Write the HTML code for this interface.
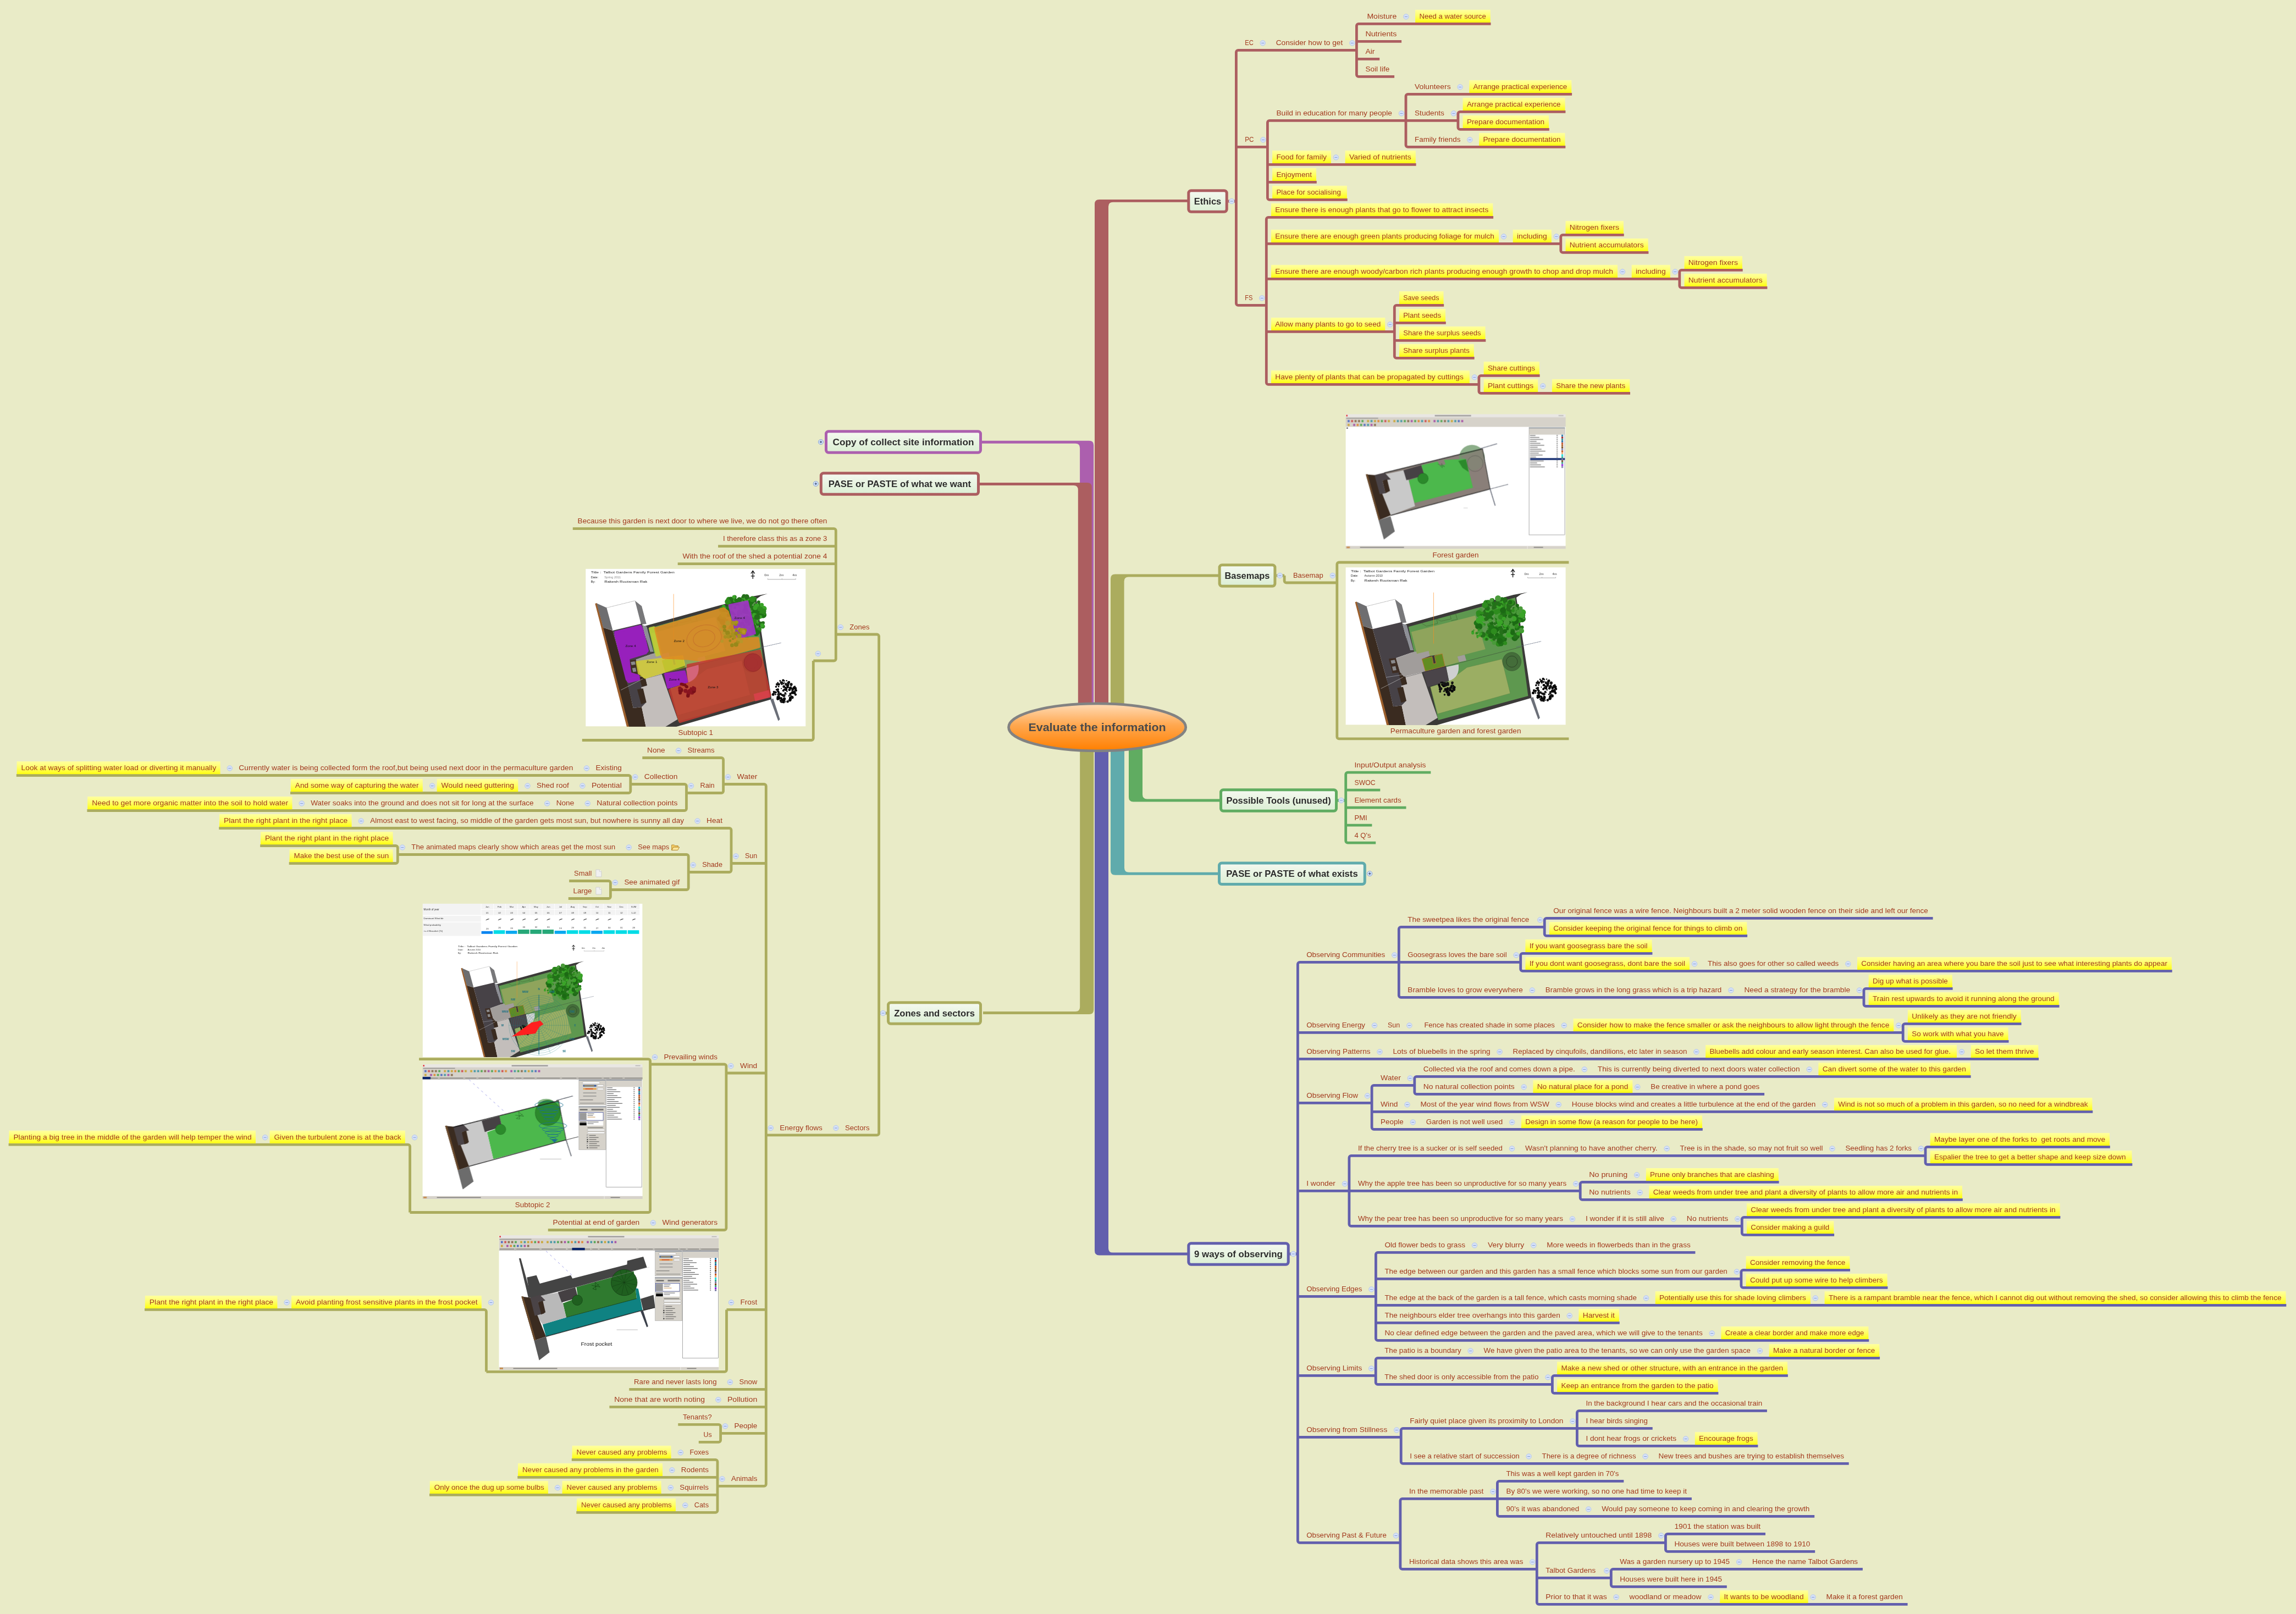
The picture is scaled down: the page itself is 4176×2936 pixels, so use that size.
<!DOCTYPE html>
<html><head><meta charset="utf-8"><title>Evaluate the information</title>
<style>html,body{margin:0;padding:0;background:#e9ebc7}svg{display:block;will-change:transform}text{white-space:pre}</style></head>
<body>
<svg width="4176" height="2936" viewBox="0 0 4176 2936" font-family="'Liberation Sans', sans-serif">
<defs>
<linearGradient id="yg" x1="0" y1="0" x2="0" y2="1"><stop offset="0" stop-color="#ffffa0"/><stop offset="0.5" stop-color="#ffff66"/><stop offset="1" stop-color="#ffff10"/></linearGradient>
<linearGradient id="mg" x1="0" y1="0" x2="0" y2="1"><stop offset="0" stop-color="#f5f9f0"/><stop offset="1" stop-color="#dbeed3"/></linearGradient>
<linearGradient id="og" x1="0" y1="0" x2="0" y2="1"><stop offset="0" stop-color="#ffdcb8"/><stop offset="0.45" stop-color="#ffa850"/><stop offset="1" stop-color="#ff7f00"/></linearGradient>
</defs>
<rect width="4176" height="2936" fill="#e9ebc7"/>
<path d="M1989.2 1323.0V810.0Q1989.2 801.8 1981.0 801.8H1784.0V806.7H1955.9Q1964.1 806.7 1964.1 814.9V1323.0Z" fill="#ac5fae"/>
<path d="M1985.7 1323.0V886.2Q1985.7 878.0 1977.5 878.0H1780.0V883.0H1952.6Q1960.8 883.0 1960.8 891.2V1323.0Z" fill="#ac5e60"/>
<path d="M1991.0 1323.0V371.1Q1991.0 362.9 1999.2 362.9H2161.0V367.8H2024.2Q2016.0 367.8 2016.0 376.0V1323.0Z" fill="#ac5e60"/>
<path d="M2020.0 1323.0V1052.8Q2020.0 1044.5 2028.2 1044.5H2217.0V1049.5H2052.8Q2044.6 1049.5 2044.6 1057.7V1323.0Z" fill="#abac5e"/>
<path d="M1989.3 1323.0V1836.8Q1989.3 1845.0 1981.1 1845.0H1788.0V1840.0H1956.0Q1964.2 1840.0 1964.2 1831.8V1323.0Z" fill="#abac5e"/>
<path d="M1991.0 1323.0V2275.2Q1991.0 2283.4 1999.2 2283.4H2161.0V2278.6H2024.2Q2016.0 2278.6 2016.0 2270.4V1323.0Z" fill="#625fad"/>
<path d="M2020.0 1323.0V1583.5Q2020.0 1591.7 2028.2 1591.7H2217.0V1586.8H2053.2Q2045.0 1586.8 2045.0 1578.5V1323.0Z" fill="#60abac"/>
<path d="M2053.0 1323.0V1450.2Q2053.0 1458.5 2061.2 1458.5H2220.0V1453.5H2086.2Q2078.0 1453.5 2078.0 1445.3V1323.0Z" fill="#60ac61"/>
<path d="M2252.0 91.3H2304.7M2304.7 91.3H2467.4M2471.0 43.3H2565.4M2565.4 43.3H2711.5M2467.4 75.3H2549.1M2467.4 107.3H2509.2M2471.0 139.3H2536.1M2467.4 91.3V46.9C2467.4 44.9 2469.0 43.3 2471.0 43.3M2467.4 91.3V135.7C2467.4 137.7 2469.0 139.3 2471.0 139.3M2248.4 267.3H2305.4M2309.0 219.3H2557.0M2560.6 171.3H2663.6M2663.6 171.3H2859.1M2557.0 219.3H2651.9M2655.5 203.3H2847.4M2655.5 235.3H2817.8M2651.9 219.3V206.9C2651.9 204.9 2653.5 203.3 2655.5 203.3M2651.9 219.3V231.7C2651.9 233.7 2653.5 235.3 2655.5 235.3M2560.6 267.3H2681.4M2681.4 267.3H2847.3M2557.0 219.3V174.9C2557.0 172.9 2558.6 171.3 2560.6 171.3M2557.0 219.3V263.7C2557.0 265.7 2558.6 267.3 2560.6 267.3M2305.4 299.3H2437.9M2437.9 299.3H2575.6M2305.4 331.3H2394.8M2309.0 363.3H2450.7M2305.4 267.3V222.9C2305.4 220.9 2307.0 219.3 2309.0 219.3M2305.4 267.3V359.7C2305.4 361.7 2307.0 363.3 2309.0 363.3M2252.0 555.3H2303.3M2306.9 395.3H2716.1M2303.3 443.3H2743.0M2743.0 443.3H2838.8M2842.4 427.3H2953.7M2842.4 459.3H2998.4M2838.8 443.3V430.9C2838.8 428.9 2840.4 427.3 2842.4 427.3M2838.8 443.3V455.7C2838.8 457.7 2840.4 459.3 2842.4 459.3M2303.3 507.3H2959.0M2959.0 507.3H3054.8M3058.4 491.3H3169.7M3058.4 523.3H3214.4M3054.8 507.3V494.9C3054.8 492.9 3056.4 491.3 3058.4 491.3M3054.8 507.3V519.7C3054.8 521.7 3056.4 523.3 3058.4 523.3M2303.3 603.3H2536.3M2539.9 555.3H2626.2M2536.3 587.3H2629.8M2536.3 619.3H2702.3M2539.9 651.3H2681.6M2536.3 603.3V558.9C2536.3 556.9 2537.9 555.3 2539.9 555.3M2536.3 603.3V647.7C2536.3 649.7 2537.9 651.3 2539.9 651.3M2306.9 699.3H2689.9M2693.5 683.3H2800.6M2693.5 715.3H2814.2M2814.2 715.3H2965.0M2689.9 699.3V686.9C2689.9 684.9 2691.5 683.3 2693.5 683.3M2689.9 699.3V711.7C2689.9 713.7 2691.5 715.3 2693.5 715.3M2303.3 555.3V398.9C2303.3 396.9 2304.9 395.3 2306.9 395.3M2303.3 555.3V695.7C2303.3 697.7 2304.9 699.3 2306.9 699.3M2248.4 366.0V94.9C2248.4 92.9 2250.0 91.3 2252.0 91.3M2248.4 366.0V551.7C2248.4 553.7 2250.0 555.3 2252.0 555.3M2233.7 366.0H2248.4" fill="none" stroke="#ac5e60" stroke-width="4.8" stroke-linejoin="round"/>
<path d="M2339.7 1060.0H2431.8M2435.4 1023.0H2853.4M2435.4 1343.8H2853.4M2431.8 1060.0V1026.5C2431.8 1024.6 2433.4 1023.0 2435.4 1023.0M2431.8 1060.0V1340.2C2431.8 1342.1 2433.4 1343.8 2435.4 1343.8M2336.1 1047.0V1056.4C2336.1 1058.4 2337.7 1060.0 2339.7 1060.0M2321.4 1047.0H2336.1M1595.0 1154.0H1520.3M1516.7 961.6H1041.8M1520.3 993.6H1306.1M1520.3 1025.6H1232.7M1516.7 1202.0H1479.3M1475.7 1346.5H1058.8M1479.3 1202.0V1342.9C1479.3 1344.9 1477.7 1346.5 1475.7 1346.5M1520.3 1154.0V965.2C1520.3 963.2 1518.7 961.6 1516.7 961.6M1520.3 1154.0V1198.5C1520.3 1200.4 1518.7 1202.0 1516.7 1202.0M1595.0 2064.9H1511.9M1511.9 2064.9H1393.3M1389.7 1426.5H1315.6M1312.0 1378.5H1225.6M1225.6 1378.5H1168.3M1312.0 1442.5H1248.5M1244.9 1426.5H1146.8M1143.2 1410.5H1058.4M1058.4 1410.5H409.3M409.3 1410.5H29.8M1143.2 1442.5H1050.9M1050.9 1442.5H951.0M951.0 1442.5H777.6M777.6 1442.5H528.0M1146.8 1426.5V1414.1C1146.8 1412.1 1145.2 1410.5 1143.2 1410.5M1146.8 1426.5V1438.9C1146.8 1440.9 1145.2 1442.5 1143.2 1442.5M1244.9 1474.5H1060.2M1060.2 1474.5H986.7M986.7 1474.5H540.2M540.2 1474.5H158.4M1248.5 1442.5V1430.1C1248.5 1428.1 1246.9 1426.5 1244.9 1426.5M1248.5 1442.5V1470.9C1248.5 1472.9 1246.9 1474.5 1244.9 1474.5M1315.6 1426.5V1382.1C1315.6 1380.1 1314.0 1378.5 1312.0 1378.5M1315.6 1426.5V1438.9C1315.6 1440.9 1314.0 1442.5 1312.0 1442.5M1393.3 1570.5H1330.0M1326.4 1506.5H1260.1M1260.1 1506.5H648.3M648.3 1506.5H398.2M1326.4 1586.5H1252.2M1248.6 1554.5H1135.2M1135.2 1554.5H723.3M719.7 1538.5H473.2M719.7 1570.5H525.7M723.3 1554.5V1542.1C723.3 1540.1 721.7 1538.5 719.7 1538.5M723.3 1554.5V1566.9C723.3 1568.9 721.7 1570.5 719.7 1570.5M1248.6 1618.5H1110.4M1106.8 1602.5H1035.2M1106.8 1634.5H1033.8M1110.4 1618.5V1606.1C1110.4 1604.1 1108.8 1602.5 1106.8 1602.5M1110.4 1618.5V1630.9C1110.4 1632.9 1108.8 1634.5 1106.8 1634.5M1252.2 1586.5V1558.1C1252.2 1556.1 1250.6 1554.5 1248.6 1554.5M1252.2 1586.5V1614.9C1252.2 1616.9 1250.6 1618.5 1248.6 1618.5M1330.0 1570.5V1510.1C1330.0 1508.1 1328.4 1506.5 1326.4 1506.5M1330.0 1570.5V1582.9C1330.0 1584.9 1328.4 1586.5 1326.4 1586.5M1393.3 1952.0H1320.9M1317.3 1936.0H1182.6M1179.0 1926.7H762.1M1179.0 2205.5H745.6M742.0 2082.1H473.6M473.6 2082.1H15.6M745.6 2205.5V2085.7C745.6 2083.7 744.0 2082.1 742.0 2082.1M1182.6 1936.0V1930.3C1182.6 1928.3 1181.0 1926.7 1179.0 1926.7M1182.6 1936.0V2201.9C1182.6 2203.9 1181.0 2205.5 1179.0 2205.5M1317.3 2237.5H1179.4M1179.4 2237.5H996.8M1320.9 1952.0V1939.6C1320.9 1937.6 1319.3 1936.0 1317.3 1936.0M1320.9 1952.0V2233.9C1320.9 2235.9 1319.3 2237.5 1317.3 2237.5M1393.3 2382.4H1321.5M1317.9 2495.3H884.5M880.9 2382.4H513.1M513.1 2382.4H263.0M884.5 2495.3V2386.0C884.5 2384.0 882.9 2382.4 880.9 2382.4M1321.5 2382.4V2491.7C1321.5 2493.7 1319.9 2495.3 1317.9 2495.3M1393.3 2527.3H1319.4M1319.4 2527.3H1144.3M1393.3 2559.3H1297.9M1297.9 2559.3H1108.4M1393.3 2607.3H1310.6M1307.0 2591.3H1233.3M1307.0 2623.3H1270.8M1310.6 2607.3V2594.9C1310.6 2592.9 1309.0 2591.3 1307.0 2591.3M1310.6 2607.3V2619.7C1310.6 2621.7 1309.0 2623.3 1307.0 2623.3M1389.7 2703.3H1305.0M1301.4 2655.3H1229.4M1229.4 2655.3H1039.8M1305.0 2687.3H1213.8M1213.8 2687.3H941.3M1305.0 2719.3H1211.3M1211.3 2719.3H1005.6M1005.6 2719.3H781.0M1301.4 2751.3H1237.8M1237.8 2751.3H1048.2M1305.0 2703.3V2658.9C1305.0 2656.9 1303.3 2655.3 1301.4 2655.3M1305.0 2703.3V2747.7C1305.0 2749.7 1303.3 2751.3 1301.4 2751.3M1393.3 2064.9V1430.1C1393.3 1428.1 1391.7 1426.5 1389.7 1426.5M1393.3 2064.9V2699.7C1393.3 2701.7 1391.7 2703.3 1389.7 2703.3M1598.6 1843.0V1157.6C1598.6 1155.7 1597.0 1154.0 1595.0 1154.0M1598.6 1843.0V2061.3C1598.6 2063.3 1597.0 2064.9 1595.0 2064.9M1613.0 1843.0H1598.6" fill="none" stroke="#abac5e" stroke-width="4.8" stroke-linejoin="round"/>
<path d="M2451.3 1405.2H2602.3M2447.7 1437.2H2510.3M2447.7 1469.2H2557.5M2447.7 1501.2H2495.4M2451.3 1533.2H2502.2M2447.7 1456.0V1408.8C2447.7 1406.8 2449.3 1405.2 2451.3 1405.2M2447.7 1456.0V1529.6C2447.7 1531.6 2449.3 1533.2 2451.3 1533.2M2433.0 1456.0H2447.7" fill="none" stroke="#60ac61" stroke-width="4.8" stroke-linejoin="round"/>
<path d="M2364.0 1750.4H2544.3M2547.9 1686.4H2809.2M2812.8 1670.4H3515.6M2812.8 1702.4H3178.1M2809.2 1686.4V1674.0C2809.2 1672.0 2810.8 1670.4 2812.8 1670.4M2809.2 1686.4V1698.8C2809.2 1700.8 2810.8 1702.4 2812.8 1702.4M2544.3 1750.4H2765.7M2769.3 1734.4H3005.4M2769.3 1766.4H3090.0M3090.0 1766.4H3369.3M3369.3 1766.4H3950.7M2765.7 1750.4V1738.0C2765.7 1736.0 2767.3 1734.4 2769.3 1734.4M2765.7 1750.4V1762.8C2765.7 1764.8 2767.3 1766.4 2769.3 1766.4M2547.9 1814.4H2794.8M2794.8 1814.4H3156.4M3156.4 1814.4H3390.0M3393.6 1798.4H3551.6M3393.6 1830.4H3745.5M3390.0 1814.4V1802.0C3390.0 1800.0 3391.6 1798.4 3393.6 1798.4M3390.0 1814.4V1826.8C3390.0 1828.8 3391.6 1830.4 3393.6 1830.4M2544.3 1750.4V1690.0C2544.3 1688.0 2546.0 1686.4 2547.9 1686.4M2544.3 1750.4V1810.8C2544.3 1812.8 2546.0 1814.4 2547.9 1814.4M2360.4 1878.4H2508.0M2508.0 1878.4H2571.4M2571.4 1878.4H2852.8M2852.8 1878.4H3461.2M3464.8 1862.4H3676.5M3464.8 1894.4H3653.5M3461.2 1878.4V1866.0C3461.2 1864.0 3462.9 1862.4 3464.8 1862.4M3461.2 1878.4V1890.8C3461.2 1892.8 3462.9 1894.4 3464.8 1894.4M2360.4 1926.4H2517.5M2517.5 1926.4H2735.6M2735.6 1926.4H3093.4M3093.4 1926.4H3576.0M3576.0 1926.4H3708.1M2360.4 2006.4H2495.1M2498.7 1974.4H2572.8M2576.4 1958.4H2889.8M2889.8 1958.4H3298.7M3298.7 1958.4H3584.6M2576.4 1990.4H2779.7M2779.7 1990.4H2986.3M2986.3 1990.4H3209.1M2572.8 1974.4V1962.0C2572.8 1960.0 2574.4 1958.4 2576.4 1958.4M2572.8 1974.4V1986.8C2572.8 1988.8 2574.4 1990.4 2576.4 1990.4M2495.1 2022.4H2567.5M2567.5 2022.4H2842.8M2842.8 2022.4H3327.2M3327.2 2022.4H3806.3M2498.7 2054.4H2577.8M2577.8 2054.4H2758.2M2758.2 2054.4H3096.8M2495.1 2006.4V1978.0C2495.1 1976.0 2496.7 1974.4 2498.7 1974.4M2495.1 2006.4V2050.8C2495.1 2052.8 2496.7 2054.4 2498.7 2054.4M2360.4 2166.4H2453.9M2457.5 2102.4H2758.0M2758.0 2102.4H3039.6M3039.6 2102.4H3340.5M3340.5 2102.4H3502.0M3505.6 2086.4H3837.8M3505.6 2118.4H3878.3M3502.0 2102.4V2090.0C3502.0 2088.0 3503.6 2086.4 3505.6 2086.4M3502.0 2102.4V2114.8C3502.0 2116.8 3503.6 2118.4 3505.6 2118.4M2453.9 2166.4H2874.2M2877.8 2150.4H2985.1M2985.1 2150.4H3235.6M2877.8 2182.4H2990.7M2990.7 2182.4H3569.8M2874.2 2166.4V2154.0C2874.2 2152.0 2875.8 2150.4 2877.8 2150.4M2874.2 2166.4V2178.8C2874.2 2180.8 2875.8 2182.4 2877.8 2182.4M2457.5 2230.4H2867.9M2867.9 2230.4H3051.8M3051.8 2230.4H3168.3M3171.9 2214.4H3747.4M3171.9 2246.4H3336.1M3168.3 2230.4V2218.0C3168.3 2216.0 3169.9 2214.4 3171.9 2214.4M3168.3 2230.4V2242.8C3168.3 2244.8 3169.9 2246.4 3171.9 2246.4M2453.9 2166.4V2106.0C2453.9 2104.0 2455.5 2102.4 2457.5 2102.4M2453.9 2166.4V2226.8C2453.9 2228.8 2455.5 2230.4 2457.5 2230.4M2360.4 2358.4H2502.4M2506.0 2278.4H2690.0M2690.0 2278.4H2797.3M2797.3 2278.4H3083.4M2502.4 2326.4H3166.9M3170.5 2310.4H3365.0M3170.5 2342.4H3433.4M3166.9 2326.4V2314.0C3166.9 2312.0 3168.5 2310.4 3170.5 2310.4M3166.9 2326.4V2338.8C3166.9 2340.8 3168.5 2342.4 3170.5 2342.4M2502.4 2374.4H3002.0M3002.0 2374.4H3309.9M3309.9 2374.4H4158.3M2502.4 2406.4H2862.7M2862.7 2406.4H2945.7M2506.0 2438.4H3121.7M3121.7 2438.4H3399.3M2502.4 2358.4V2282.0C2502.4 2280.0 2504.0 2278.4 2506.0 2278.4M2502.4 2358.4V2434.8C2502.4 2436.8 2504.0 2438.4 2506.0 2438.4M2360.4 2502.4H2502.2M2505.8 2470.4H2682.6M2682.6 2470.4H3209.0M3209.0 2470.4H3419.1M2505.8 2518.4H2823.4M2827.0 2502.4H3251.9M2827.0 2534.4H3125.4M2823.4 2518.4V2506.0C2823.4 2504.0 2825.0 2502.4 2827.0 2502.4M2823.4 2518.4V2530.8C2823.4 2532.8 2825.0 2534.4 2827.0 2534.4M2502.2 2502.4V2474.0C2502.2 2472.0 2503.9 2470.4 2505.8 2470.4M2502.2 2502.4V2514.8C2502.2 2516.8 2503.9 2518.4 2505.8 2518.4M2360.4 2614.4H2548.2M2551.8 2598.4H2868.4M2872.0 2566.4H3213.9M2868.4 2598.4H3005.7M2872.0 2630.4H3074.1M3074.1 2630.4H3197.4M2868.4 2598.4V2570.0C2868.4 2568.0 2870.0 2566.4 2872.0 2566.4M2868.4 2598.4V2626.8C2868.4 2628.8 2870.0 2630.4 2872.0 2630.4M2551.8 2662.4H2788.6M2788.6 2662.4H3000.6M3000.6 2662.4H3362.7M2548.2 2614.4V2602.0C2548.2 2600.0 2549.8 2598.4 2551.8 2598.4M2548.2 2614.4V2658.8C2548.2 2660.8 2549.8 2662.4 2551.8 2662.4M2364.0 2806.4H2546.9M2550.5 2726.4H2723.4M2727.0 2694.4H2953.3M2723.4 2726.4H3076.9M2727.0 2758.4H2897.2M2897.2 2758.4H3300.2M2723.4 2726.4V2698.0C2723.4 2696.0 2725.0 2694.4 2727.0 2694.4M2723.4 2726.4V2754.8C2723.4 2756.8 2725.0 2758.4 2727.0 2758.4M2550.5 2854.4H2795.3M2798.9 2806.4H3029.4M3033.0 2790.4H3211.0M3033.0 2822.4H3301.2M3029.4 2806.4V2794.0C3029.4 2792.0 3031.0 2790.4 3033.0 2790.4M3029.4 2806.4V2818.8C3029.4 2820.8 3031.0 2822.4 3033.0 2822.4M2795.3 2870.4H2930.3M2933.9 2854.4H3171.1M3171.1 2854.4H3387.9M2933.9 2886.4H3140.8M2930.3 2870.4V2858.0C2930.3 2856.0 2931.9 2854.4 2933.9 2854.4M2930.3 2870.4V2882.8C2930.3 2884.8 2931.9 2886.4 2933.9 2886.4M2798.9 2918.4H2947.6M2947.6 2918.4H3119.5M3119.5 2918.4H3305.6M3305.6 2918.4H3469.6M2795.3 2854.4V2810.0C2795.3 2808.0 2796.9 2806.4 2798.9 2806.4M2795.3 2854.4V2914.8C2795.3 2916.8 2796.9 2918.4 2798.9 2918.4M2546.9 2806.4V2730.0C2546.9 2728.0 2548.5 2726.4 2550.5 2726.4M2546.9 2806.4V2850.8C2546.9 2852.8 2548.5 2854.4 2550.5 2854.4M2360.4 2281.0V1754.0C2360.4 1752.0 2362.0 1750.4 2364.0 1750.4M2360.4 2281.0V2802.8C2360.4 2804.8 2362.0 2806.4 2364.0 2806.4M2345.7 2281.0H2360.4" fill="none" stroke="#625fad" stroke-width="4.8" stroke-linejoin="round"/>
<rect x="2161.8" y="346.7" width="69.4" height="38.6" rx="4.5" fill="url(#mg)" stroke="#ac5e60" stroke-width="5"/>
<rect x="2574.1" y="17.8" width="136.6" height="23.2" fill="url(#yg)"/>
<rect x="2672.3" y="145.8" width="186.0" height="23.2" fill="url(#yg)"/>
<rect x="2660.6" y="177.8" width="186.0" height="23.2" fill="url(#yg)"/>
<rect x="2660.6" y="209.8" width="156.4" height="23.2" fill="url(#yg)"/>
<rect x="2690.1" y="241.8" width="156.4" height="23.2" fill="url(#yg)"/>
<rect x="2314.1" y="273.8" width="106.8" height="23.2" fill="url(#yg)"/>
<rect x="2446.6" y="273.8" width="128.2" height="23.2" fill="url(#yg)"/>
<rect x="2314.1" y="305.8" width="79.9" height="23.2" fill="url(#yg)"/>
<rect x="2314.1" y="337.8" width="135.8" height="23.2" fill="url(#yg)"/>
<rect x="2312.0" y="369.8" width="403.3" height="23.2" fill="url(#yg)"/>
<rect x="2312.0" y="417.8" width="414.0" height="23.2" fill="url(#yg)"/>
<rect x="2751.7" y="417.8" width="70.1" height="23.2" fill="url(#yg)"/>
<rect x="2847.5" y="401.8" width="105.4" height="23.2" fill="url(#yg)"/>
<rect x="2847.5" y="433.8" width="150.1" height="23.2" fill="url(#yg)"/>
<rect x="2312.0" y="481.8" width="630.0" height="23.2" fill="url(#yg)"/>
<rect x="2967.7" y="481.8" width="70.1" height="23.2" fill="url(#yg)"/>
<rect x="3063.5" y="465.8" width="105.4" height="23.2" fill="url(#yg)"/>
<rect x="3063.5" y="497.8" width="150.1" height="23.2" fill="url(#yg)"/>
<rect x="2312.0" y="577.8" width="207.3" height="23.2" fill="url(#yg)"/>
<rect x="2545.0" y="529.8" width="80.5" height="23.2" fill="url(#yg)"/>
<rect x="2545.0" y="561.8" width="84.0" height="23.2" fill="url(#yg)"/>
<rect x="2545.0" y="593.8" width="156.5" height="23.2" fill="url(#yg)"/>
<rect x="2545.0" y="625.8" width="135.8" height="23.2" fill="url(#yg)"/>
<rect x="2312.0" y="673.8" width="360.9" height="23.2" fill="url(#yg)"/>
<rect x="2698.6" y="657.8" width="101.3" height="23.2" fill="url(#yg)"/>
<rect x="2698.6" y="689.8" width="98.6" height="23.2" fill="url(#yg)"/>
<rect x="2822.9" y="689.8" width="141.3" height="23.2" fill="url(#yg)"/>
<rect x="2218.1" y="1027.7" width="100.8" height="38.6" rx="4.5" fill="url(#mg)" stroke="#abac5e" stroke-width="5"/>
<rect x="2220.5" y="1436.7" width="210.0" height="38.6" rx="4.5" fill="url(#mg)" stroke="#60ac61" stroke-width="5"/>
<rect x="2217.5" y="1569.9" width="264.8" height="38.6" rx="4.5" fill="url(#mg)" stroke="#60abac" stroke-width="5"/>
<rect x="2161.8" y="2261.7" width="181.4" height="38.6" rx="4.5" fill="url(#mg)" stroke="#625fad" stroke-width="5"/>
<rect x="2817.9" y="1676.9" width="359.4" height="23.2" fill="url(#yg)"/>
<rect x="2774.4" y="1708.9" width="230.2" height="23.2" fill="url(#yg)"/>
<rect x="2774.4" y="1740.9" width="298.6" height="23.2" fill="url(#yg)"/>
<rect x="3378.0" y="1740.9" width="571.9" height="23.2" fill="url(#yg)"/>
<rect x="3398.7" y="1772.9" width="152.1" height="23.2" fill="url(#yg)"/>
<rect x="3398.7" y="1804.9" width="346.0" height="23.2" fill="url(#yg)"/>
<rect x="2861.5" y="1852.9" width="582.8" height="23.2" fill="url(#yg)"/>
<rect x="3469.9" y="1836.9" width="205.8" height="23.2" fill="url(#yg)"/>
<rect x="3469.9" y="1868.9" width="182.7" height="23.2" fill="url(#yg)"/>
<rect x="3102.1" y="1900.9" width="456.9" height="23.2" fill="url(#yg)"/>
<rect x="3584.7" y="1900.9" width="122.6" height="23.2" fill="url(#yg)"/>
<rect x="3307.4" y="1932.9" width="276.4" height="23.2" fill="url(#yg)"/>
<rect x="2788.4" y="1964.9" width="180.9" height="23.2" fill="url(#yg)"/>
<rect x="3335.9" y="1996.9" width="469.5" height="23.2" fill="url(#yg)"/>
<rect x="2766.9" y="2028.9" width="329.1" height="23.2" fill="url(#yg)"/>
<rect x="3510.7" y="2060.9" width="326.3" height="23.2" fill="url(#yg)"/>
<rect x="3510.7" y="2092.9" width="366.8" height="23.2" fill="url(#yg)"/>
<rect x="2993.8" y="2124.9" width="241.0" height="23.2" fill="url(#yg)"/>
<rect x="2999.4" y="2156.9" width="569.6" height="23.2" fill="url(#yg)"/>
<rect x="3177.0" y="2188.9" width="569.6" height="23.2" fill="url(#yg)"/>
<rect x="3177.0" y="2220.9" width="158.3" height="23.2" fill="url(#yg)"/>
<rect x="3175.6" y="2284.9" width="188.7" height="23.2" fill="url(#yg)"/>
<rect x="3175.6" y="2316.9" width="257.0" height="23.2" fill="url(#yg)"/>
<rect x="3010.7" y="2348.9" width="282.2" height="23.2" fill="url(#yg)"/>
<rect x="3318.6" y="2348.9" width="838.9" height="23.2" fill="url(#yg)"/>
<rect x="2871.4" y="2380.9" width="73.5" height="23.2" fill="url(#yg)"/>
<rect x="3130.4" y="2412.9" width="268.0" height="23.2" fill="url(#yg)"/>
<rect x="3217.7" y="2444.9" width="200.6" height="23.2" fill="url(#yg)"/>
<rect x="2832.1" y="2476.9" width="419.0" height="23.2" fill="url(#yg)"/>
<rect x="2832.1" y="2508.9" width="292.5" height="23.2" fill="url(#yg)"/>
<rect x="3082.8" y="2604.9" width="113.8" height="23.2" fill="url(#yg)"/>
<rect x="3128.2" y="2892.9" width="160.4" height="23.2" fill="url(#yg)"/>
<rect x="1502.5" y="784.7" width="281.0" height="38.6" rx="4.5" fill="url(#mg)" stroke="#ac5fae" stroke-width="5"/>
<rect x="1493.3" y="860.7" width="286.2" height="38.6" rx="4.5" fill="url(#mg)" stroke="#ac5e60" stroke-width="5"/>
<rect x="1615.5" y="1823.7" width="168.0" height="38.6" rx="4.5" fill="url(#mg)" stroke="#abac5e" stroke-width="5"/>
<rect x="30.6" y="1385.0" width="370.0" height="23.2" fill="url(#yg)"/>
<rect x="794.6" y="1417.0" width="147.7" height="23.2" fill="url(#yg)"/>
<rect x="528.8" y="1417.0" width="240.0" height="23.2" fill="url(#yg)"/>
<rect x="159.2" y="1449.0" width="372.3" height="23.2" fill="url(#yg)"/>
<rect x="399.0" y="1481.0" width="240.6" height="23.2" fill="url(#yg)"/>
<rect x="474.0" y="1513.0" width="240.6" height="23.2" fill="url(#yg)"/>
<rect x="526.5" y="1545.0" width="188.1" height="23.2" fill="url(#yg)"/>
<rect x="490.6" y="2056.6" width="246.3" height="23.2" fill="url(#yg)"/>
<rect x="16.4" y="2056.6" width="448.6" height="23.2" fill="url(#yg)"/>
<rect x="530.1" y="2356.9" width="345.7" height="23.2" fill="url(#yg)"/>
<rect x="263.8" y="2356.9" width="240.6" height="23.2" fill="url(#yg)"/>
<rect x="1040.6" y="2629.8" width="180.0" height="23.2" fill="url(#yg)"/>
<rect x="942.1" y="2661.8" width="263.0" height="23.2" fill="url(#yg)"/>
<rect x="1022.6" y="2693.8" width="180.0" height="23.2" fill="url(#yg)"/>
<rect x="781.8" y="2693.8" width="215.1" height="23.2" fill="url(#yg)"/>
<rect x="1049.0" y="2725.8" width="180.0" height="23.2" fill="url(#yg)"/>
<g transform="translate(2447.6,753.5)"><svg x="0" y="0" width="400.0" height="244.9" viewBox="0 0 400.0 244.9" overflow="hidden"><rect x="0.0" y="0.0" width="400.0" height="244.9" fill="#fff"/><rect x="0.0" y="0.0" width="400.0" height="5.3" fill="#e9e7e3"/><rect x="1.0" y="1.2" width="2.2" height="2.8" fill="#e02020"/><rect x="162.0" y="1.6" width="66.0" height="2.2" fill="#555" opacity="0.55"/><rect x="387.0" y="1.8" width="9.0" height="1.6" fill="#888" opacity="0.5"/><rect x="0.0" y="5.3" width="400.0" height="17.7" fill="#d6d2ca"/><rect x="1.0" y="6.6" width="58.0" height="1.5" fill="#555" opacity="0.5"/><rect x="3.5" y="10.6" width="3.6" height="3.8" fill="#4060c0" opacity="0.85"/><rect x="9.8" y="10.6" width="3.6" height="3.8" fill="#d04040" opacity="0.85"/><rect x="16.1" y="10.6" width="3.6" height="3.8" fill="#806040" opacity="0.85"/><rect x="22.4" y="10.6" width="3.6" height="3.8" fill="#806040" opacity="0.85"/><rect x="28.7" y="10.6" width="3.6" height="3.8" fill="#40a040" opacity="0.85"/><rect x="38.8" y="10.6" width="3.6" height="3.8" fill="#c8a020" opacity="0.85"/><rect x="45.1" y="10.6" width="3.6" height="3.8" fill="#3090a0" opacity="0.85"/><rect x="51.4" y="10.6" width="3.6" height="3.8" fill="#c8a020" opacity="0.85"/><rect x="57.7" y="10.6" width="3.6" height="3.8" fill="#e08020" opacity="0.85"/><rect x="64.0" y="10.6" width="3.6" height="3.8" fill="#40a040" opacity="0.85"/><rect x="70.3" y="10.6" width="3.6" height="3.8" fill="#d04040" opacity="0.85"/><rect x="76.6" y="10.6" width="3.6" height="3.8" fill="#c8a020" opacity="0.85"/><rect x="86.7" y="10.6" width="3.6" height="3.8" fill="#c8a020" opacity="0.85"/><rect x="93.0" y="10.6" width="3.6" height="3.8" fill="#3090a0" opacity="0.85"/><rect x="99.3" y="10.6" width="3.6" height="3.8" fill="#3090a0" opacity="0.85"/><rect x="105.6" y="10.6" width="3.6" height="3.8" fill="#40a040" opacity="0.85"/><rect x="111.9" y="10.6" width="3.6" height="3.8" fill="#806040" opacity="0.85"/><rect x="118.2" y="10.6" width="3.6" height="3.8" fill="#a040a0" opacity="0.85"/><rect x="124.5" y="10.6" width="3.6" height="3.8" fill="#40a040" opacity="0.85"/><rect x="130.8" y="10.6" width="3.6" height="3.8" fill="#e08020" opacity="0.85"/><rect x="137.1" y="10.6" width="3.6" height="3.8" fill="#3090a0" opacity="0.85"/><rect x="143.4" y="10.6" width="3.6" height="3.8" fill="#d04040" opacity="0.85"/><rect x="149.7" y="10.6" width="3.6" height="3.8" fill="#e08020" opacity="0.85"/><rect x="159.7" y="10.6" width="3.6" height="3.8" fill="#a040a0" opacity="0.85"/><rect x="166.0" y="10.6" width="3.6" height="3.8" fill="#3090a0" opacity="0.85"/><rect x="172.3" y="10.6" width="3.6" height="3.8" fill="#40a040" opacity="0.85"/><rect x="178.6" y="10.6" width="3.6" height="3.8" fill="#806040" opacity="0.85"/><rect x="184.9" y="10.6" width="3.6" height="3.8" fill="#3090a0" opacity="0.85"/><rect x="191.2" y="10.6" width="3.6" height="3.8" fill="#c8a020" opacity="0.85"/><rect x="197.5" y="10.6" width="3.6" height="3.8" fill="#3090a0" opacity="0.85"/><rect x="203.8" y="10.6" width="3.6" height="3.8" fill="#4060c0" opacity="0.85"/><rect x="210.1" y="10.6" width="3.6" height="3.8" fill="#a040a0" opacity="0.85"/><rect x="3.5" y="17.6" width="3.6" height="3.8" fill="#c8a020" opacity="0.85"/><rect x="13.6" y="17.6" width="3.6" height="3.8" fill="#a040a0" opacity="0.85"/><rect x="19.9" y="17.6" width="3.6" height="3.8" fill="#e08020" opacity="0.85"/><rect x="26.2" y="17.6" width="3.6" height="3.8" fill="#40a040" opacity="0.85"/><rect x="32.5" y="17.6" width="3.6" height="3.8" fill="#4060c0" opacity="0.85"/><rect x="38.8" y="17.6" width="3.6" height="3.8" fill="#3090a0" opacity="0.85"/><rect x="45.1" y="17.6" width="3.6" height="3.8" fill="#a040a0" opacity="0.85"/><rect x="51.4" y="17.6" width="3.6" height="3.8" fill="#806040" opacity="0.85"/><rect x="0.0" y="239.7" width="400.0" height="5.2" fill="#d6d2ca"/><rect x="1.5" y="240.7" width="6.0" height="3.0" fill="#c07020" opacity="0.7"/><rect x="26.0" y="241.5" width="80.0" height="1.5" fill="#444" opacity="0.6"/><rect x="330.0" y="239.7" width="0.8" height="5.2" fill="#f4f2ee"/><rect x="342.0" y="241.5" width="17.0" height="1.5" fill="#444" opacity="0.6"/><rect x="1.5" y="24.5" width="2.5" height="1.6" fill="#111"/><rect x="333.6" y="24.1" width="65.0" height="195.5" fill="#fff" stroke="#555" stroke-width="0.5"/><rect x="333.6" y="24.1" width="65.0" height="13.1" fill="#d6d2ca"/><rect x="333.6" y="24.1" width="65.0" height="1.8" fill="#9aa0a8"/><rect x="335.1" y="38.1" width="10.0" height="1.3" fill="#444" opacity="0.75"/><rect x="383.6" y="37.8" width="1.8" height="1.8" fill="#333" opacity="0.7"/><rect x="392.4" y="37.4" width="3.0" height="3.2" fill="#0a6aa0"/><rect x="335.1" y="41.7" width="17.0" height="1.3" fill="#444" opacity="0.75"/><rect x="383.6" y="41.4" width="1.8" height="1.8" fill="#333" opacity="0.7"/><rect x="392.4" y="41.0" width="3.0" height="3.2" fill="#a01010"/><rect x="335.1" y="45.2" width="24.0" height="1.3" fill="#444" opacity="0.75"/><rect x="383.6" y="44.9" width="1.8" height="1.8" fill="#333" opacity="0.7"/><rect x="392.4" y="44.5" width="3.0" height="3.2" fill="#108080"/><rect x="335.1" y="48.8" width="12.0" height="1.3" fill="#444" opacity="0.75"/><rect x="383.6" y="48.5" width="1.8" height="1.8" fill="#333" opacity="0.7"/><rect x="392.4" y="48.1" width="3.0" height="3.2" fill="#1060a0"/><rect x="335.1" y="52.3" width="19.0" height="1.3" fill="#444" opacity="0.75"/><rect x="383.6" y="52.0" width="1.8" height="1.8" fill="#333" opacity="0.7"/><rect x="392.4" y="51.6" width="3.0" height="3.2" fill="#c04010"/><rect x="335.1" y="55.9" width="26.0" height="1.3" fill="#444" opacity="0.75"/><rect x="383.6" y="55.6" width="1.8" height="1.8" fill="#333" opacity="0.7"/><rect x="392.4" y="55.2" width="3.0" height="3.2" fill="#a05010"/><rect x="335.1" y="59.5" width="14.0" height="1.3" fill="#444" opacity="0.75"/><rect x="383.6" y="59.2" width="1.8" height="1.8" fill="#333" opacity="0.7"/><rect x="392.4" y="58.8" width="3.0" height="3.2" fill="#704010"/><rect x="335.1" y="63.0" width="21.0" height="1.3" fill="#444" opacity="0.75"/><rect x="383.6" y="62.7" width="1.8" height="1.8" fill="#333" opacity="0.7"/><rect x="392.4" y="62.3" width="3.0" height="3.2" fill="#7070a0"/><rect x="335.1" y="66.6" width="28.0" height="1.3" fill="#444" opacity="0.75"/><rect x="383.6" y="66.3" width="1.8" height="1.8" fill="#333" opacity="0.7"/><rect x="392.4" y="65.9" width="3.0" height="3.2" fill="#c05010"/><rect x="335.1" y="70.1" width="16.0" height="1.3" fill="#444" opacity="0.75"/><rect x="383.6" y="69.8" width="1.8" height="1.8" fill="#333" opacity="0.7"/><rect x="392.4" y="69.4" width="3.0" height="3.2" fill="#f0a060"/><rect x="335.1" y="73.7" width="23.0" height="1.3" fill="#444" opacity="0.75"/><rect x="383.6" y="73.4" width="1.8" height="1.8" fill="#333" opacity="0.7"/><rect x="392.4" y="73.0" width="3.0" height="3.2" fill="#00e0e0"/><rect x="335.1" y="77.3" width="11.0" height="1.3" fill="#444" opacity="0.75"/><rect x="383.6" y="77.0" width="1.8" height="1.8" fill="#333" opacity="0.7"/><rect x="392.4" y="76.6" width="3.0" height="3.2" fill="#20a080"/><rect x="335.1" y="80.8" width="18.0" height="1.3" fill="#444" opacity="0.75"/><rect x="383.6" y="80.5" width="1.8" height="1.8" fill="#333" opacity="0.7"/><rect x="335.6" y="79.9" width="63.0" height="3.3" fill="#0a246a"/><rect x="392.4" y="80.1" width="3.0" height="3.2" fill="#7070a0"/><rect x="335.1" y="84.4" width="25.0" height="1.3" fill="#444" opacity="0.75"/><rect x="383.6" y="84.1" width="1.8" height="1.8" fill="#333" opacity="0.7"/><rect x="392.4" y="83.7" width="3.0" height="3.2" fill="#704010"/><rect x="335.1" y="87.9" width="13.0" height="1.3" fill="#444" opacity="0.75"/><rect x="383.6" y="87.6" width="1.8" height="1.8" fill="#333" opacity="0.7"/><rect x="392.4" y="87.2" width="3.0" height="3.2" fill="#20a080"/><rect x="335.1" y="91.5" width="20.0" height="1.3" fill="#444" opacity="0.75"/><rect x="383.6" y="91.2" width="1.8" height="1.8" fill="#333" opacity="0.7"/><rect x="392.4" y="90.8" width="3.0" height="3.2" fill="#9010e0"/><rect x="335.1" y="95.1" width="27.0" height="1.3" fill="#444" opacity="0.75"/><rect x="383.6" y="94.8" width="1.8" height="1.8" fill="#333" opacity="0.7"/><rect x="392.4" y="94.4" width="3.0" height="3.2" fill="#7070a0"/><polygon points="70.5,106.6 248.8,62.9 262.6,136.1 82.0,184.0" fill="#8a7f79"/><circle cx="229.6" cy="79.1" r="23.4" fill="#6f9a6c" opacity="0.8"/><polygon points="208.5,76.3 248.8,63.2 262.6,136.1 231.5,133.8 218.5,81.4" fill="#8a7f79" opacity="0.75"/><polygon points="137.6,92.8 167.3,85.9 171.1,93.5 181.7,91.2 178.8,83.0 218.5,81.4 231.5,133.8 125.1,161.6 114.6,120.4 142.4,110.8" fill="#4cb84c"/><polygon points="72.4,108.9 105.0,102.1 114.6,120.4 126.1,167.3 82.0,184.0 65.2,145.3" fill="#c9c9c9"/><polygon points="105.0,102.1 137.2,92.8 143.0,111.2 110.4,120.0" fill="#464144"/><polygon points="36.6,109.4 52.9,110.8 82.0,184.0 60.0,192.8" fill="#3a2b20"/><polygon points="36.6,109.4 39.9,108.9 62.9,192.2 60.0,192.8" fill="#6a4a2c"/><polygon points="52.3,110.8 70.5,106.2 82.0,118.4 66.7,120.7 72.4,143.7 61.9,145.6" fill="#4a4346"/><polygon points="66.7,120.7 75.3,118.4 80.5,139.5 72.4,143.7" fill="#3a2b20"/><polygon points="60.0,192.8 81.4,185.5 89.3,213.3 69.6,227.7" fill="#6c6c6c"/><polyline points="60.0,192.8 69.6,227.7" fill="none" stroke="#222" stroke-width="0.5" stroke-dasharray="1,0.8"/><circle cx="140.5" cy="116.9" r="9.6" fill="#2b8a2b" stroke="#1a5a1a" stroke-width="0.5"/><polygon points="204.7,84.9 218.5,82.0 223.5,105.0 212.3,97.4" fill="#2b8a2b"/><circle cx="235.3" cy="89.7" r="14.4" fill="none" opacity="0.7" stroke="#333" stroke-width="0.5"/><polyline points="167.3,90.6 179.8,95.4 174.0,89.7 175.9,97.4 171.1,93.5" fill="none" stroke="#2a5a2a" stroke-width="0.5"/><polyline points="70.5,106.6 248.8,62.9" fill="none" stroke="#1c1c1c" stroke-width="2.0" stroke-dasharray="1.4,0.5"/><polyline points="244.9,62.5 275.2,53.7" fill="none" stroke="#4a5060" stroke-width="1.6" stroke-dasharray="1.2,0.6"/><polyline points="248.8,62.9 262.6,136.1" fill="none" stroke="#333" stroke-width="1.6" stroke-dasharray="1.4,0.5"/><polyline points="82.0,184.0 262.6,136.1" fill="none" stroke="#1c1c1c" stroke-width="1.8" stroke-dasharray="1.4,0.5"/><polyline points="262.6,136.1 295.1,127.6" fill="none" stroke="#3a4050" stroke-width="1.2" stroke-dasharray="1.2,0.6"/><polyline points="262.6,136.1 271.8,166.3" fill="none" stroke="#4a5060" stroke-width="1.8" stroke-dasharray="1.2,0.5"/><polyline points="214.3,170.6 221.9,170.6" fill="none" stroke="#888" stroke-width="0.4"/></svg></g>
<g transform="translate(2447.6,1032.2)"><rect x="0.0" y="0.0" width="400.0" height="286.2" fill="#fff"/><svg x="0" y="0" width="400.0" height="286.2" viewBox="0 0 400.0 286.2" overflow="hidden"><text x="9.5" y="8.5" font-size="5.6" fill="#222" textLength="152" lengthAdjust="spacingAndGlyphs">Title :  Talbot Gardens Family Forest Garden</text><text x="9.5" y="17.0" font-size="5.6" fill="#222">Date:</text><text x="34.0" y="17.0" font-size="5.6" fill="#333">Autumn 2010</text><text x="9.5" y="25.5" font-size="5.6" fill="#222">By:</text><text x="34.0" y="25.5" font-size="5.6" fill="#222" textLength="78" lengthAdjust="spacingAndGlyphs">Rakesh Rootsman Rak</text><path d="M304 4v14M300.5 8.5l3.5-5 3.5 5M300.5 13h7" stroke="#111" stroke-width="1.3" fill="none"/><text x="325.0" y="13.5" font-size="5.8" fill="#333">0m</text><text x="352.0" y="13.5" font-size="5.8" fill="#333">2m</text><text x="376.0" y="13.5" font-size="5.8" fill="#333">4m</text><path d="M331 19h51M331 17.5v1.5M357 17.5v1.5M382 17.5v1.5" stroke="#555" stroke-width="0.5" fill="none"/><polygon points="17.0,63.0 20.4,62.2 81.0,290.9 75.6,290.9" fill="#9c5f2c"/><polygon points="20.0,62.6 38.0,70.7 49.1,111.6 31.9,106.9" fill="#6e6e70"/><polygon points="89.6,57.9 101.8,67.5 110.4,100.2 100.8,101.0" fill="#78787a"/><polyline points="38.0,70.7 89.6,57.9" fill="none" stroke="#333" stroke-width="0.5" stroke-dasharray="1.5,1"/><polygon points="31.9,106.9 49.1,112.0 74.2,202.0 77.3,212.2 86.5,253.1 101.8,251.1 110.2,290.9 79.7,290.9" fill="#3a2b20"/><polygon points="97.7,201.0 144.8,189.7 148.8,216.3 154.0,217.3 168.3,273.6 138.8,290.9 110.2,290.9 101.8,251.1 110.0,242.9 100.8,215.3" fill="#c3bebb"/><polygon points="105.9,104.3 238.8,67.5 305.3,49.7 330.8,45.0 318.5,49.1 310.4,54.8 338.0,237.2 151.9,290.9 138.8,290.9 167.2,273.6 126.4,157.0 114.1,150.9" fill="#3b3a38"/><polygon points="114.1,108.0 236.8,74.2 308.3,54.8 331.8,233.7 168.3,277.7 154.0,217.3 185.6,207.1 182.6,183.6 179.5,157.0 152.9,161.1 129.4,157.0 124.3,153.3" fill="#5e984f"/><polygon points="49.1,112.0 102.4,99.4 116.1,150.9 124.3,153.3 91.6,164.8 98.8,190.8 105.9,188.7 111.6,212.2 100.8,215.3 110.0,242.9 101.8,251.1 86.5,253.1 74.2,202.0" fill="#474247"/><polygon points="102.8,101.8 111.0,104.9 123.3,150.9 117.2,150.9" fill="#8d8f96"/><polygon points="78.3,166.0 91.6,164.8 98.8,190.8 85.1,192.6" fill="#3f2e24"/><polygon points="81.8,169.3 89.1,168.1 90.6,173.8 83.4,175.0" fill="#8a8a8c"/><polygon points="84.4,180.5 90.6,179.5 92.2,186.7 86.1,187.7" fill="#8a8a8c"/><polygon points="96.1,191.8 105.9,188.7 111.6,211.8 102.2,214.3" fill="#3a2b20"/><polygon points="93.6,219.4 104.3,217.3 110.4,242.9 100.8,246.0" fill="#3a2b20"/><polyline points="73.2,200.0 105.9,194.8" fill="none" stroke="#cfd4e0" stroke-width="0.5"/><polyline points="64.0,220.4 103.9,200.0" fill="none" stroke="#e8e8e8" stroke-width="0.5"/><polygon points="91.2,165.2 124.3,153.3 151.3,151.9 153.3,161.1 139.0,166.4 145.2,189.3 105.9,198.9 98.8,190.8" fill="#a19d9b"/><polygon points="119.2,117.2 235.7,87.5 254.1,148.8 203.0,162.1 206.1,172.4 180.5,179.5 175.4,157.0 152.9,161.1 150.9,151.9 129.4,157.0" fill="#8fa45c"/><polyline points="138.6,101.8 146.8,106.9 167.2,101.8 165.2,93.6 173.4,97.7 191.8,93.6 189.7,86.5 200.0,84.4 203.0,94.7 191.8,96.7" fill="none" stroke="#3f5f2f" stroke-width="0.6"/><polygon points="154.0,217.3 186.1,207.7 220.4,182.0 283.8,166.8 299.1,229.0 167.2,266.4" fill="#9bae63" stroke="#4e6a34" stroke-width="0.4" stroke-dasharray="1.5,1"/><path d="M182.6 181.1L205.1 176.4Q208.1 200.0 187.7 206.5Z" fill="#cfd0d0"/><polygon points="203.0,162.1 216.3,158.7 219.4,169.3 206.1,172.4" fill="#a19d9b"/><polygon points="138.6,166.8 157.0,162.1 159.5,175.4 164.2,174.4 161.5,160.7 175.4,157.0 180.5,179.5 144.8,188.7" fill="#628c22" stroke="#c5772f" stroke-width="0.8"/><polygon points="140.7,189.7 182.6,180.5 187.7,206.1 148.8,217.3" fill="#4a4449"/><polyline points="105.9,200.0 318.5,144.8" fill="none" stroke="#2f2f2f" stroke-width="0.7" stroke-dasharray="1.5,0.8"/><polyline points="159.9,45.6 159.9,138.6" fill="none" stroke="#ff8c1a" stroke-width="0.6"/><polyline points="310.4,144.8 355.3,134.5" fill="none" stroke="#5a6478" stroke-width="1.0" stroke-dasharray="1,0.5"/><polygon points="335.9,237.8 341.0,235.7 353.3,273.6 350.2,276.6" fill="#6b6f78"/><circle cx="302.2" cy="171.3" r="16.8" fill="#2f4a2a" opacity="0.55" stroke="#1d2b1a" stroke-width="0.8"/><circle cx="302.2" cy="171.3" r="10.2" fill="none" stroke="#1d2b1a" stroke-width="0.6"/><circle cx="274.1" cy="112.2" r="4.5" fill="#2e8c1e"/><circle cx="310.6" cy="111.2" r="3.5" fill="#1f7416"/><circle cx="311.0" cy="108.3" r="2.3" fill="#3aa428"/><circle cx="271.1" cy="102.2" r="2.5" fill="#256f1a"/><circle cx="246.2" cy="115.1" r="2.6" fill="#4a9a3a"/><circle cx="287.6" cy="130.3" r="5.5" fill="#1c6a14"/><circle cx="257.2" cy="85.5" r="5.6" fill="#2e8c1e"/><circle cx="320.7" cy="108.9" r="3.2" fill="#1f7416"/><circle cx="291.0" cy="109.0" r="3.3" fill="#3aa428"/><circle cx="289.3" cy="81.5" r="4.2" fill="#256f1a"/><circle cx="264.5" cy="78.2" r="4.1" fill="#4a9a3a"/><circle cx="291.6" cy="101.6" r="2.9" fill="#1c6a14"/><circle cx="269.6" cy="73.0" r="3.3" fill="#2e8c1e"/><circle cx="256.3" cy="83.3" r="3.3" fill="#1f7416"/><circle cx="291.9" cy="64.2" r="3.1" fill="#3aa428"/><circle cx="253.3" cy="84.1" r="5.3" fill="#256f1a"/><circle cx="278.7" cy="75.5" r="5.6" fill="#4a9a3a"/><circle cx="302.7" cy="116.0" r="4.9" fill="#1c6a14"/><circle cx="299.5" cy="121.6" r="2.3" fill="#2e8c1e"/><circle cx="262.8" cy="65.9" r="4.2" fill="#1f7416"/><circle cx="299.2" cy="81.2" r="4.6" fill="#3aa428"/><circle cx="254.0" cy="80.0" r="3.8" fill="#256f1a"/><circle cx="304.6" cy="63.5" r="3.9" fill="#4a9a3a"/><circle cx="276.2" cy="88.9" r="4.7" fill="#1c6a14"/><circle cx="255.4" cy="64.5" r="5.1" fill="#2e8c1e"/><circle cx="275.9" cy="123.1" r="4.5" fill="#1f7416"/><circle cx="311.3" cy="101.7" r="2.8" fill="#3aa428"/><circle cx="289.7" cy="104.5" r="4.9" fill="#256f1a"/><circle cx="296.8" cy="112.8" r="3.6" fill="#4a9a3a"/><circle cx="290.4" cy="89.2" r="3.8" fill="#1c6a14"/><circle cx="242.4" cy="85.7" r="5.1" fill="#2e8c1e"/><circle cx="297.0" cy="81.1" r="3.7" fill="#1f7416"/><circle cx="255.6" cy="128.2" r="5.6" fill="#3aa428"/><circle cx="292.5" cy="112.0" r="3.0" fill="#256f1a"/><circle cx="284.9" cy="126.7" r="4.3" fill="#4a9a3a"/><circle cx="281.5" cy="100.4" r="3.7" fill="#1c6a14"/><circle cx="259.2" cy="120.7" r="5.5" fill="#2e8c1e"/><circle cx="270.2" cy="69.8" r="4.4" fill="#1f7416"/><circle cx="277.2" cy="89.1" r="5.4" fill="#3aa428"/><circle cx="289.4" cy="59.4" r="5.0" fill="#256f1a"/><circle cx="260.1" cy="114.2" r="2.6" fill="#4a9a3a"/><circle cx="274.5" cy="89.9" r="2.4" fill="#1c6a14"/><circle cx="286.3" cy="114.0" r="3.4" fill="#2e8c1e"/><circle cx="282.4" cy="97.9" r="2.7" fill="#1f7416"/><circle cx="303.0" cy="112.7" r="2.3" fill="#3aa428"/><circle cx="306.0" cy="74.5" r="2.7" fill="#256f1a"/><circle cx="281.4" cy="122.3" r="3.5" fill="#4a9a3a"/><circle cx="310.8" cy="124.6" r="5.7" fill="#1c6a14"/><circle cx="251.9" cy="103.9" r="2.5" fill="#2e8c1e"/><circle cx="302.3" cy="112.4" r="3.1" fill="#1f7416"/><circle cx="290.1" cy="83.0" r="2.3" fill="#3aa428"/><circle cx="312.2" cy="88.5" r="2.7" fill="#256f1a"/><circle cx="274.8" cy="95.9" r="4.1" fill="#4a9a3a"/><circle cx="322.2" cy="92.5" r="4.6" fill="#1c6a14"/><circle cx="279.9" cy="123.0" r="2.8" fill="#2e8c1e"/><circle cx="286.1" cy="67.5" r="4.9" fill="#1f7416"/><circle cx="271.8" cy="115.0" r="5.1" fill="#3aa428"/><circle cx="322.2" cy="94.1" r="5.0" fill="#256f1a"/><circle cx="297.5" cy="65.1" r="3.0" fill="#4a9a3a"/><circle cx="255.7" cy="95.0" r="2.3" fill="#1c6a14"/><circle cx="304.6" cy="101.6" r="3.1" fill="#2e8c1e"/><circle cx="266.6" cy="59.5" r="3.8" fill="#1f7416"/><circle cx="322.1" cy="81.7" r="5.6" fill="#3aa428"/><circle cx="268.1" cy="112.5" r="3.0" fill="#256f1a"/><circle cx="288.3" cy="115.6" r="4.4" fill="#4a9a3a"/><circle cx="314.4" cy="75.3" r="3.9" fill="#1c6a14"/><circle cx="259.2" cy="67.1" r="2.5" fill="#2e8c1e"/><circle cx="259.4" cy="64.0" r="4.9" fill="#1f7416"/><circle cx="281.8" cy="68.9" r="2.8" fill="#3aa428"/><circle cx="287.9" cy="74.4" r="5.0" fill="#256f1a"/><circle cx="309.0" cy="93.1" r="3.6" fill="#4a9a3a"/><circle cx="317.1" cy="86.1" r="2.8" fill="#1c6a14"/><circle cx="293.7" cy="109.4" r="5.4" fill="#2e8c1e"/><circle cx="287.6" cy="82.8" r="5.1" fill="#1f7416"/><circle cx="317.1" cy="93.6" r="3.4" fill="#3aa428"/><circle cx="266.6" cy="93.2" r="2.2" fill="#256f1a"/><circle cx="316.6" cy="91.6" r="4.0" fill="#4a9a3a"/><circle cx="308.2" cy="86.6" r="5.3" fill="#1c6a14"/><circle cx="291.0" cy="80.7" r="3.1" fill="#2e8c1e"/><circle cx="276.0" cy="117.5" r="4.3" fill="#1f7416"/><circle cx="280.1" cy="124.7" r="2.7" fill="#3aa428"/><circle cx="303.8" cy="84.4" r="3.8" fill="#256f1a"/><circle cx="245.5" cy="77.9" r="3.7" fill="#4a9a3a"/><circle cx="308.8" cy="83.1" r="4.1" fill="#1c6a14"/><circle cx="275.8" cy="96.9" r="3.7" fill="#2e8c1e"/><circle cx="282.9" cy="100.1" r="5.0" fill="#1f7416"/><circle cx="295.9" cy="123.1" r="4.7" fill="#3aa428"/><circle cx="258.2" cy="89.4" r="4.0" fill="#256f1a"/><circle cx="245.2" cy="85.1" r="2.6" fill="#4a9a3a"/><circle cx="261.4" cy="90.0" r="3.2" fill="#1c6a14"/><circle cx="286.1" cy="68.3" r="4.2" fill="#2e8c1e"/><circle cx="284.4" cy="57.9" r="3.8" fill="#1f7416"/><circle cx="258.0" cy="78.4" r="4.0" fill="#3aa428"/><circle cx="271.3" cy="71.4" r="4.1" fill="#256f1a"/><circle cx="239.5" cy="103.3" r="4.7" fill="#4a9a3a"/><circle cx="312.2" cy="69.3" r="3.1" fill="#1c6a14"/><circle cx="242.0" cy="82.9" r="5.2" fill="#2e8c1e"/><circle cx="291.7" cy="108.8" r="3.8" fill="#1f7416"/><circle cx="301.1" cy="106.7" r="2.5" fill="#3aa428"/><circle cx="262.9" cy="65.4" r="5.4" fill="#256f1a"/><circle cx="302.8" cy="126.9" r="4.5" fill="#4a9a3a"/><circle cx="307.5" cy="128.4" r="5.6" fill="#1c6a14"/><circle cx="289.9" cy="137.7" r="3.6" fill="#2e8c1e"/><circle cx="238.1" cy="101.1" r="5.1" fill="#1f7416"/><circle cx="297.0" cy="121.0" r="4.0" fill="#3aa428"/><circle cx="271.4" cy="113.4" r="3.3" fill="#256f1a"/><circle cx="280.7" cy="92.0" r="4.1" fill="#4a9a3a"/><circle cx="276.2" cy="99.8" r="3.4" fill="#1c6a14"/><circle cx="259.3" cy="76.7" r="2.4" fill="#2e8c1e"/><circle cx="320.6" cy="94.3" r="5.6" fill="#1f7416"/><circle cx="299.7" cy="110.9" r="2.3" fill="#3aa428"/><circle cx="285.9" cy="76.4" r="2.7" fill="#256f1a"/><circle cx="244.7" cy="116.4" r="5.1" fill="#4a9a3a"/><circle cx="280.8" cy="113.8" r="5.4" fill="#1c6a14"/><circle cx="248.5" cy="82.7" r="2.5" fill="#2e8c1e"/><circle cx="315.9" cy="110.0" r="3.7" fill="#1f7416"/><circle cx="320.0" cy="115.5" r="4.4" fill="#3aa428"/><circle cx="285.8" cy="86.3" r="5.2" fill="#256f1a"/><circle cx="319.0" cy="113.5" r="3.8" fill="#4a9a3a"/><circle cx="264.4" cy="124.0" r="5.5" fill="#1c6a14"/><circle cx="280.0" cy="112.6" r="4.1" fill="#2e8c1e"/><circle cx="282.8" cy="111.5" r="2.8" fill="#1f7416"/><circle cx="300.5" cy="103.6" r="3.3" fill="#3aa428"/><circle cx="268.8" cy="132.0" r="3.2" fill="#256f1a"/><circle cx="263.2" cy="97.7" r="3.4" fill="#4a9a3a"/><circle cx="303.6" cy="100.1" r="2.3" fill="#1c6a14"/><circle cx="278.3" cy="66.9" r="2.9" fill="#2e8c1e"/><circle cx="239.8" cy="104.1" r="2.6" fill="#1f7416"/><circle cx="293.9" cy="72.8" r="3.9" fill="#3aa428"/><circle cx="295.7" cy="75.2" r="4.0" fill="#256f1a"/><circle cx="265.1" cy="59.5" r="3.4" fill="#4a9a3a"/><circle cx="300.0" cy="67.2" r="4.4" fill="#1c6a14"/><circle cx="260.3" cy="111.6" r="2.4" fill="#2e8c1e"/><circle cx="289.8" cy="105.8" r="4.8" fill="#1f7416"/><circle cx="281.1" cy="114.6" r="2.5" fill="#3aa428"/><circle cx="304.0" cy="65.0" r="4.6" fill="#256f1a"/><circle cx="277.4" cy="117.9" r="3.2" fill="#4a9a3a"/><circle cx="264.9" cy="101.9" r="3.8" fill="#1c6a14"/><circle cx="278.2" cy="138.5" r="5.6" fill="#2e8c1e"/><circle cx="261.0" cy="91.7" r="5.6" fill="#1f7416"/><circle cx="272.1" cy="120.9" r="2.2" fill="#3aa428"/><circle cx="259.5" cy="117.2" r="4.0" fill="#256f1a"/><circle cx="291.2" cy="126.0" r="2.2" fill="#4a9a3a"/><circle cx="280.6" cy="110.2" r="3.6" fill="#1c6a14"/><circle cx="288.1" cy="99.4" r="3.3" fill="#2e8c1e"/><circle cx="285.4" cy="129.5" r="4.1" fill="#1f7416"/><circle cx="281.9" cy="63.9" r="4.7" fill="#3aa428"/><circle cx="301.6" cy="79.8" r="3.3" fill="#256f1a"/><circle cx="298.7" cy="96.2" r="4.7" fill="#4a9a3a"/><circle cx="276.0" cy="90.9" r="5.1" fill="#1c6a14"/><circle cx="308.8" cy="77.0" r="4.8" fill="#2e8c1e"/><circle cx="288.0" cy="83.3" r="4.0" fill="#1f7416"/><circle cx="241.6" cy="96.7" r="5.0" fill="#3aa428"/><circle cx="297.3" cy="69.4" r="5.3" fill="#256f1a"/><circle cx="266.8" cy="66.0" r="3.0" fill="#4a9a3a"/><circle cx="297.5" cy="100.7" r="3.5" fill="#1c6a14"/><circle cx="313.5" cy="121.1" r="4.2" fill="#2e8c1e"/><circle cx="257.6" cy="74.0" r="4.6" fill="#1f7416"/><circle cx="279.2" cy="97.9" r="5.0" fill="#3aa428"/><circle cx="281.4" cy="68.1" r="4.1" fill="#256f1a"/><circle cx="275.6" cy="88.7" r="4.8" fill="#4a9a3a"/><circle cx="281.6" cy="109.1" r="3.1" fill="#1c6a14"/><circle cx="279.2" cy="79.0" r="4.8" fill="#2e8c1e"/><circle cx="312.3" cy="93.3" r="3.5" fill="#1f7416"/><circle cx="245.7" cy="102.3" r="4.9" fill="#3aa428"/><circle cx="255.6" cy="75.3" r="2.5" fill="#256f1a"/><circle cx="295.1" cy="114.6" r="4.8" fill="#4a9a3a"/><circle cx="270.6" cy="127.4" r="2.2" fill="#1c6a14"/><circle cx="302.9" cy="105.8" r="4.6" fill="#2e8c1e"/><circle cx="268.9" cy="65.6" r="3.2" fill="#1f7416"/><circle cx="251.9" cy="94.8" r="3.8" fill="#3aa428"/><circle cx="312.3" cy="124.5" r="2.9" fill="#256f1a"/><circle cx="323.9" cy="92.2" r="2.3" fill="#4a9a3a"/><circle cx="243.3" cy="107.4" r="5.6" fill="#1c6a14"/><circle cx="260.1" cy="104.5" r="2.9" fill="#2e8c1e"/><circle cx="300.8" cy="91.3" r="4.2" fill="#1f7416"/><circle cx="301.8" cy="121.2" r="5.5" fill="#3aa428"/><circle cx="308.5" cy="125.7" r="4.0" fill="#256f1a"/><circle cx="309.7" cy="74.9" r="3.0" fill="#4a9a3a"/><circle cx="306.3" cy="80.3" r="2.3" fill="#1c6a14"/><circle cx="312.6" cy="98.4" r="3.8" fill="#2e8c1e"/><circle cx="276.5" cy="112.6" r="3.4" fill="#1f7416"/><circle cx="265.5" cy="132.8" r="2.2" fill="#3aa428"/><circle cx="281.9" cy="59.5" r="2.6" fill="#256f1a"/><circle cx="315.0" cy="82.0" r="5.4" fill="#4a9a3a"/><circle cx="275.1" cy="122.4" r="3.6" fill="#1c6a14"/><circle cx="315.5" cy="97.5" r="3.5" fill="#2e8c1e"/><circle cx="261.0" cy="107.3" r="2.4" fill="#1f7416"/><circle cx="314.0" cy="120.5" r="3.2" fill="#3aa428"/><circle cx="301.9" cy="89.5" r="3.1" fill="#256f1a"/><circle cx="262.6" cy="96.5" r="3.5" fill="#4a9a3a"/><circle cx="321.5" cy="87.1" r="5.1" fill="#1c6a14"/><circle cx="253.2" cy="68.5" r="5.5" fill="#2e8c1e"/><circle cx="246.2" cy="86.9" r="2.4" fill="#1f7416"/><circle cx="278.5" cy="69.9" r="4.8" fill="#3aa428"/><circle cx="267.3" cy="80.1" r="2.4" fill="#256f1a"/><circle cx="295.8" cy="91.1" r="3.9" fill="#4a9a3a"/><circle cx="268.4" cy="116.7" r="4.8" fill="#1c6a14"/><circle cx="303.9" cy="94.6" r="4.5" fill="#2e8c1e"/><circle cx="271.4" cy="127.3" r="3.6" fill="#1f7416"/><circle cx="290.5" cy="112.3" r="2.9" fill="#3aa428"/><circle cx="307.5" cy="81.3" r="3.0" fill="#256f1a"/><circle cx="318.2" cy="74.6" r="3.8" fill="#4a9a3a"/><circle cx="294.1" cy="111.8" r="2.5" fill="#1c6a14"/><circle cx="274.5" cy="108.3" r="3.0" fill="#2e8c1e"/><circle cx="280.0" cy="129.2" r="5.3" fill="#1f7416"/><circle cx="281.7" cy="70.9" r="3.7" fill="#3aa428"/><circle cx="255.1" cy="93.9" r="3.4" fill="#256f1a"/><circle cx="303.2" cy="106.1" r="5.6" fill="#4a9a3a"/><circle cx="303.7" cy="118.8" r="4.4" fill="#1c6a14"/><circle cx="295.0" cy="83.0" r="3.2" fill="#2e8c1e"/><circle cx="282.0" cy="124.1" r="3.8" fill="#1f7416"/><circle cx="320.6" cy="86.8" r="5.3" fill="#3aa428"/><circle cx="289.6" cy="98.8" r="4.7" fill="#256f1a"/><circle cx="305.7" cy="80.2" r="4.3" fill="#4a9a3a"/><circle cx="309.2" cy="97.8" r="5.5" fill="#1c6a14"/><circle cx="300.3" cy="63.4" r="5.6" fill="#2e8c1e"/><circle cx="281.9" cy="111.5" r="2.7" fill="#1f7416"/><circle cx="245.8" cy="92.9" r="5.5" fill="#3aa428"/><circle cx="275.5" cy="64.7" r="4.9" fill="#256f1a"/><circle cx="250.3" cy="105.9" r="2.3" fill="#4a9a3a"/><circle cx="286.0" cy="78.0" r="5.4" fill="#1c6a14"/><circle cx="267.0" cy="79.5" r="2.6" fill="#2e8c1e"/><circle cx="281.3" cy="131.0" r="4.7" fill="#1f7416"/><circle cx="290.6" cy="104.9" r="4.0" fill="#3aa428"/><circle cx="258.0" cy="84.8" r="3.0" fill="#256f1a"/><circle cx="278.1" cy="95.2" r="3.3" fill="#4a9a3a"/><circle cx="240.0" cy="107.7" r="4.5" fill="#1c6a14"/><circle cx="304.3" cy="78.5" r="3.0" fill="#2e8c1e"/><circle cx="282.5" cy="138.7" r="4.7" fill="#1f7416"/><circle cx="279.5" cy="103.5" r="4.0" fill="#3aa428"/><circle cx="268.7" cy="73.7" r="3.1" fill="#256f1a"/><circle cx="260.8" cy="62.9" r="3.0" fill="#4a9a3a"/><circle cx="306.7" cy="102.9" r="3.7" fill="#1c6a14"/><circle cx="273.7" cy="80.8" r="5.0" fill="#2e8c1e"/><circle cx="279.6" cy="68.1" r="2.9" fill="#1f7416"/><circle cx="305.8" cy="93.3" r="5.1" fill="#3aa428"/><circle cx="284.2" cy="117.2" r="4.9" fill="#256f1a"/><circle cx="269.8" cy="136.9" r="3.9" fill="#4a9a3a"/><circle cx="289.7" cy="116.0" r="3.7" fill="#1c6a14"/><circle cx="260.0" cy="62.7" r="2.7" fill="#2e8c1e"/><circle cx="265.8" cy="109.7" r="5.6" fill="#1f7416"/><circle cx="288.0" cy="105.1" r="2.4" fill="#3aa428"/><circle cx="249.1" cy="122.3" r="5.3" fill="#256f1a"/><circle cx="277.0" cy="56.3" r="5.5" fill="#4a9a3a"/><circle cx="272.7" cy="113.5" r="5.5" fill="#1c6a14"/><circle cx="281.6" cy="90.3" r="4.5" fill="#2e8c1e"/><circle cx="262.3" cy="115.4" r="3.4" fill="#1f7416"/><circle cx="282.9" cy="99.7" r="3.2" fill="#3aa428"/><circle cx="256.2" cy="130.5" r="2.6" fill="#256f1a"/><circle cx="301.3" cy="93.5" r="3.5" fill="#4a9a3a"/><circle cx="299.1" cy="63.6" r="3.7" fill="#1c6a14"/><circle cx="310.6" cy="106.5" r="3.5" fill="#2e8c1e"/><circle cx="298.6" cy="88.8" r="3.5" fill="#1f7416"/><circle cx="287.8" cy="93.3" r="3.6" fill="#3aa428"/><circle cx="296.3" cy="63.9" r="2.3" fill="#256f1a"/><circle cx="292.5" cy="100.0" r="5.4" fill="#4a9a3a"/><circle cx="280.1" cy="133.8" r="5.4" fill="#1c6a14"/><circle cx="269.6" cy="116.2" r="5.6" fill="#2e8c1e"/><circle cx="265.0" cy="83.4" r="4.7" fill="#1f7416"/><circle cx="239.3" cy="124.6" r="1.7" fill="#2e8c1e"/><circle cx="233.0" cy="114.0" r="1.2" fill="#3aa428"/><circle cx="247.2" cy="118.8" r="1.5" fill="#2e8c1e"/><circle cx="239.7" cy="126.9" r="1.9" fill="#3aa428"/><circle cx="242.1" cy="113.0" r="2.2" fill="#2e8c1e"/><circle cx="243.1" cy="123.8" r="2.5" fill="#3aa428"/><circle cx="231.0" cy="117.1" r="2.2" fill="#2e8c1e"/><circle cx="246.2" cy="121.2" r="2.1" fill="#3aa428"/><circle cx="238.3" cy="119.6" r="2.5" fill="#2e8c1e"/><circle cx="231.1" cy="119.4" r="2.6" fill="#3aa428"/><circle cx="172.1" cy="221.4" r="2.8" fill="#0a0a0a"/><circle cx="172.3" cy="220.5" r="2.3" fill="#151515"/><circle cx="186.8" cy="227.5" r="2.4" fill="#0a0a0a"/><circle cx="183.8" cy="214.2" r="1.9" fill="#151515"/><circle cx="193.7" cy="225.1" r="2.5" fill="#0a0a0a"/><circle cx="196.7" cy="222.0" r="2.9" fill="#151515"/><circle cx="176.0" cy="209.3" r="1.7" fill="#0a0a0a"/><circle cx="193.2" cy="219.3" r="1.6" fill="#151515"/><circle cx="185.2" cy="224.8" r="1.5" fill="#0a0a0a"/><circle cx="173.1" cy="220.4" r="2.7" fill="#151515"/><circle cx="170.9" cy="217.0" r="2.2" fill="#0a0a0a"/><circle cx="177.4" cy="210.3" r="1.9" fill="#151515"/><circle cx="197.3" cy="218.2" r="2.7" fill="#0a0a0a"/><circle cx="180.4" cy="210.8" r="1.8" fill="#151515"/><circle cx="181.6" cy="222.0" r="2.6" fill="#0a0a0a"/><circle cx="171.6" cy="225.9" r="2.0" fill="#151515"/><circle cx="195.7" cy="215.0" r="1.5" fill="#0a0a0a"/><circle cx="186.1" cy="231.3" r="2.2" fill="#151515"/><circle cx="191.8" cy="217.3" r="1.6" fill="#0a0a0a"/><circle cx="173.7" cy="209.4" r="1.9" fill="#151515"/><circle cx="189.8" cy="222.6" r="2.9" fill="#0a0a0a"/><circle cx="182.8" cy="213.6" r="1.8" fill="#151515"/><circle cx="185.5" cy="220.4" r="2.6" fill="#0a0a0a"/><circle cx="187.4" cy="227.8" r="2.1" fill="#151515"/><circle cx="187.2" cy="229.5" r="1.7" fill="#0a0a0a"/><circle cx="179.5" cy="214.6" r="2.1" fill="#151515"/><circle cx="184.3" cy="225.4" r="2.9" fill="#0a0a0a"/><circle cx="185.3" cy="211.1" r="2.8" fill="#151515"/><circle cx="184.8" cy="226.9" r="2.7" fill="#0a0a0a"/><circle cx="179.6" cy="214.9" r="2.9" fill="#151515"/><circle cx="184.3" cy="225.3" r="2.6" fill="#0a0a0a"/><circle cx="178.8" cy="225.1" r="1.6" fill="#151515"/><circle cx="192.1" cy="224.1" r="1.8" fill="#0a0a0a"/><circle cx="175.4" cy="213.3" r="2.1" fill="#151515"/><circle cx="192.5" cy="215.9" r="2.3" fill="#0a0a0a"/><circle cx="186.8" cy="213.9" r="1.7" fill="#151515"/><circle cx="193.7" cy="211.5" r="1.8" fill="#0a0a0a"/><circle cx="187.3" cy="229.5" r="2.9" fill="#151515"/><circle cx="187.3" cy="231.2" r="2.8" fill="#0a0a0a"/><circle cx="175.0" cy="212.9" r="1.6" fill="#151515"/><circle cx="196.6" cy="221.7" r="1.8" fill="#0a0a0a"/><circle cx="180.5" cy="211.6" r="2.7" fill="#151515"/><circle cx="176.0" cy="214.0" r="1.7" fill="#0a0a0a"/><circle cx="181.9" cy="214.8" r="1.8" fill="#151515"/><circle cx="169.9" cy="213.7" r="2.4" fill="#0a0a0a"/><circle cx="179.9" cy="231.5" r="1.8" fill="#151515"/><circle cx="190.2" cy="219.1" r="2.1" fill="#0a0a0a"/><circle cx="188.3" cy="220.5" r="2.0" fill="#151515"/><circle cx="177.8" cy="216.1" r="2.0" fill="#0a0a0a"/><circle cx="193.9" cy="209.6" r="2.4" fill="#151515"/><circle cx="348.2" cy="210.2" r="2.4" fill="#0a0a0a"/><circle cx="378.8" cy="216.2" r="2.7" fill="#1a1a1a"/><circle cx="375.9" cy="225.0" r="2.7" fill="#000"/><circle cx="349.4" cy="206.9" r="1.3" fill="#0a0a0a"/><circle cx="351.0" cy="224.4" r="2.0" fill="#1a1a1a"/><circle cx="359.3" cy="221.4" r="1.4" fill="#000"/><circle cx="357.7" cy="241.6" r="2.4" fill="#0a0a0a"/><circle cx="371.8" cy="237.8" r="1.3" fill="#1a1a1a"/><circle cx="355.8" cy="217.6" r="1.1" fill="#000"/><circle cx="368.3" cy="215.7" r="1.4" fill="#0a0a0a"/><circle cx="381.4" cy="220.3" r="1.6" fill="#1a1a1a"/><circle cx="376.8" cy="218.9" r="2.2" fill="#000"/><circle cx="367.3" cy="241.4" r="2.3" fill="#0a0a0a"/><circle cx="381.3" cy="218.4" r="1.6" fill="#1a1a1a"/><circle cx="355.9" cy="228.8" r="1.3" fill="#000"/><circle cx="372.3" cy="226.9" r="2.1" fill="#0a0a0a"/><circle cx="379.2" cy="222.8" r="1.7" fill="#1a1a1a"/><circle cx="354.3" cy="239.6" r="1.9" fill="#000"/><circle cx="355.5" cy="235.4" r="2.3" fill="#0a0a0a"/><circle cx="381.3" cy="229.5" r="1.1" fill="#1a1a1a"/><circle cx="361.5" cy="203.7" r="1.1" fill="#000"/><circle cx="364.5" cy="210.5" r="2.1" fill="#0a0a0a"/><circle cx="366.1" cy="222.7" r="1.4" fill="#1a1a1a"/><circle cx="370.6" cy="219.9" r="2.4" fill="#000"/><circle cx="380.3" cy="214.0" r="1.7" fill="#0a0a0a"/><circle cx="352.0" cy="234.1" r="2.4" fill="#1a1a1a"/><circle cx="375.9" cy="233.5" r="2.4" fill="#000"/><circle cx="364.1" cy="219.4" r="2.7" fill="#0a0a0a"/><circle cx="372.0" cy="228.9" r="2.1" fill="#1a1a1a"/><circle cx="372.4" cy="216.6" r="2.7" fill="#000"/><circle cx="350.0" cy="219.3" r="1.6" fill="#0a0a0a"/><circle cx="364.1" cy="227.6" r="1.3" fill="#1a1a1a"/><circle cx="353.5" cy="203.6" r="1.4" fill="#000"/><circle cx="381.8" cy="228.5" r="2.0" fill="#0a0a0a"/><circle cx="352.8" cy="228.0" r="2.1" fill="#1a1a1a"/><circle cx="368.2" cy="210.2" r="1.8" fill="#000"/><circle cx="380.8" cy="229.1" r="1.1" fill="#0a0a0a"/><circle cx="341.8" cy="223.2" r="1.3" fill="#1a1a1a"/><circle cx="359.1" cy="202.7" r="2.2" fill="#000"/><circle cx="363.1" cy="216.0" r="1.8" fill="#0a0a0a"/><circle cx="373.2" cy="237.6" r="1.6" fill="#1a1a1a"/><circle cx="340.9" cy="228.4" r="2.5" fill="#000"/><circle cx="375.8" cy="220.4" r="1.9" fill="#0a0a0a"/><circle cx="359.6" cy="208.5" r="1.6" fill="#1a1a1a"/><circle cx="354.7" cy="226.9" r="1.7" fill="#000"/><circle cx="382.5" cy="221.0" r="2.2" fill="#0a0a0a"/><circle cx="349.0" cy="222.5" r="1.2" fill="#1a1a1a"/><circle cx="358.8" cy="240.3" r="2.6" fill="#000"/><circle cx="349.2" cy="236.3" r="2.4" fill="#0a0a0a"/><circle cx="355.5" cy="206.8" r="2.4" fill="#1a1a1a"/><circle cx="349.7" cy="235.4" r="1.6" fill="#000"/><circle cx="342.7" cy="224.1" r="2.3" fill="#0a0a0a"/><circle cx="355.8" cy="241.5" r="2.2" fill="#1a1a1a"/><circle cx="359.5" cy="221.4" r="2.0" fill="#000"/><circle cx="361.4" cy="239.2" r="1.9" fill="#0a0a0a"/><circle cx="368.5" cy="207.5" r="2.4" fill="#1a1a1a"/><circle cx="351.5" cy="235.8" r="2.3" fill="#000"/><circle cx="367.5" cy="211.8" r="2.5" fill="#0a0a0a"/><circle cx="373.7" cy="210.1" r="2.7" fill="#1a1a1a"/><circle cx="376.4" cy="218.5" r="2.0" fill="#000"/><circle cx="371.4" cy="238.6" r="2.7" fill="#0a0a0a"/><circle cx="343.8" cy="224.9" r="2.3" fill="#1a1a1a"/><circle cx="360.4" cy="214.1" r="2.4" fill="#000"/><circle cx="346.2" cy="214.4" r="1.8" fill="#0a0a0a"/><circle cx="348.0" cy="209.9" r="2.2" fill="#1a1a1a"/><circle cx="360.8" cy="219.1" r="1.3" fill="#000"/><circle cx="345.3" cy="228.4" r="1.4" fill="#0a0a0a"/><circle cx="354.8" cy="207.5" r="1.1" fill="#1a1a1a"/><circle cx="351.4" cy="224.2" r="1.2" fill="#000"/><circle cx="369.6" cy="231.0" r="1.4" fill="#0a0a0a"/><circle cx="362.9" cy="226.1" r="1.9" fill="#1a1a1a"/><circle cx="349.2" cy="233.3" r="2.1" fill="#000"/><circle cx="363.0" cy="241.8" r="1.1" fill="#0a0a0a"/><circle cx="352.1" cy="228.5" r="1.8" fill="#1a1a1a"/><circle cx="376.2" cy="234.8" r="1.7" fill="#000"/><circle cx="377.9" cy="226.0" r="1.2" fill="#0a0a0a"/><circle cx="349.5" cy="219.1" r="2.1" fill="#1a1a1a"/><circle cx="380.2" cy="217.7" r="1.8" fill="#000"/><circle cx="368.1" cy="207.4" r="1.7" fill="#0a0a0a"/><circle cx="371.9" cy="234.7" r="2.0" fill="#1a1a1a"/><circle cx="381.8" cy="217.1" r="2.1" fill="#000"/><circle cx="349.4" cy="238.0" r="1.1" fill="#0a0a0a"/><circle cx="374.1" cy="232.1" r="2.1" fill="#1a1a1a"/><circle cx="372.3" cy="235.0" r="2.6" fill="#000"/><circle cx="351.5" cy="231.9" r="1.5" fill="#0a0a0a"/><circle cx="356.0" cy="241.9" r="1.7" fill="#1a1a1a"/><circle cx="381.4" cy="217.7" r="2.1" fill="#000"/><circle cx="360.2" cy="242.6" r="1.9" fill="#0a0a0a"/><circle cx="351.0" cy="228.3" r="2.8" fill="#1a1a1a"/><circle cx="350.0" cy="223.0" r="1.9" fill="#000"/><circle cx="373.7" cy="233.6" r="1.8" fill="#0a0a0a"/><circle cx="356.4" cy="239.8" r="2.5" fill="#1a1a1a"/><circle cx="377.1" cy="223.7" r="1.5" fill="#000"/><circle cx="378.9" cy="215.3" r="1.5" fill="#0a0a0a"/><circle cx="360.5" cy="230.4" r="2.8" fill="#1a1a1a"/><circle cx="357.0" cy="237.8" r="1.9" fill="#000"/><circle cx="351.2" cy="209.9" r="2.4" fill="#0a0a0a"/><circle cx="375.3" cy="234.5" r="1.6" fill="#1a1a1a"/><circle cx="349.3" cy="220.0" r="1.6" fill="#000"/><circle cx="347.1" cy="219.9" r="1.7" fill="#0a0a0a"/><circle cx="361.0" cy="206.8" r="1.1" fill="#1a1a1a"/><circle cx="361.3" cy="236.2" r="2.6" fill="#000"/><circle cx="373.6" cy="212.7" r="1.1" fill="#0a0a0a"/><circle cx="364.0" cy="209.3" r="2.1" fill="#1a1a1a"/><circle cx="357.0" cy="206.8" r="1.9" fill="#000"/><circle cx="372.8" cy="215.8" r="1.7" fill="#0a0a0a"/><circle cx="367.2" cy="215.2" r="1.6" fill="#1a1a1a"/><circle cx="364.1" cy="217.9" r="2.5" fill="#000"/><circle cx="356.7" cy="209.8" r="1.6" fill="#0a0a0a"/><circle cx="365.4" cy="203.3" r="1.3" fill="#1a1a1a"/><circle cx="345.7" cy="224.5" r="1.9" fill="#000"/><circle cx="357.4" cy="229.4" r="2.1" fill="#0a0a0a"/><circle cx="363.6" cy="217.5" r="1.5" fill="#1a1a1a"/><circle cx="369.6" cy="206.0" r="2.2" fill="#000"/><circle cx="379.5" cy="225.2" r="2.8" fill="#0a0a0a"/><circle cx="379.5" cy="222.3" r="1.2" fill="#1a1a1a"/><circle cx="367.0" cy="214.5" r="2.2" fill="#000"/><circle cx="378.8" cy="217.4" r="1.3" fill="#0a0a0a"/><circle cx="356.1" cy="241.3" r="1.3" fill="#1a1a1a"/><circle cx="350.9" cy="214.0" r="1.4" fill="#000"/></svg></g>
<g transform="translate(1065.3,1034.9)"><rect x="0.0" y="0.0" width="400.0" height="286.3" fill="#fff"/><svg x="0" y="0" width="400.0" height="286.3" viewBox="0 0 400.0 286.3" overflow="hidden"><text x="9.5" y="8.5" font-size="5.6" fill="#222" textLength="152" lengthAdjust="spacingAndGlyphs">Title :  Talbot Gardens Family Forest Garden</text><text x="9.5" y="17.0" font-size="5.6" fill="#222">Date:</text><text x="34.0" y="17.0" font-size="5.6" fill="#888">Spring 2011</text><text x="9.5" y="25.5" font-size="5.6" fill="#222">By:</text><text x="34.0" y="25.5" font-size="5.6" fill="#222" textLength="78" lengthAdjust="spacingAndGlyphs">Rakesh Rootsman Rak</text><path d="M304 4v14M300.5 8.5l3.5-5 3.5 5M300.5 13h7" stroke="#111" stroke-width="1.3" fill="none"/><text x="325.0" y="13.5" font-size="5.8" fill="#333">0m</text><text x="352.0" y="13.5" font-size="5.8" fill="#333">2m</text><text x="376.0" y="13.5" font-size="5.8" fill="#333">4m</text><path d="M331 19h51M331 17.5v1.5M357 17.5v1.5M382 17.5v1.5" stroke="#555" stroke-width="0.5" fill="none"/><polygon points="17.0,63.0 20.4,62.2 81.0,290.9 75.6,290.9" fill="#9c5f2c"/><polygon points="20.0,62.6 38.0,70.7 49.1,111.6 31.9,106.9" fill="#6e6e70"/><polygon points="89.6,57.9 101.8,67.5 110.4,100.2 100.8,101.0" fill="#78787a"/><polyline points="38.0,70.7 89.6,57.9" fill="none" stroke="#333" stroke-width="0.5" stroke-dasharray="1.5,1"/><polygon points="31.9,106.9 49.1,112.0 74.2,202.0 77.3,212.2 86.5,253.1 101.8,251.1 110.2,290.9 79.7,290.9" fill="#3a2b20"/><polygon points="97.7,201.0 144.8,189.7 148.8,216.3 154.0,217.3 168.3,273.6 138.8,290.9 110.2,290.9 101.8,251.1 110.0,242.9 100.8,215.3" fill="#c3bebb"/><polygon points="105.9,104.3 238.8,67.5 305.3,49.7 330.8,45.0 318.5,49.1 310.4,54.8 338.0,237.2 151.9,290.9 138.8,290.9 167.2,273.6 126.4,157.0 114.1,150.9" fill="#3b3a38"/><polygon points="114.1,108.0 236.8,74.2 308.3,54.8 331.8,233.7 168.3,277.7 154.0,217.3 185.6,207.1 182.6,183.6 179.5,157.0 152.9,161.1 129.4,157.0 124.3,153.3" fill="#5e984f"/><polygon points="49.1,112.0 102.4,99.4 116.1,150.9 124.3,153.3 91.6,164.8 98.8,190.8 105.9,188.7 111.6,212.2 100.8,215.3 110.0,242.9 101.8,251.1 86.5,253.1 74.2,202.0" fill="#474247"/><polygon points="102.8,101.8 111.0,104.9 123.3,150.9 117.2,150.9" fill="#8d8f96"/><polygon points="78.3,166.0 91.6,164.8 98.8,190.8 85.1,192.6" fill="#3f2e24"/><polygon points="81.8,169.3 89.1,168.1 90.6,173.8 83.4,175.0" fill="#8a8a8c"/><polygon points="84.4,180.5 90.6,179.5 92.2,186.7 86.1,187.7" fill="#8a8a8c"/><polygon points="96.1,191.8 105.9,188.7 111.6,211.8 102.2,214.3" fill="#3a2b20"/><polygon points="93.6,219.4 104.3,217.3 110.4,242.9 100.8,246.0" fill="#3a2b20"/><polyline points="73.2,200.0 105.9,194.8" fill="none" stroke="#cfd4e0" stroke-width="0.5"/><polyline points="64.0,220.4 103.9,200.0" fill="none" stroke="#e8e8e8" stroke-width="0.5"/><polygon points="91.2,165.2 124.3,153.3 151.3,151.9 153.3,161.1 139.0,166.4 145.2,189.3 105.9,198.9 98.8,190.8" fill="#a19d9b"/><polygon points="119.2,117.2 235.7,87.5 254.1,148.8 203.0,162.1 206.1,172.4 180.5,179.5 175.4,157.0 152.9,161.1 150.9,151.9 129.4,157.0" fill="#8fa45c"/><polyline points="138.6,101.8 146.8,106.9 167.2,101.8 165.2,93.6 173.4,97.7 191.8,93.6 189.7,86.5 200.0,84.4 203.0,94.7 191.8,96.7" fill="none" stroke="#3f5f2f" stroke-width="0.6"/><polygon points="154.0,217.3 186.1,207.7 220.4,182.0 283.8,166.8 299.1,229.0 167.2,266.4" fill="#9bae63" stroke="#4e6a34" stroke-width="0.4" stroke-dasharray="1.5,1"/><path d="M182.6 181.1L205.1 176.4Q208.1 200.0 187.7 206.5Z" fill="#cfd0d0"/><polygon points="203.0,162.1 216.3,158.7 219.4,169.3 206.1,172.4" fill="#a19d9b"/><polygon points="138.6,166.8 157.0,162.1 159.5,175.4 164.2,174.4 161.5,160.7 175.4,157.0 180.5,179.5 144.8,188.7" fill="#628c22" stroke="#c5772f" stroke-width="0.8"/><polygon points="140.7,189.7 182.6,180.5 187.7,206.1 148.8,217.3" fill="#4a4449"/><polyline points="105.9,200.0 318.5,144.8" fill="none" stroke="#2f2f2f" stroke-width="0.7" stroke-dasharray="1.5,0.8"/><polyline points="159.9,45.6 159.9,138.6" fill="none" stroke="#ff8c1a" stroke-width="0.6"/><polyline points="310.4,144.8 355.3,134.5" fill="none" stroke="#5a6478" stroke-width="1.0" stroke-dasharray="1,0.5"/><polygon points="335.9,237.8 341.0,235.7 353.3,273.6 350.2,276.6" fill="#6b6f78"/><circle cx="302.2" cy="171.3" r="16.8" fill="#2f4a2a" opacity="0.55" stroke="#1d2b1a" stroke-width="0.8"/><circle cx="302.2" cy="171.3" r="10.2" fill="none" stroke="#1d2b1a" stroke-width="0.6"/><circle cx="278.1" cy="101.3" r="4.3" fill="#2e8c1e"/><circle cx="313.0" cy="100.3" r="3.3" fill="#1f7416"/><circle cx="313.3" cy="97.6" r="2.2" fill="#3aa428"/><circle cx="275.3" cy="91.8" r="2.4" fill="#256f1a"/><circle cx="251.5" cy="104.0" r="2.5" fill="#2e8c1e"/><circle cx="291.0" cy="118.6" r="5.3" fill="#1f7416"/><circle cx="262.1" cy="75.8" r="5.4" fill="#3aa428"/><circle cx="322.6" cy="98.2" r="3.1" fill="#256f1a"/><circle cx="294.3" cy="98.3" r="3.1" fill="#2e8c1e"/><circle cx="292.6" cy="72.0" r="4.0" fill="#1f7416"/><circle cx="269.0" cy="68.9" r="3.9" fill="#3aa428"/><circle cx="294.9" cy="91.2" r="2.8" fill="#256f1a"/><circle cx="273.8" cy="63.9" r="3.1" fill="#2e8c1e"/><circle cx="261.2" cy="73.8" r="3.1" fill="#1f7416"/><circle cx="295.1" cy="55.5" r="2.9" fill="#3aa428"/><circle cx="258.3" cy="74.5" r="5.0" fill="#256f1a"/><circle cx="282.5" cy="66.3" r="5.4" fill="#2e8c1e"/><circle cx="305.4" cy="104.9" r="4.6" fill="#1f7416"/><circle cx="302.4" cy="110.2" r="2.2" fill="#3aa428"/><circle cx="267.4" cy="57.2" r="4.0" fill="#256f1a"/><circle cx="302.1" cy="71.8" r="4.4" fill="#2e8c1e"/><circle cx="259.0" cy="70.6" r="3.6" fill="#1f7416"/><circle cx="307.2" cy="54.8" r="3.7" fill="#3aa428"/><circle cx="280.1" cy="79.1" r="4.4" fill="#256f1a"/><circle cx="260.3" cy="55.8" r="4.9" fill="#2e8c1e"/><circle cx="279.8" cy="111.7" r="4.3" fill="#1f7416"/><circle cx="313.6" cy="91.3" r="2.7" fill="#3aa428"/><circle cx="293.0" cy="94.0" r="4.7" fill="#256f1a"/><circle cx="299.8" cy="101.9" r="3.4" fill="#2e8c1e"/><circle cx="293.6" cy="79.3" r="3.6" fill="#1f7416"/><circle cx="247.9" cy="76.1" r="4.8" fill="#3aa428"/><circle cx="299.9" cy="71.7" r="3.5" fill="#256f1a"/><circle cx="260.5" cy="116.5" r="5.3" fill="#2e8c1e"/><circle cx="295.7" cy="101.1" r="2.9" fill="#1f7416"/><circle cx="288.5" cy="115.1" r="4.1" fill="#3aa428"/><circle cx="285.2" cy="90.0" r="3.5" fill="#256f1a"/><circle cx="263.9" cy="109.4" r="5.3" fill="#2e8c1e"/><circle cx="274.4" cy="60.9" r="4.2" fill="#1f7416"/><circle cx="281.1" cy="79.2" r="5.1" fill="#3aa428"/><circle cx="292.8" cy="50.9" r="4.8" fill="#256f1a"/><circle cx="264.8" cy="103.2" r="2.4" fill="#2e8c1e"/><circle cx="278.5" cy="80.1" r="2.3" fill="#1f7416"/><circle cx="289.7" cy="103.0" r="3.2" fill="#3aa428"/><circle cx="286.0" cy="87.7" r="2.6" fill="#256f1a"/><circle cx="305.7" cy="101.8" r="2.2" fill="#2e8c1e"/><circle cx="308.5" cy="65.4" r="2.6" fill="#1f7416"/><circle cx="285.1" cy="111.0" r="3.3" fill="#3aa428"/><circle cx="313.1" cy="113.1" r="5.4" fill="#256f1a"/><circle cx="256.9" cy="93.4" r="2.4" fill="#2e8c1e"/><circle cx="305.1" cy="101.5" r="3.0" fill="#1f7416"/><circle cx="293.4" cy="73.4" r="2.2" fill="#3aa428"/><circle cx="314.5" cy="78.7" r="2.6" fill="#256f1a"/><circle cx="278.8" cy="85.8" r="3.9" fill="#2e8c1e"/><circle cx="324.0" cy="82.5" r="4.4" fill="#1f7416"/><circle cx="283.7" cy="111.6" r="2.7" fill="#3aa428"/><circle cx="289.6" cy="58.7" r="4.7" fill="#256f1a"/><circle cx="275.9" cy="104.0" r="4.8" fill="#2e8c1e"/><circle cx="324.0" cy="84.0" r="4.8" fill="#1f7416"/><circle cx="300.4" cy="56.4" r="2.9" fill="#3aa428"/><circle cx="260.6" cy="84.9" r="2.2" fill="#256f1a"/><circle cx="307.2" cy="91.2" r="3.0" fill="#2e8c1e"/><circle cx="270.9" cy="51.1" r="3.6" fill="#1f7416"/><circle cx="323.9" cy="72.3" r="5.3" fill="#3aa428"/><circle cx="272.4" cy="101.6" r="2.9" fill="#256f1a"/><circle cx="291.6" cy="104.5" r="4.2" fill="#2e8c1e"/><circle cx="316.6" cy="66.1" r="3.7" fill="#1f7416"/><circle cx="264.0" cy="58.3" r="2.4" fill="#3aa428"/><circle cx="264.1" cy="55.4" r="4.7" fill="#256f1a"/><circle cx="285.4" cy="60.0" r="2.7" fill="#2e8c1e"/><circle cx="291.3" cy="65.2" r="4.8" fill="#1f7416"/><circle cx="311.4" cy="83.1" r="3.4" fill="#3aa428"/><circle cx="319.1" cy="76.4" r="2.7" fill="#256f1a"/><circle cx="296.8" cy="98.6" r="5.1" fill="#2e8c1e"/><circle cx="291.0" cy="73.2" r="4.9" fill="#1f7416"/><circle cx="319.1" cy="83.5" r="3.3" fill="#3aa428"/><circle cx="271.0" cy="83.2" r="2.1" fill="#256f1a"/><circle cx="318.6" cy="81.7" r="3.9" fill="#2e8c1e"/><circle cx="310.7" cy="76.9" r="5.0" fill="#1f7416"/><circle cx="294.3" cy="71.3" r="2.9" fill="#3aa428"/><circle cx="279.9" cy="106.3" r="4.1" fill="#256f1a"/><circle cx="283.8" cy="113.2" r="2.5" fill="#2e8c1e"/><circle cx="306.5" cy="74.8" r="3.6" fill="#1f7416"/><circle cx="250.9" cy="68.6" r="3.5" fill="#3aa428"/><circle cx="311.2" cy="73.6" r="3.9" fill="#256f1a"/><circle cx="279.8" cy="86.7" r="3.6" fill="#2e8c1e"/><circle cx="286.5" cy="89.8" r="4.8" fill="#1f7416"/><circle cx="298.9" cy="111.7" r="4.5" fill="#3aa428"/><circle cx="263.0" cy="79.6" r="3.8" fill="#256f1a"/><circle cx="250.5" cy="75.5" r="2.5" fill="#2e8c1e"/><circle cx="266.0" cy="80.2" r="3.0" fill="#1f7416"/><circle cx="289.6" cy="59.4" r="4.0" fill="#3aa428"/><circle cx="287.9" cy="49.5" r="3.6" fill="#256f1a"/><circle cx="262.8" cy="69.1" r="3.8" fill="#2e8c1e"/><circle cx="275.5" cy="62.4" r="3.9" fill="#1f7416"/><circle cx="245.1" cy="92.8" r="4.4" fill="#3aa428"/><circle cx="314.5" cy="60.4" r="3.0" fill="#256f1a"/><circle cx="247.5" cy="73.4" r="4.9" fill="#2e8c1e"/><circle cx="294.9" cy="98.0" r="3.6" fill="#1f7416"/><circle cx="303.9" cy="96.1" r="2.3" fill="#3aa428"/><circle cx="267.4" cy="56.7" r="5.1" fill="#256f1a"/><circle cx="305.5" cy="115.3" r="4.3" fill="#2e8c1e"/><circle cx="310.0" cy="116.8" r="5.3" fill="#1f7416"/><circle cx="293.2" cy="125.7" r="3.4" fill="#3aa428"/><circle cx="243.9" cy="90.7" r="4.9" fill="#256f1a"/><circle cx="300.0" cy="109.7" r="3.8" fill="#2e8c1e"/><circle cx="275.6" cy="102.4" r="3.2" fill="#1f7416"/><circle cx="284.4" cy="82.0" r="4.0" fill="#3aa428"/><circle cx="280.2" cy="89.5" r="3.2" fill="#256f1a"/><circle cx="264.1" cy="67.5" r="2.3" fill="#2e8c1e"/><circle cx="322.5" cy="84.2" r="5.4" fill="#1f7416"/><circle cx="302.5" cy="100.1" r="2.2" fill="#3aa428"/><circle cx="289.4" cy="67.1" r="2.5" fill="#256f1a"/><circle cx="250.1" cy="105.3" r="4.8" fill="#2e8c1e"/><circle cx="284.5" cy="102.9" r="5.2" fill="#1f7416"/><circle cx="253.7" cy="73.2" r="2.4" fill="#3aa428"/><circle cx="317.9" cy="99.2" r="3.5" fill="#256f1a"/><circle cx="321.9" cy="104.5" r="4.2" fill="#2e8c1e"/><circle cx="289.3" cy="76.6" r="5.0" fill="#1f7416"/><circle cx="321.0" cy="102.5" r="3.6" fill="#3aa428"/><circle cx="268.9" cy="112.6" r="5.2" fill="#256f1a"/><circle cx="283.7" cy="101.7" r="3.9" fill="#2e8c1e"/><circle cx="286.4" cy="100.6" r="2.6" fill="#1f7416"/><circle cx="303.3" cy="93.1" r="3.1" fill="#3aa428"/><circle cx="273.0" cy="120.2" r="3.1" fill="#256f1a"/><circle cx="267.7" cy="87.5" r="3.3" fill="#2e8c1e"/><circle cx="306.3" cy="89.8" r="2.1" fill="#1f7416"/><circle cx="282.1" cy="58.1" r="2.7" fill="#3aa428"/><circle cx="245.4" cy="93.6" r="2.5" fill="#256f1a"/><circle cx="297.0" cy="63.7" r="3.8" fill="#2e8c1e"/><circle cx="298.7" cy="66.0" r="3.8" fill="#1f7416"/><circle cx="269.6" cy="51.0" r="3.2" fill="#3aa428"/><circle cx="302.8" cy="58.4" r="4.2" fill="#256f1a"/><circle cx="265.0" cy="100.7" r="2.3" fill="#2e8c1e"/><circle cx="293.1" cy="95.2" r="4.6" fill="#1f7416"/><circle cx="284.8" cy="103.6" r="2.4" fill="#3aa428"/><circle cx="306.6" cy="56.3" r="4.3" fill="#256f1a"/><circle cx="281.3" cy="106.7" r="3.1" fill="#2e8c1e"/><circle cx="269.3" cy="91.5" r="3.6" fill="#1f7416"/><circle cx="282.0" cy="126.4" r="5.4" fill="#3aa428"/><circle cx="265.6" cy="81.8" r="5.3" fill="#256f1a"/><circle cx="276.3" cy="109.6" r="2.1" fill="#2e8c1e"/><circle cx="264.2" cy="106.1" r="3.8" fill="#1f7416"/><circle cx="294.4" cy="114.5" r="2.1" fill="#3aa428"/><circle cx="284.3" cy="99.4" r="3.4" fill="#256f1a"/><circle cx="291.5" cy="89.1" r="3.1" fill="#2e8c1e"/><circle cx="288.9" cy="117.8" r="3.9" fill="#1f7416"/><circle cx="285.5" cy="55.2" r="4.5" fill="#3aa428"/><circle cx="304.4" cy="70.4" r="3.2" fill="#256f1a"/><circle cx="301.6" cy="86.0" r="4.5" fill="#2e8c1e"/><circle cx="280.0" cy="81.0" r="4.9" fill="#1f7416"/><circle cx="311.3" cy="67.7" r="4.6" fill="#3aa428"/><circle cx="291.4" cy="73.8" r="3.9" fill="#256f1a"/><circle cx="247.1" cy="86.5" r="4.8" fill="#2e8c1e"/><circle cx="300.2" cy="60.5" r="5.1" fill="#1f7416"/><circle cx="271.1" cy="57.3" r="2.9" fill="#3aa428"/><circle cx="300.4" cy="90.3" r="3.3" fill="#256f1a"/><circle cx="315.7" cy="109.8" r="4.0" fill="#2e8c1e"/><circle cx="262.4" cy="64.8" r="4.4" fill="#1f7416"/><circle cx="283.0" cy="87.7" r="4.8" fill="#3aa428"/><circle cx="285.1" cy="59.3" r="3.9" fill="#256f1a"/><circle cx="279.6" cy="78.9" r="4.6" fill="#2e8c1e"/><circle cx="285.3" cy="98.4" r="3.0" fill="#1f7416"/><circle cx="283.0" cy="69.6" r="4.6" fill="#3aa428"/><circle cx="314.5" cy="83.3" r="3.4" fill="#256f1a"/><circle cx="251.1" cy="91.8" r="4.7" fill="#2e8c1e"/><circle cx="260.5" cy="66.1" r="2.4" fill="#1f7416"/><circle cx="298.1" cy="103.5" r="4.6" fill="#3aa428"/><circle cx="274.8" cy="115.8" r="2.1" fill="#256f1a"/><circle cx="305.6" cy="95.2" r="4.3" fill="#2e8c1e"/><circle cx="273.2" cy="56.9" r="3.1" fill="#1f7416"/><circle cx="257.0" cy="84.7" r="3.7" fill="#3aa428"/><circle cx="314.6" cy="113.0" r="2.8" fill="#256f1a"/><circle cx="325.6" cy="82.2" r="2.2" fill="#2e8c1e"/><circle cx="248.7" cy="96.7" r="5.3" fill="#1f7416"/><circle cx="264.8" cy="94.0" r="2.8" fill="#3aa428"/><circle cx="303.5" cy="81.4" r="4.0" fill="#256f1a"/><circle cx="304.5" cy="109.9" r="5.3" fill="#2e8c1e"/><circle cx="311.0" cy="114.2" r="3.8" fill="#1f7416"/><circle cx="312.1" cy="65.7" r="2.9" fill="#3aa428"/><circle cx="308.8" cy="70.9" r="2.2" fill="#256f1a"/><circle cx="314.8" cy="88.1" r="3.6" fill="#2e8c1e"/><circle cx="280.4" cy="101.7" r="3.2" fill="#1f7416"/><circle cx="269.9" cy="120.9" r="2.1" fill="#3aa428"/><circle cx="285.6" cy="51.0" r="2.5" fill="#256f1a"/><circle cx="317.1" cy="72.5" r="5.1" fill="#2e8c1e"/><circle cx="279.1" cy="111.0" r="3.4" fill="#1f7416"/><circle cx="317.6" cy="87.3" r="3.3" fill="#3aa428"/><circle cx="265.6" cy="96.6" r="2.3" fill="#256f1a"/><circle cx="316.2" cy="109.2" r="3.1" fill="#2e8c1e"/><circle cx="304.7" cy="79.7" r="3.0" fill="#1f7416"/><circle cx="267.2" cy="86.3" r="3.3" fill="#3aa428"/><circle cx="323.4" cy="77.3" r="4.8" fill="#256f1a"/><circle cx="258.2" cy="59.6" r="5.2" fill="#2e8c1e"/><circle cx="251.6" cy="77.2" r="2.3" fill="#1f7416"/><circle cx="282.3" cy="60.9" r="4.6" fill="#3aa428"/><circle cx="271.6" cy="70.7" r="2.3" fill="#256f1a"/><circle cx="298.8" cy="81.2" r="3.7" fill="#2e8c1e"/><circle cx="272.7" cy="105.6" r="4.6" fill="#1f7416"/><circle cx="306.6" cy="84.5" r="4.3" fill="#3aa428"/><circle cx="275.6" cy="115.7" r="3.4" fill="#256f1a"/><circle cx="293.8" cy="101.4" r="2.8" fill="#2e8c1e"/><circle cx="310.0" cy="71.9" r="2.8" fill="#1f7416"/><circle cx="320.2" cy="65.4" r="3.6" fill="#3aa428"/><circle cx="297.2" cy="100.9" r="2.4" fill="#256f1a"/><circle cx="278.5" cy="97.6" r="2.9" fill="#2e8c1e"/><circle cx="283.8" cy="117.5" r="5.1" fill="#1f7416"/><circle cx="285.4" cy="61.9" r="3.5" fill="#3aa428"/><circle cx="260.0" cy="83.8" r="3.2" fill="#256f1a"/><circle cx="305.8" cy="95.5" r="5.3" fill="#2e8c1e"/><circle cx="306.3" cy="107.6" r="4.2" fill="#1f7416"/><circle cx="298.1" cy="73.5" r="3.0" fill="#3aa428"/><circle cx="285.7" cy="112.7" r="3.6" fill="#256f1a"/><circle cx="322.4" cy="77.0" r="5.0" fill="#2e8c1e"/><circle cx="292.9" cy="88.5" r="4.5" fill="#1f7416"/><circle cx="308.3" cy="70.8" r="4.1" fill="#3aa428"/><circle cx="311.6" cy="87.5" r="5.2" fill="#256f1a"/><circle cx="303.1" cy="54.8" r="5.4" fill="#2e8c1e"/><circle cx="285.6" cy="100.7" r="2.6" fill="#1f7416"/><circle cx="251.1" cy="82.9" r="5.3" fill="#3aa428"/><circle cx="279.5" cy="56.0" r="4.7" fill="#256f1a"/><circle cx="348.2" cy="210.2" r="2.4" fill="#0a0a0a"/><circle cx="378.8" cy="216.2" r="2.7" fill="#1a1a1a"/><circle cx="375.9" cy="225.0" r="2.7" fill="#000"/><circle cx="349.4" cy="206.9" r="1.3" fill="#0a0a0a"/><circle cx="351.0" cy="224.4" r="2.0" fill="#1a1a1a"/><circle cx="359.3" cy="221.4" r="1.4" fill="#000"/><circle cx="357.7" cy="241.6" r="2.4" fill="#0a0a0a"/><circle cx="371.8" cy="237.8" r="1.3" fill="#1a1a1a"/><circle cx="355.8" cy="217.6" r="1.1" fill="#000"/><circle cx="368.3" cy="215.7" r="1.4" fill="#0a0a0a"/><circle cx="381.4" cy="220.3" r="1.6" fill="#1a1a1a"/><circle cx="376.8" cy="218.9" r="2.2" fill="#000"/><circle cx="367.3" cy="241.4" r="2.3" fill="#0a0a0a"/><circle cx="381.3" cy="218.4" r="1.6" fill="#1a1a1a"/><circle cx="355.9" cy="228.8" r="1.3" fill="#000"/><circle cx="372.3" cy="226.9" r="2.1" fill="#0a0a0a"/><circle cx="379.2" cy="222.8" r="1.7" fill="#1a1a1a"/><circle cx="354.3" cy="239.6" r="1.9" fill="#000"/><circle cx="355.5" cy="235.4" r="2.3" fill="#0a0a0a"/><circle cx="381.3" cy="229.5" r="1.1" fill="#1a1a1a"/><circle cx="361.5" cy="203.7" r="1.1" fill="#000"/><circle cx="364.5" cy="210.5" r="2.1" fill="#0a0a0a"/><circle cx="366.1" cy="222.7" r="1.4" fill="#1a1a1a"/><circle cx="370.6" cy="219.9" r="2.4" fill="#000"/><circle cx="380.3" cy="214.0" r="1.7" fill="#0a0a0a"/><circle cx="352.0" cy="234.1" r="2.4" fill="#1a1a1a"/><circle cx="375.9" cy="233.5" r="2.4" fill="#000"/><circle cx="364.1" cy="219.4" r="2.7" fill="#0a0a0a"/><circle cx="372.0" cy="228.9" r="2.1" fill="#1a1a1a"/><circle cx="372.4" cy="216.6" r="2.7" fill="#000"/><circle cx="350.0" cy="219.3" r="1.6" fill="#0a0a0a"/><circle cx="364.1" cy="227.6" r="1.3" fill="#1a1a1a"/><circle cx="353.5" cy="203.6" r="1.4" fill="#000"/><circle cx="381.8" cy="228.5" r="2.0" fill="#0a0a0a"/><circle cx="352.8" cy="228.0" r="2.1" fill="#1a1a1a"/><circle cx="368.2" cy="210.2" r="1.8" fill="#000"/><circle cx="380.8" cy="229.1" r="1.1" fill="#0a0a0a"/><circle cx="341.8" cy="223.2" r="1.3" fill="#1a1a1a"/><circle cx="359.1" cy="202.7" r="2.2" fill="#000"/><circle cx="363.1" cy="216.0" r="1.8" fill="#0a0a0a"/><circle cx="373.2" cy="237.6" r="1.6" fill="#1a1a1a"/><circle cx="340.9" cy="228.4" r="2.5" fill="#000"/><circle cx="375.8" cy="220.4" r="1.9" fill="#0a0a0a"/><circle cx="359.6" cy="208.5" r="1.6" fill="#1a1a1a"/><circle cx="354.7" cy="226.9" r="1.7" fill="#000"/><circle cx="382.5" cy="221.0" r="2.2" fill="#0a0a0a"/><circle cx="349.0" cy="222.5" r="1.2" fill="#1a1a1a"/><circle cx="358.8" cy="240.3" r="2.6" fill="#000"/><circle cx="349.2" cy="236.3" r="2.4" fill="#0a0a0a"/><circle cx="355.5" cy="206.8" r="2.4" fill="#1a1a1a"/><circle cx="349.7" cy="235.4" r="1.6" fill="#000"/><circle cx="342.7" cy="224.1" r="2.3" fill="#0a0a0a"/><circle cx="355.8" cy="241.5" r="2.2" fill="#1a1a1a"/><circle cx="359.5" cy="221.4" r="2.0" fill="#000"/><circle cx="361.4" cy="239.2" r="1.9" fill="#0a0a0a"/><circle cx="368.5" cy="207.5" r="2.4" fill="#1a1a1a"/><circle cx="351.5" cy="235.8" r="2.3" fill="#000"/><circle cx="367.5" cy="211.8" r="2.5" fill="#0a0a0a"/><circle cx="373.7" cy="210.1" r="2.7" fill="#1a1a1a"/><circle cx="376.4" cy="218.5" r="2.0" fill="#000"/><circle cx="371.4" cy="238.6" r="2.7" fill="#0a0a0a"/><circle cx="343.8" cy="224.9" r="2.3" fill="#1a1a1a"/><circle cx="360.4" cy="214.1" r="2.4" fill="#000"/><circle cx="346.2" cy="214.4" r="1.8" fill="#0a0a0a"/><circle cx="348.0" cy="209.9" r="2.2" fill="#1a1a1a"/><circle cx="360.8" cy="219.1" r="1.3" fill="#000"/><circle cx="345.3" cy="228.4" r="1.4" fill="#0a0a0a"/><circle cx="354.8" cy="207.5" r="1.1" fill="#1a1a1a"/><circle cx="351.4" cy="224.2" r="1.2" fill="#000"/><circle cx="369.6" cy="231.0" r="1.4" fill="#0a0a0a"/><circle cx="362.9" cy="226.1" r="1.9" fill="#1a1a1a"/><circle cx="349.2" cy="233.3" r="2.1" fill="#000"/><circle cx="363.0" cy="241.8" r="1.1" fill="#0a0a0a"/><circle cx="352.1" cy="228.5" r="1.8" fill="#1a1a1a"/><circle cx="376.2" cy="234.8" r="1.7" fill="#000"/><circle cx="377.9" cy="226.0" r="1.2" fill="#0a0a0a"/><circle cx="349.5" cy="219.1" r="2.1" fill="#1a1a1a"/><circle cx="380.2" cy="217.7" r="1.8" fill="#000"/><circle cx="368.1" cy="207.4" r="1.7" fill="#0a0a0a"/><circle cx="371.9" cy="234.7" r="2.0" fill="#1a1a1a"/><circle cx="381.8" cy="217.1" r="2.1" fill="#000"/><circle cx="349.4" cy="238.0" r="1.1" fill="#0a0a0a"/><circle cx="374.1" cy="232.1" r="2.1" fill="#1a1a1a"/><circle cx="372.3" cy="235.0" r="2.6" fill="#000"/><circle cx="351.5" cy="231.9" r="1.5" fill="#0a0a0a"/><circle cx="356.0" cy="241.9" r="1.7" fill="#1a1a1a"/><circle cx="381.4" cy="217.7" r="2.1" fill="#000"/><circle cx="360.2" cy="242.6" r="1.9" fill="#0a0a0a"/><circle cx="351.0" cy="228.3" r="2.8" fill="#1a1a1a"/><circle cx="350.0" cy="223.0" r="1.9" fill="#000"/><circle cx="373.7" cy="233.6" r="1.8" fill="#0a0a0a"/><circle cx="356.4" cy="239.8" r="2.5" fill="#1a1a1a"/><circle cx="377.1" cy="223.7" r="1.5" fill="#000"/><circle cx="378.9" cy="215.3" r="1.5" fill="#0a0a0a"/><circle cx="360.5" cy="230.4" r="2.8" fill="#1a1a1a"/><circle cx="357.0" cy="237.8" r="1.9" fill="#000"/><circle cx="351.2" cy="209.9" r="2.4" fill="#0a0a0a"/><circle cx="375.3" cy="234.5" r="1.6" fill="#1a1a1a"/><circle cx="349.3" cy="220.0" r="1.6" fill="#000"/><circle cx="347.1" cy="219.9" r="1.7" fill="#0a0a0a"/><circle cx="361.0" cy="206.8" r="1.1" fill="#1a1a1a"/><circle cx="361.3" cy="236.2" r="2.6" fill="#000"/><circle cx="373.6" cy="212.7" r="1.1" fill="#0a0a0a"/><circle cx="364.0" cy="209.3" r="2.1" fill="#1a1a1a"/><circle cx="357.0" cy="206.8" r="1.9" fill="#000"/><circle cx="372.8" cy="215.8" r="1.7" fill="#0a0a0a"/><circle cx="367.2" cy="215.2" r="1.6" fill="#1a1a1a"/><circle cx="364.1" cy="217.9" r="2.5" fill="#000"/><circle cx="356.7" cy="209.8" r="1.6" fill="#0a0a0a"/><circle cx="365.4" cy="203.3" r="1.3" fill="#1a1a1a"/><circle cx="345.7" cy="224.5" r="1.9" fill="#000"/><circle cx="357.4" cy="229.4" r="2.1" fill="#0a0a0a"/><circle cx="363.6" cy="217.5" r="1.5" fill="#1a1a1a"/><circle cx="369.6" cy="206.0" r="2.2" fill="#000"/><circle cx="379.5" cy="225.2" r="2.8" fill="#0a0a0a"/><circle cx="379.5" cy="222.3" r="1.2" fill="#1a1a1a"/><circle cx="367.0" cy="214.5" r="2.2" fill="#000"/><circle cx="378.8" cy="217.4" r="1.3" fill="#0a0a0a"/><circle cx="356.1" cy="241.3" r="1.3" fill="#1a1a1a"/><circle cx="350.9" cy="214.0" r="1.4" fill="#000"/><polygon points="53.8,115.1 99.8,103.9 102.8,110.0 112.7,148.8 109.0,153.3 77.9,162.7 80.8,189.7 95.7,194.2 97.1,201.0 78.3,205.7 74.6,201.0 54.2,121.2" fill="#9a1fc0" opacity="0.97" stroke-linejoin="round" stroke="#9a1fc0" stroke-width="4"/><polygon points="261.3,66.0 294.0,59.3 307.7,117.2 276.2,126.4" fill="#a233c8" opacity="0.9" stroke-linejoin="round" stroke="#a233c8" stroke-width="4"/><polygon points="116.7,108.0 124.3,106.3 136.6,155.0 129.0,157.4" fill="#c5d235" opacity="0.85" stroke-linejoin="round" stroke="#c5d235" stroke-width="4"/><polygon points="93.0,169.3 175.4,159.1 178.9,174.4 143.7,186.7 108.0,197.9 96.7,189.7" fill="#d6d032" opacity="0.82" stroke-linejoin="round" stroke="#d6d032" stroke-width="4"/><polygon points="126.4,108.0 251.1,71.6 258.2,77.3 273.6,127.4 313.4,125.9 315.5,141.7 219.4,167.7 184.6,163.6 140.7,161.5 137.6,155.0" fill="#e08a22" opacity="0.85" stroke-linejoin="round" stroke="#e08a22" stroke-width="4"/><polygon points="185.6,175.0 316.5,148.8 335.5,229.6 171.3,278.1 152.3,220.4 186.3,207.7" fill="#c23a30" opacity="0.86" stroke-linejoin="round" stroke="#c23a30" stroke-width="4"/><path d="M182.6 180.5L205.1 174.4Q208.1 197.9 186.7 206.5Z" fill="#d4657a"/><polygon points="144.8,191.4 179.5,186.7 184.2,205.1 149.9,215.9" fill="#9a1fc0" opacity="0.97" stroke-linejoin="round" stroke="#9a1fc0" stroke-width="4"/><ellipse cx="215.3" cy="126.4" rx="32" ry="24" fill="none" stroke="#c8782a" stroke-width="1.2" transform="rotate(-15 215.3 126.4)"/><ellipse cx="215.3" cy="126.4" rx="20" ry="15" fill="none" stroke="#c8782a" stroke-width="1.2" transform="rotate(-15 215.3 126.4)"/><circle cx="172.3" cy="221.4" r="4.1" fill="#8a1420"/><circle cx="172.6" cy="220.4" r="3.4" fill="#7a1018"/><circle cx="186.7" cy="227.3" r="3.5" fill="#8a1420"/><circle cx="183.8" cy="214.3" r="2.8" fill="#7a1018"/><circle cx="193.4" cy="225.0" r="3.6" fill="#8a1420"/><circle cx="196.3" cy="221.9" r="4.2" fill="#7a1018"/><circle cx="176.2" cy="209.6" r="2.5" fill="#8a1420"/><circle cx="192.9" cy="219.3" r="2.3" fill="#7a1018"/><circle cx="185.2" cy="224.6" r="2.2" fill="#8a1420"/><circle cx="173.3" cy="220.4" r="4.0" fill="#7a1018"/><circle cx="171.2" cy="217.1" r="3.2" fill="#8a1420"/><circle cx="177.5" cy="210.5" r="2.7" fill="#7a1018"/><circle cx="196.9" cy="218.2" r="4.0" fill="#8a1420"/><circle cx="180.5" cy="211.0" r="2.6" fill="#7a1018"/><circle cx="181.7" cy="221.9" r="3.8" fill="#8a1420"/><circle cx="171.9" cy="225.7" r="3.0" fill="#7a1018"/><circle cx="195.3" cy="215.1" r="2.1" fill="#8a1420"/><circle cx="186.0" cy="230.9" r="3.2" fill="#7a1018"/><circle cx="191.5" cy="217.3" r="2.3" fill="#8a1420"/><circle cx="173.9" cy="209.6" r="2.7" fill="#7a1018"/><circle cx="189.6" cy="222.4" r="4.2" fill="#8a1420"/><circle cx="182.8" cy="213.7" r="2.7" fill="#7a1018"/><circle cx="304.2" cy="170.3" r="16.4" fill="#a02830" opacity="0.6" stroke="#7a1820" stroke-width="0.8"/><polygon points="305.3,227.6 332.9,220.4 335.9,233.7 308.3,240.9" fill="#d8404a" opacity="0.9"/><circle cx="276.8" cy="132.8" r="3.5" fill="#a8901e"/><circle cx="255.1" cy="117.6" r="3.9" fill="#b8962a"/><circle cx="272.7" cy="100.5" r="3.2" fill="#98881a"/><circle cx="266.5" cy="117.4" r="2.9" fill="#a8901e"/><circle cx="260.9" cy="113.0" r="3.9" fill="#b8962a"/><circle cx="267.7" cy="127.3" r="2.1" fill="#98881a"/><circle cx="287.5" cy="115.8" r="4.1" fill="#a8901e"/><circle cx="263.0" cy="113.3" r="2.8" fill="#b8962a"/><circle cx="258.1" cy="116.3" r="4.3" fill="#98881a"/><circle cx="259.9" cy="122.9" r="4.0" fill="#a8901e"/><circle cx="283.1" cy="132.0" r="3.1" fill="#b8962a"/><circle cx="252.8" cy="111.8" r="3.2" fill="#98881a"/><circle cx="268.2" cy="120.3" r="4.1" fill="#a8901e"/><circle cx="268.5" cy="136.6" r="2.5" fill="#b8962a"/><circle cx="289.2" cy="111.8" r="3.8" fill="#98881a"/><circle cx="267.9" cy="98.4" r="3.8" fill="#a8901e"/><circle cx="278.6" cy="127.3" r="4.0" fill="#b8962a"/><circle cx="273.5" cy="137.5" r="4.1" fill="#98881a"/><circle cx="253.9" cy="123.7" r="3.1" fill="#a8901e"/><circle cx="248.0" cy="131.4" r="2.9" fill="#b8962a"/><circle cx="273.8" cy="117.3" r="3.7" fill="#98881a"/><circle cx="283.7" cy="115.4" r="3.2" fill="#a8901e"/><circle cx="246.2" cy="109.8" r="2.5" fill="#b8962a"/><circle cx="252.2" cy="105.1" r="3.5" fill="#98881a"/><circle cx="270.7" cy="124.8" r="2.8" fill="#a8901e"/><circle cx="279.4" cy="110.1" r="3.4" fill="#b8962a"/><circle cx="263.7" cy="123.2" r="2.1" fill="#98881a"/><circle cx="274.8" cy="97.2" r="2.9" fill="#a8901e"/><circle cx="258.2" cy="98.6" r="4.2" fill="#b8962a"/><circle cx="281.5" cy="112.3" r="4.4" fill="#98881a"/><circle cx="284.7" cy="111.8" r="4.1" fill="#a8901e"/><circle cx="251.4" cy="116.9" r="2.6" fill="#b8962a"/><circle cx="273.4" cy="109.5" r="2.1" fill="#98881a"/><circle cx="273.8" cy="96.9" r="3.1" fill="#a8901e"/><circle cx="269.3" cy="111.6" r="2.6" fill="#b8962a"/><circle cx="262.5" cy="130.8" r="2.4" fill="#98881a"/><circle cx="279.3" cy="121.9" r="4.2" fill="#a8901e"/><circle cx="287.5" cy="114.0" r="3.1" fill="#b8962a"/><circle cx="266.1" cy="139.0" r="3.3" fill="#98881a"/><circle cx="265.9" cy="112.2" r="2.5" fill="#a8901e"/><text x="81.8" y="142.3" font-size="6.2" fill="#111" text-anchor="middle">Zone 4</text><text x="169.9" y="132.9" font-size="6.2" fill="#111" text-anchor="middle">Zone 2</text><text x="280.1" y="90.8" font-size="6.2" fill="#111" text-anchor="middle">Zone 4</text><text x="120.4" y="170.9" font-size="6.2" fill="#111" text-anchor="middle">Zone 1</text><text x="161.1" y="203.6" font-size="6.2" fill="#111" text-anchor="middle">Zone 4</text><text x="231.6" y="217.1" font-size="6.2" fill="#111" text-anchor="middle">Zone 3</text></svg></g>
<g transform="translate(1221.2,1534.5)"><path d="M0.5 2.5h4.5l1.5 1.5h5.5v2.5h-8.5l-3 5.5z" fill="#f6d26a" stroke="#b8862a" stroke-width="1"/><path d="M3.5 6.5h11l-3 5.5h-11z" fill="#fbe69a" stroke="#b8862a" stroke-width="1"/></g>
<g transform="translate(1083.4,1581.5)"><path d="M0.5 0.5h6.5l3.5 3.5v9.5h-10z" fill="#f0f0f0" stroke="#cfcfcf" stroke-width="1"/><path d="M7 0.5v3.5h3.5" fill="#ffffff" stroke="#cfcfcf" stroke-width="1"/></g>
<g transform="translate(1083.4,1613.5)"><path d="M0.5 0.5h6.5l3.5 3.5v9.5h-10z" fill="#f0f0f0" stroke="#cfcfcf" stroke-width="1"/><path d="M7 0.5v3.5h3.5" fill="#ffffff" stroke="#cfcfcf" stroke-width="1"/></g>
<g transform="translate(768.6,1643.8)"><svg x="0" y="0" width="400.0" height="279.1" viewBox="0 0 400.0 279.1" overflow="hidden"><rect x="0.0" y="0.0" width="400.0" height="279.1" fill="#fff"/><rect x="0.0" y="0.0" width="106.0" height="20.7" fill="#f3f3f3"/><rect x="0.0" y="22.3" width="106.0" height="10.5" fill="#f3f3f3"/><rect x="0.0" y="34.2" width="106.0" height="24.6" fill="#f3f3f3"/><text x="2.0" y="12.0" font-size="4.6" fill="#333">Month of year</text><text x="2.0" y="28.5" font-size="4.4" fill="#333">Dominant Wind dir</text><text x="2.0" y="40.5" font-size="4.4" fill="#333">Wind probability</text><text x="2.0" y="51.5" font-size="4.4" fill="#333">&gt;= 4 Beaufort (%)</text><rect x="107.0" y="0.0" width="21.4" height="10.2" fill="#f3f3f3"/><rect x="107.0" y="11.1" width="21.4" height="9.6" fill="#f3f3f3"/><text x="117.7" y="6.8" font-size="4.2" fill="#333" text-anchor="middle">Jan</text><text x="117.7" y="17.8" font-size="4.2" fill="#333" text-anchor="middle">01</text><path d="M115.1 30l6-2.2-3.2 0.4z" fill="#222" stroke="#222" stroke-width="0.5"/><text x="117.7" y="46.8" font-size="4.2" fill="#333" text-anchor="middle">23</text><rect x="107.0" y="50.0" width="20.6" height="5.0" fill="#0a84f0"/><rect x="129.2" y="0.0" width="21.4" height="10.2" fill="#f3f3f3"/><rect x="129.2" y="11.1" width="21.4" height="9.6" fill="#f3f3f3"/><text x="139.9" y="6.8" font-size="4.2" fill="#333" text-anchor="middle">Feb</text><text x="139.9" y="17.8" font-size="4.2" fill="#333" text-anchor="middle">02</text><path d="M137.3 30l6-2.2-3.2 0.4z" fill="#222" stroke="#222" stroke-width="0.5"/><text x="139.9" y="45.2" font-size="4.2" fill="#333" text-anchor="middle">26</text><rect x="129.2" y="48.4" width="20.6" height="6.6" fill="#00dce6"/><rect x="151.3" y="0.0" width="21.4" height="10.2" fill="#f3f3f3"/><rect x="151.3" y="11.1" width="21.4" height="9.6" fill="#f3f3f3"/><text x="162.0" y="6.8" font-size="4.2" fill="#333" text-anchor="middle">Mar</text><text x="162.0" y="17.8" font-size="4.2" fill="#333" text-anchor="middle">03</text><path d="M159.4 30l6-2.2-3.2 0.4z" fill="#222" stroke="#222" stroke-width="0.5"/><text x="162.0" y="46.0" font-size="4.2" fill="#333" text-anchor="middle">24</text><rect x="151.3" y="49.2" width="20.6" height="5.8" fill="#0aa8f0"/><rect x="173.5" y="0.0" width="21.4" height="10.2" fill="#f3f3f3"/><rect x="173.5" y="11.1" width="21.4" height="9.6" fill="#f3f3f3"/><text x="184.2" y="6.8" font-size="4.2" fill="#333" text-anchor="middle">Apr</text><text x="184.2" y="17.8" font-size="4.2" fill="#333" text-anchor="middle">04</text><path d="M181.6 30l6-2.2-3.2 0.4z" fill="#222" stroke="#222" stroke-width="0.5"/><text x="184.2" y="44.0" font-size="4.2" fill="#333" text-anchor="middle">33</text><rect x="173.5" y="47.2" width="20.6" height="7.8" fill="#26a878"/><rect x="195.7" y="0.0" width="21.4" height="10.2" fill="#f3f3f3"/><rect x="195.7" y="11.1" width="21.4" height="9.6" fill="#f3f3f3"/><text x="206.4" y="6.8" font-size="4.2" fill="#333" text-anchor="middle">May</text><text x="206.4" y="17.8" font-size="4.2" fill="#333" text-anchor="middle">05</text><path d="M203.8 30l6-2.2-3.2 0.4z" fill="#222" stroke="#222" stroke-width="0.5"/><text x="206.4" y="44.0" font-size="4.2" fill="#333" text-anchor="middle">32</text><rect x="195.7" y="47.2" width="20.6" height="7.8" fill="#26a878"/><rect x="217.9" y="0.0" width="21.4" height="10.2" fill="#f3f3f3"/><rect x="217.9" y="11.1" width="21.4" height="9.6" fill="#f3f3f3"/><text x="228.6" y="6.8" font-size="4.2" fill="#333" text-anchor="middle">Jun</text><text x="228.6" y="17.8" font-size="4.2" fill="#333" text-anchor="middle">06</text><path d="M226.0 30l6-2.2-3.2 0.4z" fill="#222" stroke="#222" stroke-width="0.5"/><text x="228.6" y="44.0" font-size="4.2" fill="#333" text-anchor="middle">33</text><rect x="217.9" y="47.2" width="20.6" height="7.8" fill="#26a878"/><rect x="240.1" y="0.0" width="21.4" height="10.2" fill="#f3f3f3"/><rect x="240.1" y="11.1" width="21.4" height="9.6" fill="#f3f3f3"/><text x="250.8" y="6.8" font-size="4.2" fill="#333" text-anchor="middle">Jul</text><text x="250.8" y="17.8" font-size="4.2" fill="#333" text-anchor="middle">07</text><path d="M248.2 30l6-2.2-3.2 0.4z" fill="#222" stroke="#222" stroke-width="0.5"/><text x="250.8" y="46.0" font-size="4.2" fill="#333" text-anchor="middle">24</text><rect x="240.1" y="49.2" width="20.6" height="5.8" fill="#0aa8f0"/><rect x="262.3" y="0.0" width="21.4" height="10.2" fill="#f3f3f3"/><rect x="262.3" y="11.1" width="21.4" height="9.6" fill="#f3f3f3"/><text x="273.0" y="6.8" font-size="4.2" fill="#333" text-anchor="middle">Aug</text><text x="273.0" y="17.8" font-size="4.2" fill="#333" text-anchor="middle">08</text><path d="M270.4 30l6-2.2-3.2 0.4z" fill="#222" stroke="#222" stroke-width="0.5"/><text x="273.0" y="45.2" font-size="4.2" fill="#333" text-anchor="middle">29</text><rect x="262.3" y="48.4" width="20.6" height="6.6" fill="#00dce6"/><rect x="284.5" y="0.0" width="21.4" height="10.2" fill="#f3f3f3"/><rect x="284.5" y="11.1" width="21.4" height="9.6" fill="#f3f3f3"/><text x="295.2" y="6.8" font-size="4.2" fill="#333" text-anchor="middle">Sep</text><text x="295.2" y="17.8" font-size="4.2" fill="#333" text-anchor="middle">09</text><path d="M292.6 30l6-2.2-3.2 0.4z" fill="#222" stroke="#222" stroke-width="0.5"/><text x="295.2" y="45.2" font-size="4.2" fill="#333" text-anchor="middle">31</text><rect x="284.5" y="48.4" width="20.6" height="6.6" fill="#00dce6"/><rect x="306.7" y="0.0" width="21.4" height="10.2" fill="#f3f3f3"/><rect x="306.7" y="11.1" width="21.4" height="9.6" fill="#f3f3f3"/><text x="317.4" y="6.8" font-size="4.2" fill="#333" text-anchor="middle">Oct</text><text x="317.4" y="17.8" font-size="4.2" fill="#333" text-anchor="middle">10</text><path d="M314.8 30l6-2.2-3.2 0.4z" fill="#222" stroke="#222" stroke-width="0.5"/><text x="317.4" y="46.0" font-size="4.2" fill="#333" text-anchor="middle">27</text><rect x="306.7" y="49.2" width="20.6" height="5.8" fill="#0aa8f0"/><rect x="328.9" y="0.0" width="21.4" height="10.2" fill="#f3f3f3"/><rect x="328.9" y="11.1" width="21.4" height="9.6" fill="#f3f3f3"/><text x="339.6" y="6.8" font-size="4.2" fill="#333" text-anchor="middle">Nov</text><text x="339.6" y="17.8" font-size="4.2" fill="#333" text-anchor="middle">11</text><path d="M337.0 30l6-2.2-3.2 0.4z" fill="#222" stroke="#222" stroke-width="0.5"/><text x="339.6" y="45.2" font-size="4.2" fill="#333" text-anchor="middle">30</text><rect x="328.9" y="48.4" width="20.6" height="6.6" fill="#00dce6"/><rect x="351.1" y="0.0" width="21.4" height="10.2" fill="#f3f3f3"/><rect x="351.1" y="11.1" width="21.4" height="9.6" fill="#f3f3f3"/><text x="361.7" y="6.8" font-size="4.2" fill="#333" text-anchor="middle">Dec</text><text x="361.7" y="17.8" font-size="4.2" fill="#333" text-anchor="middle">12</text><path d="M359.1 30l6-2.2-3.2 0.4z" fill="#222" stroke="#222" stroke-width="0.5"/><text x="361.7" y="45.2" font-size="4.2" fill="#333" text-anchor="middle">31</text><rect x="351.1" y="48.4" width="20.6" height="6.6" fill="#00dce6"/><rect x="373.2" y="0.0" width="21.4" height="10.2" fill="#f3f3f3"/><rect x="373.2" y="11.1" width="21.4" height="9.6" fill="#f3f3f3"/><text x="383.9" y="6.8" font-size="4.2" fill="#333" text-anchor="middle">SUM</text><text x="383.9" y="17.8" font-size="4.2" fill="#333" text-anchor="middle">1-12</text><path d="M381.3 30l6-2.2-3.2 0.4z" fill="#222" stroke="#222" stroke-width="0.5"/><text x="383.9" y="45.2" font-size="4.2" fill="#333" text-anchor="middle">28</text><rect x="373.2" y="48.4" width="20.6" height="6.6" fill="#00dce6"/><g transform="translate(57.7,72.7) scale(0.713)"><text x="9.5" y="8.5" font-size="5.6" fill="#222" textLength="152" lengthAdjust="spacingAndGlyphs">Title :  Talbot Gardens Family Forest Garden</text><text x="9.5" y="17.0" font-size="5.6" fill="#222">Date:</text><text x="34.0" y="17.0" font-size="5.6" fill="#333">Autumn 2010</text><text x="9.5" y="25.5" font-size="5.6" fill="#222">By:</text><text x="34.0" y="25.5" font-size="5.6" fill="#222" textLength="78" lengthAdjust="spacingAndGlyphs">Rakesh Rootsman Rak</text><path d="M304 4v14M300.5 8.5l3.5-5 3.5 5M300.5 13h7" stroke="#111" stroke-width="1.3" fill="none"/><text x="325.0" y="13.5" font-size="5.8" fill="#333">0m</text><text x="352.0" y="13.5" font-size="5.8" fill="#333">2m</text><text x="376.0" y="13.5" font-size="5.8" fill="#333">4m</text><path d="M331 19h51M331 17.5v1.5M357 17.5v1.5M382 17.5v1.5" stroke="#555" stroke-width="0.5" fill="none"/><polygon points="17.0,63.0 20.4,62.2 81.0,290.9 75.6,290.9" fill="#9c5f2c"/><polygon points="20.0,62.6 38.0,70.7 49.1,111.6 31.9,106.9" fill="#6e6e70"/><polygon points="89.6,57.9 101.8,67.5 110.4,100.2 100.8,101.0" fill="#78787a"/><polyline points="38.0,70.7 89.6,57.9" fill="none" stroke="#333" stroke-width="0.5" stroke-dasharray="1.5,1"/><polygon points="31.9,106.9 49.1,112.0 74.2,202.0 77.3,212.2 86.5,253.1 101.8,251.1 110.2,290.9 79.7,290.9" fill="#3a2b20"/><polygon points="97.7,201.0 144.8,189.7 148.8,216.3 154.0,217.3 168.3,273.6 138.8,290.9 110.2,290.9 101.8,251.1 110.0,242.9 100.8,215.3" fill="#c3bebb"/><polygon points="105.9,104.3 238.8,67.5 305.3,49.7 330.8,45.0 318.5,49.1 310.4,54.8 338.0,237.2 151.9,290.9 138.8,290.9 167.2,273.6 126.4,157.0 114.1,150.9" fill="#3b3a38"/><polygon points="114.1,108.0 236.8,74.2 308.3,54.8 331.8,233.7 168.3,277.7 154.0,217.3 185.6,207.1 182.6,183.6 179.5,157.0 152.9,161.1 129.4,157.0 124.3,153.3" fill="#5e984f"/><polygon points="49.1,112.0 102.4,99.4 116.1,150.9 124.3,153.3 91.6,164.8 98.8,190.8 105.9,188.7 111.6,212.2 100.8,215.3 110.0,242.9 101.8,251.1 86.5,253.1 74.2,202.0" fill="#474247"/><polygon points="102.8,101.8 111.0,104.9 123.3,150.9 117.2,150.9" fill="#8d8f96"/><polygon points="78.3,166.0 91.6,164.8 98.8,190.8 85.1,192.6" fill="#3f2e24"/><polygon points="81.8,169.3 89.1,168.1 90.6,173.8 83.4,175.0" fill="#8a8a8c"/><polygon points="84.4,180.5 90.6,179.5 92.2,186.7 86.1,187.7" fill="#8a8a8c"/><polygon points="96.1,191.8 105.9,188.7 111.6,211.8 102.2,214.3" fill="#3a2b20"/><polygon points="93.6,219.4 104.3,217.3 110.4,242.9 100.8,246.0" fill="#3a2b20"/><polyline points="73.2,200.0 105.9,194.8" fill="none" stroke="#cfd4e0" stroke-width="0.5"/><polyline points="64.0,220.4 103.9,200.0" fill="none" stroke="#e8e8e8" stroke-width="0.5"/><polygon points="91.2,165.2 124.3,153.3 151.3,151.9 153.3,161.1 139.0,166.4 145.2,189.3 105.9,198.9 98.8,190.8" fill="#a19d9b"/><polygon points="119.2,117.2 235.7,87.5 254.1,148.8 203.0,162.1 206.1,172.4 180.5,179.5 175.4,157.0 152.9,161.1 150.9,151.9 129.4,157.0" fill="#8fa45c"/><polyline points="138.6,101.8 146.8,106.9 167.2,101.8 165.2,93.6 173.4,97.7 191.8,93.6 189.7,86.5 200.0,84.4 203.0,94.7 191.8,96.7" fill="none" stroke="#3f5f2f" stroke-width="0.6"/><polygon points="154.0,217.3 186.1,207.7 220.4,182.0 283.8,166.8 299.1,229.0 167.2,266.4" fill="#9bae63" stroke="#4e6a34" stroke-width="0.4" stroke-dasharray="1.5,1"/><path d="M182.6 181.1L205.1 176.4Q208.1 200.0 187.7 206.5Z" fill="#cfd0d0"/><polygon points="203.0,162.1 216.3,158.7 219.4,169.3 206.1,172.4" fill="#a19d9b"/><polygon points="138.6,166.8 157.0,162.1 159.5,175.4 164.2,174.4 161.5,160.7 175.4,157.0 180.5,179.5 144.8,188.7" fill="#628c22" stroke="#c5772f" stroke-width="0.8"/><polygon points="140.7,189.7 182.6,180.5 187.7,206.1 148.8,217.3" fill="#4a4449"/><polyline points="105.9,200.0 318.5,144.8" fill="none" stroke="#2f2f2f" stroke-width="0.7" stroke-dasharray="1.5,0.8"/><polyline points="159.9,45.6 159.9,138.6" fill="none" stroke="#ff8c1a" stroke-width="0.6"/><polyline points="310.4,144.8 355.3,134.5" fill="none" stroke="#5a6478" stroke-width="1.0" stroke-dasharray="1,0.5"/><polygon points="335.9,237.8 341.0,235.7 353.3,273.6 350.2,276.6" fill="#6b6f78"/><circle cx="302.2" cy="171.3" r="16.8" fill="#2f4a2a" opacity="0.55" stroke="#1d2b1a" stroke-width="0.8"/><circle cx="302.2" cy="171.3" r="10.2" fill="none" stroke="#1d2b1a" stroke-width="0.6"/><circle cx="274.1" cy="112.2" r="4.5" fill="#2e8c1e"/><circle cx="310.6" cy="111.2" r="3.5" fill="#1f7416"/><circle cx="311.0" cy="108.3" r="2.3" fill="#3aa428"/><circle cx="271.1" cy="102.2" r="2.5" fill="#256f1a"/><circle cx="246.2" cy="115.1" r="2.6" fill="#4a9a3a"/><circle cx="287.6" cy="130.3" r="5.5" fill="#1c6a14"/><circle cx="257.2" cy="85.5" r="5.6" fill="#2e8c1e"/><circle cx="320.7" cy="108.9" r="3.2" fill="#1f7416"/><circle cx="291.0" cy="109.0" r="3.3" fill="#3aa428"/><circle cx="289.3" cy="81.5" r="4.2" fill="#256f1a"/><circle cx="264.5" cy="78.2" r="4.1" fill="#4a9a3a"/><circle cx="291.6" cy="101.6" r="2.9" fill="#1c6a14"/><circle cx="269.6" cy="73.0" r="3.3" fill="#2e8c1e"/><circle cx="256.3" cy="83.3" r="3.3" fill="#1f7416"/><circle cx="291.9" cy="64.2" r="3.1" fill="#3aa428"/><circle cx="253.3" cy="84.1" r="5.3" fill="#256f1a"/><circle cx="278.7" cy="75.5" r="5.6" fill="#4a9a3a"/><circle cx="302.7" cy="116.0" r="4.9" fill="#1c6a14"/><circle cx="299.5" cy="121.6" r="2.3" fill="#2e8c1e"/><circle cx="262.8" cy="65.9" r="4.2" fill="#1f7416"/><circle cx="299.2" cy="81.2" r="4.6" fill="#3aa428"/><circle cx="254.0" cy="80.0" r="3.8" fill="#256f1a"/><circle cx="304.6" cy="63.5" r="3.9" fill="#4a9a3a"/><circle cx="276.2" cy="88.9" r="4.7" fill="#1c6a14"/><circle cx="255.4" cy="64.5" r="5.1" fill="#2e8c1e"/><circle cx="275.9" cy="123.1" r="4.5" fill="#1f7416"/><circle cx="311.3" cy="101.7" r="2.8" fill="#3aa428"/><circle cx="289.7" cy="104.5" r="4.9" fill="#256f1a"/><circle cx="296.8" cy="112.8" r="3.6" fill="#4a9a3a"/><circle cx="290.4" cy="89.2" r="3.8" fill="#1c6a14"/><circle cx="242.4" cy="85.7" r="5.1" fill="#2e8c1e"/><circle cx="297.0" cy="81.1" r="3.7" fill="#1f7416"/><circle cx="255.6" cy="128.2" r="5.6" fill="#3aa428"/><circle cx="292.5" cy="112.0" r="3.0" fill="#256f1a"/><circle cx="284.9" cy="126.7" r="4.3" fill="#4a9a3a"/><circle cx="281.5" cy="100.4" r="3.7" fill="#1c6a14"/><circle cx="259.2" cy="120.7" r="5.5" fill="#2e8c1e"/><circle cx="270.2" cy="69.8" r="4.4" fill="#1f7416"/><circle cx="277.2" cy="89.1" r="5.4" fill="#3aa428"/><circle cx="289.4" cy="59.4" r="5.0" fill="#256f1a"/><circle cx="260.1" cy="114.2" r="2.6" fill="#4a9a3a"/><circle cx="274.5" cy="89.9" r="2.4" fill="#1c6a14"/><circle cx="286.3" cy="114.0" r="3.4" fill="#2e8c1e"/><circle cx="282.4" cy="97.9" r="2.7" fill="#1f7416"/><circle cx="303.0" cy="112.7" r="2.3" fill="#3aa428"/><circle cx="306.0" cy="74.5" r="2.7" fill="#256f1a"/><circle cx="281.4" cy="122.3" r="3.5" fill="#4a9a3a"/><circle cx="310.8" cy="124.6" r="5.7" fill="#1c6a14"/><circle cx="251.9" cy="103.9" r="2.5" fill="#2e8c1e"/><circle cx="302.3" cy="112.4" r="3.1" fill="#1f7416"/><circle cx="290.1" cy="83.0" r="2.3" fill="#3aa428"/><circle cx="312.2" cy="88.5" r="2.7" fill="#256f1a"/><circle cx="274.8" cy="95.9" r="4.1" fill="#4a9a3a"/><circle cx="322.2" cy="92.5" r="4.6" fill="#1c6a14"/><circle cx="279.9" cy="123.0" r="2.8" fill="#2e8c1e"/><circle cx="286.1" cy="67.5" r="4.9" fill="#1f7416"/><circle cx="271.8" cy="115.0" r="5.1" fill="#3aa428"/><circle cx="322.2" cy="94.1" r="5.0" fill="#256f1a"/><circle cx="297.5" cy="65.1" r="3.0" fill="#4a9a3a"/><circle cx="255.7" cy="95.0" r="2.3" fill="#1c6a14"/><circle cx="304.6" cy="101.6" r="3.1" fill="#2e8c1e"/><circle cx="266.6" cy="59.5" r="3.8" fill="#1f7416"/><circle cx="322.1" cy="81.7" r="5.6" fill="#3aa428"/><circle cx="268.1" cy="112.5" r="3.0" fill="#256f1a"/><circle cx="288.3" cy="115.6" r="4.4" fill="#4a9a3a"/><circle cx="314.4" cy="75.3" r="3.9" fill="#1c6a14"/><circle cx="259.2" cy="67.1" r="2.5" fill="#2e8c1e"/><circle cx="259.4" cy="64.0" r="4.9" fill="#1f7416"/><circle cx="281.8" cy="68.9" r="2.8" fill="#3aa428"/><circle cx="287.9" cy="74.4" r="5.0" fill="#256f1a"/><circle cx="309.0" cy="93.1" r="3.6" fill="#4a9a3a"/><circle cx="317.1" cy="86.1" r="2.8" fill="#1c6a14"/><circle cx="293.7" cy="109.4" r="5.4" fill="#2e8c1e"/><circle cx="287.6" cy="82.8" r="5.1" fill="#1f7416"/><circle cx="317.1" cy="93.6" r="3.4" fill="#3aa428"/><circle cx="266.6" cy="93.2" r="2.2" fill="#256f1a"/><circle cx="316.6" cy="91.6" r="4.0" fill="#4a9a3a"/><circle cx="308.2" cy="86.6" r="5.3" fill="#1c6a14"/><circle cx="291.0" cy="80.7" r="3.1" fill="#2e8c1e"/><circle cx="276.0" cy="117.5" r="4.3" fill="#1f7416"/><circle cx="280.1" cy="124.7" r="2.7" fill="#3aa428"/><circle cx="303.8" cy="84.4" r="3.8" fill="#256f1a"/><circle cx="245.5" cy="77.9" r="3.7" fill="#4a9a3a"/><circle cx="308.8" cy="83.1" r="4.1" fill="#1c6a14"/><circle cx="275.8" cy="96.9" r="3.7" fill="#2e8c1e"/><circle cx="282.9" cy="100.1" r="5.0" fill="#1f7416"/><circle cx="295.9" cy="123.1" r="4.7" fill="#3aa428"/><circle cx="258.2" cy="89.4" r="4.0" fill="#256f1a"/><circle cx="245.2" cy="85.1" r="2.6" fill="#4a9a3a"/><circle cx="261.4" cy="90.0" r="3.2" fill="#1c6a14"/><circle cx="286.1" cy="68.3" r="4.2" fill="#2e8c1e"/><circle cx="284.4" cy="57.9" r="3.8" fill="#1f7416"/><circle cx="258.0" cy="78.4" r="4.0" fill="#3aa428"/><circle cx="271.3" cy="71.4" r="4.1" fill="#256f1a"/><circle cx="239.5" cy="103.3" r="4.7" fill="#4a9a3a"/><circle cx="312.2" cy="69.3" r="3.1" fill="#1c6a14"/><circle cx="242.0" cy="82.9" r="5.2" fill="#2e8c1e"/><circle cx="291.7" cy="108.8" r="3.8" fill="#1f7416"/><circle cx="301.1" cy="106.7" r="2.5" fill="#3aa428"/><circle cx="262.9" cy="65.4" r="5.4" fill="#256f1a"/><circle cx="302.8" cy="126.9" r="4.5" fill="#4a9a3a"/><circle cx="307.5" cy="128.4" r="5.6" fill="#1c6a14"/><circle cx="289.9" cy="137.7" r="3.6" fill="#2e8c1e"/><circle cx="238.1" cy="101.1" r="5.1" fill="#1f7416"/><circle cx="297.0" cy="121.0" r="4.0" fill="#3aa428"/><circle cx="271.4" cy="113.4" r="3.3" fill="#256f1a"/><circle cx="280.7" cy="92.0" r="4.1" fill="#4a9a3a"/><circle cx="276.2" cy="99.8" r="3.4" fill="#1c6a14"/><circle cx="259.3" cy="76.7" r="2.4" fill="#2e8c1e"/><circle cx="320.6" cy="94.3" r="5.6" fill="#1f7416"/><circle cx="299.7" cy="110.9" r="2.3" fill="#3aa428"/><circle cx="285.9" cy="76.4" r="2.7" fill="#256f1a"/><circle cx="244.7" cy="116.4" r="5.1" fill="#4a9a3a"/><circle cx="280.8" cy="113.8" r="5.4" fill="#1c6a14"/><circle cx="248.5" cy="82.7" r="2.5" fill="#2e8c1e"/><circle cx="315.9" cy="110.0" r="3.7" fill="#1f7416"/><circle cx="320.0" cy="115.5" r="4.4" fill="#3aa428"/><circle cx="285.8" cy="86.3" r="5.2" fill="#256f1a"/><circle cx="319.0" cy="113.5" r="3.8" fill="#4a9a3a"/><circle cx="264.4" cy="124.0" r="5.5" fill="#1c6a14"/><circle cx="280.0" cy="112.6" r="4.1" fill="#2e8c1e"/><circle cx="282.8" cy="111.5" r="2.8" fill="#1f7416"/><circle cx="300.5" cy="103.6" r="3.3" fill="#3aa428"/><circle cx="268.8" cy="132.0" r="3.2" fill="#256f1a"/><circle cx="263.2" cy="97.7" r="3.4" fill="#4a9a3a"/><circle cx="303.6" cy="100.1" r="2.3" fill="#1c6a14"/><circle cx="278.3" cy="66.9" r="2.9" fill="#2e8c1e"/><circle cx="239.8" cy="104.1" r="2.6" fill="#1f7416"/><circle cx="293.9" cy="72.8" r="3.9" fill="#3aa428"/><circle cx="295.7" cy="75.2" r="4.0" fill="#256f1a"/><circle cx="265.1" cy="59.5" r="3.4" fill="#4a9a3a"/><circle cx="300.0" cy="67.2" r="4.4" fill="#1c6a14"/><circle cx="260.3" cy="111.6" r="2.4" fill="#2e8c1e"/><circle cx="289.8" cy="105.8" r="4.8" fill="#1f7416"/><circle cx="281.1" cy="114.6" r="2.5" fill="#3aa428"/><circle cx="304.0" cy="65.0" r="4.6" fill="#256f1a"/><circle cx="277.4" cy="117.9" r="3.2" fill="#4a9a3a"/><circle cx="264.9" cy="101.9" r="3.8" fill="#1c6a14"/><circle cx="278.2" cy="138.5" r="5.6" fill="#2e8c1e"/><circle cx="261.0" cy="91.7" r="5.6" fill="#1f7416"/><circle cx="272.1" cy="120.9" r="2.2" fill="#3aa428"/><circle cx="259.5" cy="117.2" r="4.0" fill="#256f1a"/><circle cx="291.2" cy="126.0" r="2.2" fill="#4a9a3a"/><circle cx="280.6" cy="110.2" r="3.6" fill="#1c6a14"/><circle cx="288.1" cy="99.4" r="3.3" fill="#2e8c1e"/><circle cx="285.4" cy="129.5" r="4.1" fill="#1f7416"/><circle cx="281.9" cy="63.9" r="4.7" fill="#3aa428"/><circle cx="301.6" cy="79.8" r="3.3" fill="#256f1a"/><circle cx="298.7" cy="96.2" r="4.7" fill="#4a9a3a"/><circle cx="276.0" cy="90.9" r="5.1" fill="#1c6a14"/><circle cx="308.8" cy="77.0" r="4.8" fill="#2e8c1e"/><circle cx="288.0" cy="83.3" r="4.0" fill="#1f7416"/><circle cx="241.6" cy="96.7" r="5.0" fill="#3aa428"/><circle cx="297.3" cy="69.4" r="5.3" fill="#256f1a"/><circle cx="266.8" cy="66.0" r="3.0" fill="#4a9a3a"/><circle cx="297.5" cy="100.7" r="3.5" fill="#1c6a14"/><circle cx="313.5" cy="121.1" r="4.2" fill="#2e8c1e"/><circle cx="257.6" cy="74.0" r="4.6" fill="#1f7416"/><circle cx="279.2" cy="97.9" r="5.0" fill="#3aa428"/><circle cx="281.4" cy="68.1" r="4.1" fill="#256f1a"/><circle cx="275.6" cy="88.7" r="4.8" fill="#4a9a3a"/><circle cx="281.6" cy="109.1" r="3.1" fill="#1c6a14"/><circle cx="279.2" cy="79.0" r="4.8" fill="#2e8c1e"/><circle cx="312.3" cy="93.3" r="3.5" fill="#1f7416"/><circle cx="245.7" cy="102.3" r="4.9" fill="#3aa428"/><circle cx="255.6" cy="75.3" r="2.5" fill="#256f1a"/><circle cx="295.1" cy="114.6" r="4.8" fill="#4a9a3a"/><circle cx="270.6" cy="127.4" r="2.2" fill="#1c6a14"/><circle cx="302.9" cy="105.8" r="4.6" fill="#2e8c1e"/><circle cx="268.9" cy="65.6" r="3.2" fill="#1f7416"/><circle cx="251.9" cy="94.8" r="3.8" fill="#3aa428"/><circle cx="312.3" cy="124.5" r="2.9" fill="#256f1a"/><circle cx="323.9" cy="92.2" r="2.3" fill="#4a9a3a"/><circle cx="243.3" cy="107.4" r="5.6" fill="#1c6a14"/><circle cx="260.1" cy="104.5" r="2.9" fill="#2e8c1e"/><circle cx="300.8" cy="91.3" r="4.2" fill="#1f7416"/><circle cx="301.8" cy="121.2" r="5.5" fill="#3aa428"/><circle cx="308.5" cy="125.7" r="4.0" fill="#256f1a"/><circle cx="309.7" cy="74.9" r="3.0" fill="#4a9a3a"/><circle cx="306.3" cy="80.3" r="2.3" fill="#1c6a14"/><circle cx="312.6" cy="98.4" r="3.8" fill="#2e8c1e"/><circle cx="276.5" cy="112.6" r="3.4" fill="#1f7416"/><circle cx="265.5" cy="132.8" r="2.2" fill="#3aa428"/><circle cx="281.9" cy="59.5" r="2.6" fill="#256f1a"/><circle cx="315.0" cy="82.0" r="5.4" fill="#4a9a3a"/><circle cx="275.1" cy="122.4" r="3.6" fill="#1c6a14"/><circle cx="315.5" cy="97.5" r="3.5" fill="#2e8c1e"/><circle cx="261.0" cy="107.3" r="2.4" fill="#1f7416"/><circle cx="314.0" cy="120.5" r="3.2" fill="#3aa428"/><circle cx="301.9" cy="89.5" r="3.1" fill="#256f1a"/><circle cx="262.6" cy="96.5" r="3.5" fill="#4a9a3a"/><circle cx="321.5" cy="87.1" r="5.1" fill="#1c6a14"/><circle cx="253.2" cy="68.5" r="5.5" fill="#2e8c1e"/><circle cx="246.2" cy="86.9" r="2.4" fill="#1f7416"/><circle cx="278.5" cy="69.9" r="4.8" fill="#3aa428"/><circle cx="267.3" cy="80.1" r="2.4" fill="#256f1a"/><circle cx="295.8" cy="91.1" r="3.9" fill="#4a9a3a"/><circle cx="268.4" cy="116.7" r="4.8" fill="#1c6a14"/><circle cx="303.9" cy="94.6" r="4.5" fill="#2e8c1e"/><circle cx="271.4" cy="127.3" r="3.6" fill="#1f7416"/><circle cx="290.5" cy="112.3" r="2.9" fill="#3aa428"/><circle cx="307.5" cy="81.3" r="3.0" fill="#256f1a"/><circle cx="318.2" cy="74.6" r="3.8" fill="#4a9a3a"/><circle cx="294.1" cy="111.8" r="2.5" fill="#1c6a14"/><circle cx="274.5" cy="108.3" r="3.0" fill="#2e8c1e"/><circle cx="280.0" cy="129.2" r="5.3" fill="#1f7416"/><circle cx="281.7" cy="70.9" r="3.7" fill="#3aa428"/><circle cx="255.1" cy="93.9" r="3.4" fill="#256f1a"/><circle cx="303.2" cy="106.1" r="5.6" fill="#4a9a3a"/><circle cx="303.7" cy="118.8" r="4.4" fill="#1c6a14"/><circle cx="295.0" cy="83.0" r="3.2" fill="#2e8c1e"/><circle cx="282.0" cy="124.1" r="3.8" fill="#1f7416"/><circle cx="320.6" cy="86.8" r="5.3" fill="#3aa428"/><circle cx="289.6" cy="98.8" r="4.7" fill="#256f1a"/><circle cx="305.7" cy="80.2" r="4.3" fill="#4a9a3a"/><circle cx="309.2" cy="97.8" r="5.5" fill="#1c6a14"/><circle cx="300.3" cy="63.4" r="5.6" fill="#2e8c1e"/><circle cx="281.9" cy="111.5" r="2.7" fill="#1f7416"/><circle cx="245.8" cy="92.9" r="5.5" fill="#3aa428"/><circle cx="275.5" cy="64.7" r="4.9" fill="#256f1a"/><circle cx="250.3" cy="105.9" r="2.3" fill="#4a9a3a"/><circle cx="286.0" cy="78.0" r="5.4" fill="#1c6a14"/><circle cx="267.0" cy="79.5" r="2.6" fill="#2e8c1e"/><circle cx="281.3" cy="131.0" r="4.7" fill="#1f7416"/><circle cx="290.6" cy="104.9" r="4.0" fill="#3aa428"/><circle cx="258.0" cy="84.8" r="3.0" fill="#256f1a"/><circle cx="278.1" cy="95.2" r="3.3" fill="#4a9a3a"/><circle cx="240.0" cy="107.7" r="4.5" fill="#1c6a14"/><circle cx="304.3" cy="78.5" r="3.0" fill="#2e8c1e"/><circle cx="282.5" cy="138.7" r="4.7" fill="#1f7416"/><circle cx="279.5" cy="103.5" r="4.0" fill="#3aa428"/><circle cx="268.7" cy="73.7" r="3.1" fill="#256f1a"/><circle cx="260.8" cy="62.9" r="3.0" fill="#4a9a3a"/><circle cx="306.7" cy="102.9" r="3.7" fill="#1c6a14"/><circle cx="273.7" cy="80.8" r="5.0" fill="#2e8c1e"/><circle cx="279.6" cy="68.1" r="2.9" fill="#1f7416"/><circle cx="305.8" cy="93.3" r="5.1" fill="#3aa428"/><circle cx="284.2" cy="117.2" r="4.9" fill="#256f1a"/><circle cx="269.8" cy="136.9" r="3.9" fill="#4a9a3a"/><circle cx="289.7" cy="116.0" r="3.7" fill="#1c6a14"/><circle cx="260.0" cy="62.7" r="2.7" fill="#2e8c1e"/><circle cx="265.8" cy="109.7" r="5.6" fill="#1f7416"/><circle cx="288.0" cy="105.1" r="2.4" fill="#3aa428"/><circle cx="249.1" cy="122.3" r="5.3" fill="#256f1a"/><circle cx="277.0" cy="56.3" r="5.5" fill="#4a9a3a"/><circle cx="272.7" cy="113.5" r="5.5" fill="#1c6a14"/><circle cx="281.6" cy="90.3" r="4.5" fill="#2e8c1e"/><circle cx="262.3" cy="115.4" r="3.4" fill="#1f7416"/><circle cx="282.9" cy="99.7" r="3.2" fill="#3aa428"/><circle cx="256.2" cy="130.5" r="2.6" fill="#256f1a"/><circle cx="301.3" cy="93.5" r="3.5" fill="#4a9a3a"/><circle cx="299.1" cy="63.6" r="3.7" fill="#1c6a14"/><circle cx="310.6" cy="106.5" r="3.5" fill="#2e8c1e"/><circle cx="298.6" cy="88.8" r="3.5" fill="#1f7416"/><circle cx="287.8" cy="93.3" r="3.6" fill="#3aa428"/><circle cx="296.3" cy="63.9" r="2.3" fill="#256f1a"/><circle cx="292.5" cy="100.0" r="5.4" fill="#4a9a3a"/><circle cx="280.1" cy="133.8" r="5.4" fill="#1c6a14"/><circle cx="269.6" cy="116.2" r="5.6" fill="#2e8c1e"/><circle cx="265.0" cy="83.4" r="4.7" fill="#1f7416"/><circle cx="239.3" cy="124.6" r="1.7" fill="#2e8c1e"/><circle cx="233.0" cy="114.0" r="1.2" fill="#3aa428"/><circle cx="247.2" cy="118.8" r="1.5" fill="#2e8c1e"/><circle cx="239.7" cy="126.9" r="1.9" fill="#3aa428"/><circle cx="242.1" cy="113.0" r="2.2" fill="#2e8c1e"/><circle cx="243.1" cy="123.8" r="2.5" fill="#3aa428"/><circle cx="231.0" cy="117.1" r="2.2" fill="#2e8c1e"/><circle cx="246.2" cy="121.2" r="2.1" fill="#3aa428"/><circle cx="238.3" cy="119.6" r="2.5" fill="#2e8c1e"/><circle cx="231.1" cy="119.4" r="2.6" fill="#3aa428"/><circle cx="172.1" cy="221.4" r="2.8" fill="#0a0a0a"/><circle cx="172.3" cy="220.5" r="2.3" fill="#151515"/><circle cx="186.8" cy="227.5" r="2.4" fill="#0a0a0a"/><circle cx="183.8" cy="214.2" r="1.9" fill="#151515"/><circle cx="193.7" cy="225.1" r="2.5" fill="#0a0a0a"/><circle cx="196.7" cy="222.0" r="2.9" fill="#151515"/><circle cx="176.0" cy="209.3" r="1.7" fill="#0a0a0a"/><circle cx="193.2" cy="219.3" r="1.6" fill="#151515"/><circle cx="185.2" cy="224.8" r="1.5" fill="#0a0a0a"/><circle cx="173.1" cy="220.4" r="2.7" fill="#151515"/><circle cx="170.9" cy="217.0" r="2.2" fill="#0a0a0a"/><circle cx="177.4" cy="210.3" r="1.9" fill="#151515"/><circle cx="197.3" cy="218.2" r="2.7" fill="#0a0a0a"/><circle cx="180.4" cy="210.8" r="1.8" fill="#151515"/><circle cx="181.6" cy="222.0" r="2.6" fill="#0a0a0a"/><circle cx="171.6" cy="225.9" r="2.0" fill="#151515"/><circle cx="195.7" cy="215.0" r="1.5" fill="#0a0a0a"/><circle cx="186.1" cy="231.3" r="2.2" fill="#151515"/><circle cx="191.8" cy="217.3" r="1.6" fill="#0a0a0a"/><circle cx="173.7" cy="209.4" r="1.9" fill="#151515"/><circle cx="189.8" cy="222.6" r="2.9" fill="#0a0a0a"/><circle cx="182.8" cy="213.6" r="1.8" fill="#151515"/><circle cx="185.5" cy="220.4" r="2.6" fill="#0a0a0a"/><circle cx="187.4" cy="227.8" r="2.1" fill="#151515"/><circle cx="187.2" cy="229.5" r="1.7" fill="#0a0a0a"/><circle cx="179.5" cy="214.6" r="2.1" fill="#151515"/><circle cx="184.3" cy="225.4" r="2.9" fill="#0a0a0a"/><circle cx="185.3" cy="211.1" r="2.8" fill="#151515"/><circle cx="184.8" cy="226.9" r="2.7" fill="#0a0a0a"/><circle cx="179.6" cy="214.9" r="2.9" fill="#151515"/><circle cx="184.3" cy="225.3" r="2.6" fill="#0a0a0a"/><circle cx="178.8" cy="225.1" r="1.6" fill="#151515"/><circle cx="192.1" cy="224.1" r="1.8" fill="#0a0a0a"/><circle cx="175.4" cy="213.3" r="2.1" fill="#151515"/><circle cx="192.5" cy="215.9" r="2.3" fill="#0a0a0a"/><circle cx="186.8" cy="213.9" r="1.7" fill="#151515"/><circle cx="193.7" cy="211.5" r="1.8" fill="#0a0a0a"/><circle cx="187.3" cy="229.5" r="2.9" fill="#151515"/><circle cx="187.3" cy="231.2" r="2.8" fill="#0a0a0a"/><circle cx="175.0" cy="212.9" r="1.6" fill="#151515"/><circle cx="196.6" cy="221.7" r="1.8" fill="#0a0a0a"/><circle cx="180.5" cy="211.6" r="2.7" fill="#151515"/><circle cx="176.0" cy="214.0" r="1.7" fill="#0a0a0a"/><circle cx="181.9" cy="214.8" r="1.8" fill="#151515"/><circle cx="169.9" cy="213.7" r="2.4" fill="#0a0a0a"/><circle cx="179.9" cy="231.5" r="1.8" fill="#151515"/><circle cx="190.2" cy="219.1" r="2.1" fill="#0a0a0a"/><circle cx="188.3" cy="220.5" r="2.0" fill="#151515"/><circle cx="177.8" cy="216.1" r="2.0" fill="#0a0a0a"/><circle cx="193.9" cy="209.6" r="2.4" fill="#151515"/><circle cx="348.2" cy="210.2" r="2.4" fill="#0a0a0a"/><circle cx="378.8" cy="216.2" r="2.7" fill="#1a1a1a"/><circle cx="375.9" cy="225.0" r="2.7" fill="#000"/><circle cx="349.4" cy="206.9" r="1.3" fill="#0a0a0a"/><circle cx="351.0" cy="224.4" r="2.0" fill="#1a1a1a"/><circle cx="359.3" cy="221.4" r="1.4" fill="#000"/><circle cx="357.7" cy="241.6" r="2.4" fill="#0a0a0a"/><circle cx="371.8" cy="237.8" r="1.3" fill="#1a1a1a"/><circle cx="355.8" cy="217.6" r="1.1" fill="#000"/><circle cx="368.3" cy="215.7" r="1.4" fill="#0a0a0a"/><circle cx="381.4" cy="220.3" r="1.6" fill="#1a1a1a"/><circle cx="376.8" cy="218.9" r="2.2" fill="#000"/><circle cx="367.3" cy="241.4" r="2.3" fill="#0a0a0a"/><circle cx="381.3" cy="218.4" r="1.6" fill="#1a1a1a"/><circle cx="355.9" cy="228.8" r="1.3" fill="#000"/><circle cx="372.3" cy="226.9" r="2.1" fill="#0a0a0a"/><circle cx="379.2" cy="222.8" r="1.7" fill="#1a1a1a"/><circle cx="354.3" cy="239.6" r="1.9" fill="#000"/><circle cx="355.5" cy="235.4" r="2.3" fill="#0a0a0a"/><circle cx="381.3" cy="229.5" r="1.1" fill="#1a1a1a"/><circle cx="361.5" cy="203.7" r="1.1" fill="#000"/><circle cx="364.5" cy="210.5" r="2.1" fill="#0a0a0a"/><circle cx="366.1" cy="222.7" r="1.4" fill="#1a1a1a"/><circle cx="370.6" cy="219.9" r="2.4" fill="#000"/><circle cx="380.3" cy="214.0" r="1.7" fill="#0a0a0a"/><circle cx="352.0" cy="234.1" r="2.4" fill="#1a1a1a"/><circle cx="375.9" cy="233.5" r="2.4" fill="#000"/><circle cx="364.1" cy="219.4" r="2.7" fill="#0a0a0a"/><circle cx="372.0" cy="228.9" r="2.1" fill="#1a1a1a"/><circle cx="372.4" cy="216.6" r="2.7" fill="#000"/><circle cx="350.0" cy="219.3" r="1.6" fill="#0a0a0a"/><circle cx="364.1" cy="227.6" r="1.3" fill="#1a1a1a"/><circle cx="353.5" cy="203.6" r="1.4" fill="#000"/><circle cx="381.8" cy="228.5" r="2.0" fill="#0a0a0a"/><circle cx="352.8" cy="228.0" r="2.1" fill="#1a1a1a"/><circle cx="368.2" cy="210.2" r="1.8" fill="#000"/><circle cx="380.8" cy="229.1" r="1.1" fill="#0a0a0a"/><circle cx="341.8" cy="223.2" r="1.3" fill="#1a1a1a"/><circle cx="359.1" cy="202.7" r="2.2" fill="#000"/><circle cx="363.1" cy="216.0" r="1.8" fill="#0a0a0a"/><circle cx="373.2" cy="237.6" r="1.6" fill="#1a1a1a"/><circle cx="340.9" cy="228.4" r="2.5" fill="#000"/><circle cx="375.8" cy="220.4" r="1.9" fill="#0a0a0a"/><circle cx="359.6" cy="208.5" r="1.6" fill="#1a1a1a"/><circle cx="354.7" cy="226.9" r="1.7" fill="#000"/><circle cx="382.5" cy="221.0" r="2.2" fill="#0a0a0a"/><circle cx="349.0" cy="222.5" r="1.2" fill="#1a1a1a"/><circle cx="358.8" cy="240.3" r="2.6" fill="#000"/><circle cx="349.2" cy="236.3" r="2.4" fill="#0a0a0a"/><circle cx="355.5" cy="206.8" r="2.4" fill="#1a1a1a"/><circle cx="349.7" cy="235.4" r="1.6" fill="#000"/><circle cx="342.7" cy="224.1" r="2.3" fill="#0a0a0a"/><circle cx="355.8" cy="241.5" r="2.2" fill="#1a1a1a"/><circle cx="359.5" cy="221.4" r="2.0" fill="#000"/><circle cx="361.4" cy="239.2" r="1.9" fill="#0a0a0a"/><circle cx="368.5" cy="207.5" r="2.4" fill="#1a1a1a"/><circle cx="351.5" cy="235.8" r="2.3" fill="#000"/><circle cx="367.5" cy="211.8" r="2.5" fill="#0a0a0a"/><circle cx="373.7" cy="210.1" r="2.7" fill="#1a1a1a"/><circle cx="376.4" cy="218.5" r="2.0" fill="#000"/><circle cx="371.4" cy="238.6" r="2.7" fill="#0a0a0a"/><circle cx="343.8" cy="224.9" r="2.3" fill="#1a1a1a"/><circle cx="360.4" cy="214.1" r="2.4" fill="#000"/><circle cx="346.2" cy="214.4" r="1.8" fill="#0a0a0a"/><circle cx="348.0" cy="209.9" r="2.2" fill="#1a1a1a"/><circle cx="360.8" cy="219.1" r="1.3" fill="#000"/><circle cx="345.3" cy="228.4" r="1.4" fill="#0a0a0a"/><circle cx="354.8" cy="207.5" r="1.1" fill="#1a1a1a"/><circle cx="351.4" cy="224.2" r="1.2" fill="#000"/><circle cx="369.6" cy="231.0" r="1.4" fill="#0a0a0a"/><circle cx="362.9" cy="226.1" r="1.9" fill="#1a1a1a"/><circle cx="349.2" cy="233.3" r="2.1" fill="#000"/><circle cx="363.0" cy="241.8" r="1.1" fill="#0a0a0a"/><circle cx="352.1" cy="228.5" r="1.8" fill="#1a1a1a"/><circle cx="376.2" cy="234.8" r="1.7" fill="#000"/><circle cx="377.9" cy="226.0" r="1.2" fill="#0a0a0a"/><circle cx="349.5" cy="219.1" r="2.1" fill="#1a1a1a"/><circle cx="380.2" cy="217.7" r="1.8" fill="#000"/><circle cx="368.1" cy="207.4" r="1.7" fill="#0a0a0a"/><circle cx="371.9" cy="234.7" r="2.0" fill="#1a1a1a"/><circle cx="381.8" cy="217.1" r="2.1" fill="#000"/><circle cx="349.4" cy="238.0" r="1.1" fill="#0a0a0a"/><circle cx="374.1" cy="232.1" r="2.1" fill="#1a1a1a"/><circle cx="372.3" cy="235.0" r="2.6" fill="#000"/><circle cx="351.5" cy="231.9" r="1.5" fill="#0a0a0a"/><circle cx="356.0" cy="241.9" r="1.7" fill="#1a1a1a"/><circle cx="381.4" cy="217.7" r="2.1" fill="#000"/><circle cx="360.2" cy="242.6" r="1.9" fill="#0a0a0a"/><circle cx="351.0" cy="228.3" r="2.8" fill="#1a1a1a"/><circle cx="350.0" cy="223.0" r="1.9" fill="#000"/><circle cx="373.7" cy="233.6" r="1.8" fill="#0a0a0a"/><circle cx="356.4" cy="239.8" r="2.5" fill="#1a1a1a"/><circle cx="377.1" cy="223.7" r="1.5" fill="#000"/><circle cx="378.9" cy="215.3" r="1.5" fill="#0a0a0a"/><circle cx="360.5" cy="230.4" r="2.8" fill="#1a1a1a"/><circle cx="357.0" cy="237.8" r="1.9" fill="#000"/><circle cx="351.2" cy="209.9" r="2.4" fill="#0a0a0a"/><circle cx="375.3" cy="234.5" r="1.6" fill="#1a1a1a"/><circle cx="349.3" cy="220.0" r="1.6" fill="#000"/><circle cx="347.1" cy="219.9" r="1.7" fill="#0a0a0a"/><circle cx="361.0" cy="206.8" r="1.1" fill="#1a1a1a"/><circle cx="361.3" cy="236.2" r="2.6" fill="#000"/><circle cx="373.6" cy="212.7" r="1.1" fill="#0a0a0a"/><circle cx="364.0" cy="209.3" r="2.1" fill="#1a1a1a"/><circle cx="357.0" cy="206.8" r="1.9" fill="#000"/><circle cx="372.8" cy="215.8" r="1.7" fill="#0a0a0a"/><circle cx="367.2" cy="215.2" r="1.6" fill="#1a1a1a"/><circle cx="364.1" cy="217.9" r="2.5" fill="#000"/><circle cx="356.7" cy="209.8" r="1.6" fill="#0a0a0a"/><circle cx="365.4" cy="203.3" r="1.3" fill="#1a1a1a"/><circle cx="345.7" cy="224.5" r="1.9" fill="#000"/><circle cx="357.4" cy="229.4" r="2.1" fill="#0a0a0a"/><circle cx="363.6" cy="217.5" r="1.5" fill="#1a1a1a"/><circle cx="369.6" cy="206.0" r="2.2" fill="#000"/><circle cx="379.5" cy="225.2" r="2.8" fill="#0a0a0a"/><circle cx="379.5" cy="222.3" r="1.2" fill="#1a1a1a"/><circle cx="367.0" cy="214.5" r="2.2" fill="#000"/><circle cx="378.8" cy="217.4" r="1.3" fill="#0a0a0a"/><circle cx="356.1" cy="241.3" r="1.3" fill="#1a1a1a"/><circle cx="350.9" cy="214.0" r="1.4" fill="#000"/></g><g fill="none" stroke="#1b7f80" stroke-width="0.35" opacity="0.85"><circle cx="211.6" cy="221.4" r="3.9"/><circle cx="211.6" cy="221.4" r="7.8"/><circle cx="211.6" cy="221.4" r="11.7"/><circle cx="211.6" cy="221.4" r="15.6"/><circle cx="211.6" cy="221.4" r="19.5"/><circle cx="211.6" cy="221.4" r="23.4"/><circle cx="211.6" cy="221.4" r="27.3"/><circle cx="211.6" cy="221.4" r="31.2"/><circle cx="211.6" cy="221.4" r="35.1"/><circle cx="211.6" cy="221.4" r="39.0"/><circle cx="211.6" cy="221.4" r="42.9"/><circle cx="211.6" cy="221.4" r="46.8"/><circle cx="211.6" cy="221.4" r="50.7"/><circle cx="211.6" cy="221.4" r="54.6"/><path d="M211.6 221.4L266.2 221.4"/><path d="M211.6 221.4L262.1 242.3"/><path d="M211.6 221.4L250.2 260.0"/><path d="M211.6 221.4L232.5 271.9"/><path d="M211.6 221.4L211.6 276.0"/><path d="M211.6 221.4L190.7 271.9"/><path d="M211.6 221.4L173.0 260.0"/><path d="M211.6 221.4L161.2 242.3"/><path d="M211.6 221.4L157.0 221.4"/><path d="M211.6 221.4L161.2 200.5"/><path d="M211.6 221.4L173.0 182.8"/><path d="M211.6 221.4L190.7 171.0"/><path d="M211.6 221.4L211.6 166.8"/><path d="M211.6 221.4L232.5 171.0"/><path d="M211.6 221.4L250.2 182.8"/><path d="M211.6 221.4L262.1 200.5"/></g><polyline points="211.6,165.7 211.6,274.2" fill="none" stroke="#1b6f80" stroke-width="0.9"/><polygon points="162.3,241.6 198.2,216.2 209.7,214.3 213.6,212.4 219.9,219.5 212.6,223.9 205.3,236.2" fill="#ff1f1f"/><text x="186.7" y="162.4" font-size="4.6" fill="#1b6f80" text-anchor="middle" font-weight="bold">NNW</text><text x="211.6" y="157.1" font-size="4.6" fill="#1b6f80" text-anchor="middle" font-weight="bold">N</text><text x="235.6" y="162.4" font-size="4.6" fill="#1b6f80" text-anchor="middle" font-weight="bold">NNE</text><text x="164.6" y="176.3" font-size="4.6" fill="#1b6f80" text-anchor="middle" font-weight="bold">NW</text><text x="150.2" y="198.0" font-size="4.6" fill="#1b6f80" text-anchor="middle" font-weight="bold">WNW</text><text x="145.4" y="222.9" font-size="4.6" fill="#1b6f80" text-anchor="middle" font-weight="bold">W</text><text x="151.1" y="247.9" font-size="4.6" fill="#1b6f80" text-anchor="middle" font-weight="bold">WSW</text><text x="164.6" y="270.0" font-size="4.6" fill="#1b6f80" text-anchor="middle" font-weight="bold">SW</text><text x="257.7" y="270.0" font-size="4.6" fill="#1b6f80" text-anchor="middle" font-weight="bold">SE</text><text x="272.1" y="247.9" font-size="4.6" fill="#1b6f80" text-anchor="middle" font-weight="bold">ESE</text><text x="277.5" y="222.9" font-size="4.6" fill="#1b6f80" text-anchor="middle" font-weight="bold">E</text><text x="272.1" y="198.0" font-size="4.6" fill="#1b6f80" text-anchor="middle" font-weight="bold">ENE</text></svg></g>
<g transform="translate(768.6,1936.0)"><svg x="0" y="0" width="400.0" height="245.0" viewBox="0 0 400.0 245.0" overflow="hidden"><rect x="0.0" y="0.0" width="400.0" height="245.0" fill="#fff"/><rect x="0.0" y="0.0" width="400.0" height="5.3" fill="#e9e7e3"/><rect x="1.0" y="1.2" width="2.2" height="2.8" fill="#e02020"/><rect x="162.0" y="1.6" width="66.0" height="2.2" fill="#555" opacity="0.55"/><rect x="387.0" y="1.8" width="9.0" height="1.6" fill="#888" opacity="0.5"/><rect x="0.0" y="5.3" width="400.0" height="17.7" fill="#d6d2ca"/><rect x="1.0" y="6.6" width="58.0" height="1.5" fill="#555" opacity="0.5"/><rect x="3.5" y="10.6" width="3.6" height="3.8" fill="#4060c0" opacity="0.85"/><rect x="9.8" y="10.6" width="3.6" height="3.8" fill="#d04040" opacity="0.85"/><rect x="16.1" y="10.6" width="3.6" height="3.8" fill="#806040" opacity="0.85"/><rect x="22.4" y="10.6" width="3.6" height="3.8" fill="#806040" opacity="0.85"/><rect x="28.7" y="10.6" width="3.6" height="3.8" fill="#40a040" opacity="0.85"/><rect x="38.8" y="10.6" width="3.6" height="3.8" fill="#c8a020" opacity="0.85"/><rect x="45.1" y="10.6" width="3.6" height="3.8" fill="#3090a0" opacity="0.85"/><rect x="51.4" y="10.6" width="3.6" height="3.8" fill="#c8a020" opacity="0.85"/><rect x="57.7" y="10.6" width="3.6" height="3.8" fill="#e08020" opacity="0.85"/><rect x="64.0" y="10.6" width="3.6" height="3.8" fill="#40a040" opacity="0.85"/><rect x="70.3" y="10.6" width="3.6" height="3.8" fill="#d04040" opacity="0.85"/><rect x="76.6" y="10.6" width="3.6" height="3.8" fill="#c8a020" opacity="0.85"/><rect x="86.7" y="10.6" width="3.6" height="3.8" fill="#c8a020" opacity="0.85"/><rect x="93.0" y="10.6" width="3.6" height="3.8" fill="#3090a0" opacity="0.85"/><rect x="99.3" y="10.6" width="3.6" height="3.8" fill="#3090a0" opacity="0.85"/><rect x="105.6" y="10.6" width="3.6" height="3.8" fill="#40a040" opacity="0.85"/><rect x="111.9" y="10.6" width="3.6" height="3.8" fill="#806040" opacity="0.85"/><rect x="118.2" y="10.6" width="3.6" height="3.8" fill="#a040a0" opacity="0.85"/><rect x="124.5" y="10.6" width="3.6" height="3.8" fill="#40a040" opacity="0.85"/><rect x="130.8" y="10.6" width="3.6" height="3.8" fill="#e08020" opacity="0.85"/><rect x="137.1" y="10.6" width="3.6" height="3.8" fill="#3090a0" opacity="0.85"/><rect x="143.4" y="10.6" width="3.6" height="3.8" fill="#d04040" opacity="0.85"/><rect x="149.7" y="10.6" width="3.6" height="3.8" fill="#e08020" opacity="0.85"/><rect x="159.7" y="10.6" width="3.6" height="3.8" fill="#a040a0" opacity="0.85"/><rect x="166.0" y="10.6" width="3.6" height="3.8" fill="#3090a0" opacity="0.85"/><rect x="172.3" y="10.6" width="3.6" height="3.8" fill="#40a040" opacity="0.85"/><rect x="178.6" y="10.6" width="3.6" height="3.8" fill="#806040" opacity="0.85"/><rect x="184.9" y="10.6" width="3.6" height="3.8" fill="#3090a0" opacity="0.85"/><rect x="191.2" y="10.6" width="3.6" height="3.8" fill="#c8a020" opacity="0.85"/><rect x="197.5" y="10.6" width="3.6" height="3.8" fill="#3090a0" opacity="0.85"/><rect x="203.8" y="10.6" width="3.6" height="3.8" fill="#4060c0" opacity="0.85"/><rect x="210.1" y="10.6" width="3.6" height="3.8" fill="#a040a0" opacity="0.85"/><rect x="3.5" y="17.6" width="3.6" height="3.8" fill="#c8a020" opacity="0.85"/><rect x="13.6" y="17.6" width="3.6" height="3.8" fill="#a040a0" opacity="0.85"/><rect x="19.9" y="17.6" width="3.6" height="3.8" fill="#e08020" opacity="0.85"/><rect x="26.2" y="17.6" width="3.6" height="3.8" fill="#40a040" opacity="0.85"/><rect x="32.5" y="17.6" width="3.6" height="3.8" fill="#4060c0" opacity="0.85"/><rect x="38.8" y="17.6" width="3.6" height="3.8" fill="#3090a0" opacity="0.85"/><rect x="45.1" y="17.6" width="3.6" height="3.8" fill="#a040a0" opacity="0.85"/><rect x="51.4" y="17.6" width="3.6" height="3.8" fill="#806040" opacity="0.85"/><rect x="0.0" y="22.9" width="400.0" height="4.5" fill="#d6d2ca"/><rect x="0.0" y="26.9" width="400.0" height="0.5" fill="#777"/><rect x="1.2" y="24.4" width="27.0" height="1.5" fill="#444" opacity="0.6"/><rect x="29.7" y="23.2" width="0.4" height="3.6" fill="#666"/><rect x="31.2" y="24.4" width="43.0" height="1.5" fill="#444" opacity="0.6"/><rect x="75.7" y="23.2" width="0.4" height="3.6" fill="#666"/><rect x="77.2" y="24.4" width="21.0" height="1.5" fill="#444" opacity="0.6"/><rect x="99.7" y="23.2" width="0.4" height="3.6" fill="#666"/><rect x="101.2" y="24.4" width="21.0" height="1.5" fill="#444" opacity="0.6"/><rect x="123.7" y="23.2" width="0.4" height="3.6" fill="#666"/><rect x="125.2" y="24.4" width="19.0" height="1.5" fill="#444" opacity="0.6"/><rect x="145.7" y="23.2" width="0.4" height="3.6" fill="#666"/><rect x="147.2" y="24.4" width="19.0" height="1.5" fill="#444" opacity="0.6"/><rect x="167.7" y="23.2" width="0.4" height="3.6" fill="#666"/><rect x="169.2" y="24.4" width="11.0" height="1.5" fill="#444" opacity="0.6"/><rect x="181.7" y="23.2" width="0.4" height="3.6" fill="#666"/><rect x="183.2" y="24.4" width="21.0" height="1.5" fill="#444" opacity="0.6"/><rect x="205.7" y="23.2" width="0.4" height="3.6" fill="#666"/><rect x="207.2" y="24.4" width="43.0" height="1.5" fill="#444" opacity="0.6"/><rect x="251.7" y="23.2" width="0.4" height="3.6" fill="#666"/><rect x="253.2" y="24.4" width="27.0" height="1.5" fill="#444" opacity="0.6"/><rect x="281.7" y="23.2" width="0.4" height="3.6" fill="#666"/><rect x="283.2" y="24.4" width="43.0" height="1.5" fill="#444" opacity="0.6"/><rect x="327.7" y="23.2" width="0.4" height="3.6" fill="#666"/><rect x="329.2" y="24.4" width="11.0" height="1.5" fill="#444" opacity="0.6"/><rect x="341.7" y="23.2" width="0.4" height="3.6" fill="#666"/><rect x="343.2" y="24.4" width="21.0" height="1.5" fill="#444" opacity="0.6"/><rect x="365.7" y="23.2" width="0.4" height="3.6" fill="#666"/><rect x="367.2" y="24.4" width="43.0" height="1.5" fill="#444" opacity="0.6"/><rect x="411.7" y="23.2" width="0.4" height="3.6" fill="#666"/><rect x="0.0" y="22.9" width="14.5" height="4.3" fill="#0a246a"/><rect x="0.0" y="239.8" width="400.0" height="5.2" fill="#d6d2ca"/><rect x="1.5" y="240.8" width="6.0" height="3.0" fill="#c07020" opacity="0.7"/><rect x="26.0" y="241.6" width="80.0" height="1.5" fill="#444" opacity="0.6"/><rect x="330.0" y="239.8" width="0.8" height="5.2" fill="#f4f2ee"/><rect x="342.0" y="241.6" width="17.0" height="1.5" fill="#444" opacity="0.6"/><rect x="284.1" y="28.0" width="48.6" height="46.0" fill="#d6d2ca" stroke="#888" stroke-width="0.4"/><rect x="284.1" y="28.0" width="48.6" height="2.0" fill="#9aa0a8"/><rect x="291.0" y="32.0" width="31.0" height="3.6" fill="#fff" stroke="#666" stroke-width="0.3"/><rect x="292.0" y="37.5" width="24.0" height="3.2" fill="#3a5a9a"/><rect x="294.0" y="38.6" width="18.0" height="1.2" fill="#e0b040"/><rect x="292.0" y="43.5" width="24.0" height="2.6" fill="#e8a040"/><rect x="296.0" y="44.2" width="14.0" height="1.2" fill="#d03020"/><rect x="318.0" y="37.5" width="11.0" height="3.0" fill="#fff" stroke="#666" stroke-width="0.3"/><rect x="318.0" y="43.5" width="11.0" height="3.0" fill="#fff" stroke="#666" stroke-width="0.3"/><rect x="292.0" y="51.6" width="24.0" height="1.0" fill="#777"/><rect x="292.0" y="57.4" width="24.0" height="1.0" fill="#777"/><rect x="286.0" y="64.0" width="24.0" height="1.4" fill="#555" opacity="0.6"/><rect x="286.0" y="70.0" width="44.0" height="1.4" fill="#555" opacity="0.5"/><rect x="284.1" y="76.5" width="49.2" height="79.0" fill="#d6d2ca" stroke="#888" stroke-width="0.4"/><rect x="284.1" y="76.5" width="49.2" height="2.0" fill="#9aa0a8"/><rect x="286.0" y="81.5" width="14.0" height="2.2" fill="#333" opacity="0.7"/><rect x="307.0" y="81.0" width="22.0" height="3.0" fill="#444" opacity="0.6"/><rect x="285.0" y="87.6" width="43.5" height="14.4" fill="#fff" stroke="#1a2a8a" stroke-width="0.6"/><rect x="285.6" y="88.2" width="12.6" height="13.2" fill="#9a9a9a"/><rect x="300.0" y="89.5" width="12.0" height="1.2" fill="#444" opacity="0.7"/><rect x="300.0" y="92.5" width="10.0" height="1.2" fill="#444" opacity="0.7"/><rect x="300.0" y="95.5" width="14.0" height="1.2" fill="#c08030" opacity="0.7"/><rect x="285.0" y="103.5" width="43.5" height="8.0" fill="#fff"/><rect x="285.6" y="104.0" width="12.6" height="2.6" fill="#888"/><rect x="285.6" y="106.6" width="12.6" height="4.6" fill="#050505"/><rect x="300.0" y="104.5" width="20.0" height="1.2" fill="#444" opacity="0.7"/><rect x="300.0" y="107.5" width="11.0" height="1.2" fill="#444" opacity="0.7"/><rect x="300.0" y="114.5" width="28.0" height="1.6" fill="#444" opacity="0.55"/><rect x="300.0" y="118.0" width="31.0" height="3.0" fill="#fff" stroke="#666" stroke-width="0.3"/><rect x="300.0" y="123.0" width="31.0" height="3.0" fill="#fff" stroke="#666" stroke-width="0.3"/><rect x="299.0" y="128.5" width="1.8" height="1.8" fill="#fff" stroke="#444" stroke-width="0.3"/><rect x="303.0" y="128.8" width="12.0" height="1.3" fill="#444" opacity="0.65"/><rect x="299.0" y="132.2" width="1.8" height="1.8" fill="#fff" stroke="#444" stroke-width="0.3"/><rect x="303.0" y="132.6" width="17.0" height="1.3" fill="#444" opacity="0.65"/><rect x="299.0" y="136.0" width="1.8" height="1.8" fill="#222" stroke="#444" stroke-width="0.3"/><rect x="303.0" y="136.3" width="13.0" height="1.3" fill="#444" opacity="0.65"/><rect x="299.0" y="139.8" width="1.8" height="1.8" fill="#222" stroke="#444" stroke-width="0.3"/><rect x="303.0" y="140.1" width="18.0" height="1.3" fill="#444" opacity="0.65"/><rect x="299.0" y="143.5" width="1.8" height="1.8" fill="#fff" stroke="#444" stroke-width="0.3"/><rect x="303.0" y="143.8" width="14.0" height="1.3" fill="#444" opacity="0.65"/><rect x="299.0" y="147.2" width="1.8" height="1.8" fill="#fff" stroke="#444" stroke-width="0.3"/><rect x="303.0" y="147.6" width="19.0" height="1.3" fill="#444" opacity="0.65"/><rect x="299.0" y="151.0" width="1.8" height="1.8" fill="#222" stroke="#444" stroke-width="0.3"/><rect x="303.0" y="151.3" width="15.0" height="1.3" fill="#444" opacity="0.65"/><rect x="333.9" y="28.0" width="64.9" height="195.5" fill="#fff" stroke="#555" stroke-width="0.5"/><rect x="333.9" y="28.0" width="64.9" height="13.2" fill="#d6d2ca"/><rect x="333.9" y="28.0" width="64.9" height="1.8" fill="#9aa0a8"/><rect x="335.4" y="42.1" width="10.0" height="1.3" fill="#444" opacity="0.75"/><rect x="383.8" y="41.8" width="1.8" height="1.8" fill="#333" opacity="0.7"/><rect x="392.6" y="41.4" width="3.0" height="3.2" fill="#0a6aa0"/><rect x="335.4" y="45.7" width="17.0" height="1.3" fill="#444" opacity="0.75"/><rect x="383.8" y="45.4" width="1.8" height="1.8" fill="#333" opacity="0.7"/><rect x="392.6" y="45.0" width="3.0" height="3.2" fill="#a01010"/><rect x="335.4" y="49.2" width="24.0" height="1.3" fill="#444" opacity="0.75"/><rect x="383.8" y="48.9" width="1.8" height="1.8" fill="#333" opacity="0.7"/><rect x="392.6" y="48.5" width="3.0" height="3.2" fill="#108080"/><rect x="335.4" y="52.8" width="12.0" height="1.3" fill="#444" opacity="0.75"/><rect x="383.8" y="52.5" width="1.8" height="1.8" fill="#333" opacity="0.7"/><rect x="392.6" y="52.1" width="3.0" height="3.2" fill="#1060a0"/><rect x="335.4" y="56.3" width="19.0" height="1.3" fill="#444" opacity="0.75"/><rect x="383.8" y="56.0" width="1.8" height="1.8" fill="#333" opacity="0.7"/><rect x="392.6" y="55.6" width="3.0" height="3.2" fill="#c04010"/><rect x="335.4" y="59.9" width="26.0" height="1.3" fill="#444" opacity="0.75"/><rect x="383.8" y="59.6" width="1.8" height="1.8" fill="#333" opacity="0.7"/><rect x="392.6" y="59.2" width="3.0" height="3.2" fill="#a05010"/><rect x="335.4" y="63.5" width="14.0" height="1.3" fill="#444" opacity="0.75"/><rect x="383.8" y="63.2" width="1.8" height="1.8" fill="#333" opacity="0.7"/><rect x="392.6" y="62.8" width="3.0" height="3.2" fill="#704010"/><rect x="335.4" y="67.0" width="21.0" height="1.3" fill="#444" opacity="0.75"/><rect x="383.8" y="66.7" width="1.8" height="1.8" fill="#333" opacity="0.7"/><rect x="392.6" y="66.3" width="3.0" height="3.2" fill="#7070a0"/><rect x="335.4" y="70.6" width="28.0" height="1.3" fill="#444" opacity="0.75"/><rect x="383.8" y="70.3" width="1.8" height="1.8" fill="#333" opacity="0.7"/><rect x="392.6" y="69.9" width="3.0" height="3.2" fill="#c05010"/><rect x="335.4" y="74.1" width="16.0" height="1.3" fill="#444" opacity="0.75"/><rect x="383.8" y="73.8" width="1.8" height="1.8" fill="#333" opacity="0.7"/><rect x="392.6" y="73.4" width="3.0" height="3.2" fill="#f0a060"/><rect x="335.4" y="77.7" width="23.0" height="1.3" fill="#444" opacity="0.75"/><rect x="383.8" y="77.4" width="1.8" height="1.8" fill="#333" opacity="0.7"/><rect x="392.6" y="77.0" width="3.0" height="3.2" fill="#00e0e0"/><rect x="335.4" y="81.3" width="11.0" height="1.3" fill="#444" opacity="0.75"/><rect x="383.8" y="81.0" width="1.8" height="1.8" fill="#333" opacity="0.7"/><rect x="392.6" y="80.6" width="3.0" height="3.2" fill="#20a080"/><rect x="335.4" y="84.8" width="18.0" height="1.3" fill="#444" opacity="0.75"/><rect x="383.8" y="84.5" width="1.8" height="1.8" fill="#333" opacity="0.7"/><rect x="392.6" y="84.1" width="3.0" height="3.2" fill="#7070a0"/><rect x="335.4" y="88.4" width="25.0" height="1.3" fill="#444" opacity="0.75"/><rect x="383.8" y="88.1" width="1.8" height="1.8" fill="#333" opacity="0.7"/><rect x="392.6" y="87.7" width="3.0" height="3.2" fill="#704010"/><rect x="335.4" y="91.9" width="13.0" height="1.3" fill="#444" opacity="0.75"/><rect x="383.8" y="91.6" width="1.8" height="1.8" fill="#333" opacity="0.7"/><rect x="392.6" y="91.2" width="3.0" height="3.2" fill="#20a080"/><rect x="335.4" y="95.5" width="20.0" height="1.3" fill="#444" opacity="0.75"/><rect x="383.8" y="95.2" width="1.8" height="1.8" fill="#333" opacity="0.7"/><rect x="392.6" y="94.8" width="3.0" height="3.2" fill="#9010e0"/><rect x="335.4" y="99.1" width="27.0" height="1.3" fill="#444" opacity="0.75"/><rect x="383.8" y="98.8" width="1.8" height="1.8" fill="#333" opacity="0.7"/><rect x="392.6" y="98.4" width="3.0" height="3.2" fill="#7070a0"/><polyline points="84.5,28.0 148.0,85.4" fill="none" stroke="#4040d0" stroke-width="0.5" stroke-dasharray="4,6"/><polygon points="139.4,94.0 247.3,66.7 261.0,137.6 128.6,172.4 117.3,123.6 144.3,113.4" fill="#4cb84c"/><polygon points="73.9,110.5 107.5,102.1 117.3,123.6 128.6,172.4 84.5,185.7 67.8,147.8" fill="#c9c9c9"/><polygon points="107.5,102.8 139.8,94.2 144.3,113.4 113.2,123.2" fill="#464144"/><polygon points="41.1,112.0 56.3,113.4 84.5,185.7 64.1,192.8" fill="#3a2b20"/><polygon points="41.1,112.0 44.4,111.4 67.1,191.8 64.1,192.8" fill="#6a4a2c"/><polygon points="55.9,113.4 73.3,108.9 84.5,120.2 71.2,123.2 82.5,143.7 65.1,147.8" fill="#4a4346"/><polygon points="71.2,123.2 79.4,120.8 84.1,141.7 76.4,145.8" fill="#3a2b20"/><polygon points="64.1,192.8 84.5,185.7 92.7,213.3 73.3,227.6" fill="#6c6c6c"/><polyline points="64.1,192.8 73.3,227.6" fill="none" stroke="#222" stroke-width="0.5" stroke-dasharray="1,0.8"/><circle cx="141.9" cy="118.5" r="9.4" fill="#2b8a2b" stroke="#1a5a1a" stroke-width="0.5"/><polyline points="168.5,92.5 183.8,94.6 174.6,86.4 176.7,99.7 170.5,98.7 181.8,90.5" fill="none" stroke="#1f5a1f" stroke-width="0.6"/><ellipse cx="224.8" cy="71.0" rx="15.4" ry="8.2" fill="#8dbb8a"/><circle cx="227.8" cy="88.4" r="22.9" fill="#2c8a2c" stroke="#184a18" stroke-width="0.5"/><ellipse cx="229.9" cy="74.1" rx="25.6" ry="6.1" fill="none" stroke="#1b6f90" stroke-width="0.9"/><ellipse cx="229.9" cy="80.2" rx="20.5" ry="4.9" fill="none" stroke="#1b6f90" stroke-width="0.9"/><ellipse cx="229.9" cy="86.4" rx="16.4" ry="4.1" fill="none" stroke="#1b6f90" stroke-width="0.9"/><ellipse cx="229.9" cy="92.5" rx="12.7" ry="3.3" fill="none" stroke="#1b6f90" stroke-width="0.9"/><ellipse cx="229.9" cy="98.7" rx="9.2" ry="2.5" fill="none" stroke="#1b6f90" stroke-width="0.9"/><ellipse cx="237.1" cy="112.0" rx="25.0" ry="6.1" fill="none" stroke="#1b6f90" stroke-width="0.9"/><ellipse cx="237.1" cy="118.1" rx="19.4" ry="4.9" fill="none" stroke="#1b6f90" stroke-width="0.9"/><ellipse cx="237.1" cy="124.3" rx="14.3" ry="3.7" fill="none" stroke="#1b6f90" stroke-width="0.9"/><ellipse cx="237.1" cy="129.8" rx="9.8" ry="2.7" fill="none" stroke="#1b6f90" stroke-width="0.9"/><ellipse cx="237.1" cy="135.1" rx="5.7" ry="1.6" fill="none" stroke="#1b6f90" stroke-width="0.9"/><polygon points="234.0,136.5 246.3,136.5 239.7,142.7" fill="#1b6f90"/><polyline points="56.3,114.6 247.3,66.5" fill="none" stroke="#1c1c1c" stroke-width="2.0" stroke-dasharray="1.4,0.5"/><polyline points="243.2,65.9 273.3,57.7" fill="none" stroke="#3a3f4a" stroke-width="1.6" stroke-dasharray="1.2,0.6"/><polyline points="247.3,66.3 261.0,137.6" fill="none" stroke="#333" stroke-width="1.6" stroke-dasharray="1.4,0.5"/><polyline points="84.5,185.7 261.0,137.6" fill="none" stroke="#1c1c1c" stroke-width="1.8" stroke-dasharray="1.4,0.5"/><polyline points="261.0,137.6 283.5,131.8" fill="none" stroke="#222" stroke-width="1.2" stroke-dasharray="1.2,0.6"/><polyline points="261.0,137.6 270.4,167.2" fill="none" stroke="#3a3f4a" stroke-width="1.8" stroke-dasharray="1.2,0.5"/><polyline points="213.5,172.4 252.4,172.4" fill="none" stroke="#555" stroke-width="0.4"/></svg></g>
<g transform="translate(907.5,2247.0)"><svg x="0" y="0" width="400.0" height="245.0" viewBox="0 0 400.0 245.0" overflow="hidden"><rect x="0.0" y="0.0" width="400.0" height="245.0" fill="#fff"/><rect x="0.0" y="0.0" width="400.0" height="5.3" fill="#e9e7e3"/><rect x="1.0" y="1.2" width="2.2" height="2.8" fill="#e02020"/><rect x="162.0" y="1.6" width="66.0" height="2.2" fill="#555" opacity="0.55"/><rect x="387.0" y="1.8" width="9.0" height="1.6" fill="#888" opacity="0.5"/><rect x="0.0" y="5.3" width="400.0" height="17.7" fill="#d6d2ca"/><rect x="1.0" y="6.6" width="58.0" height="1.5" fill="#555" opacity="0.5"/><rect x="3.5" y="10.6" width="3.6" height="3.8" fill="#4060c0" opacity="0.85"/><rect x="9.8" y="10.6" width="3.6" height="3.8" fill="#d04040" opacity="0.85"/><rect x="16.1" y="10.6" width="3.6" height="3.8" fill="#806040" opacity="0.85"/><rect x="22.4" y="10.6" width="3.6" height="3.8" fill="#806040" opacity="0.85"/><rect x="28.7" y="10.6" width="3.6" height="3.8" fill="#40a040" opacity="0.85"/><rect x="38.8" y="10.6" width="3.6" height="3.8" fill="#c8a020" opacity="0.85"/><rect x="45.1" y="10.6" width="3.6" height="3.8" fill="#3090a0" opacity="0.85"/><rect x="51.4" y="10.6" width="3.6" height="3.8" fill="#c8a020" opacity="0.85"/><rect x="57.7" y="10.6" width="3.6" height="3.8" fill="#e08020" opacity="0.85"/><rect x="64.0" y="10.6" width="3.6" height="3.8" fill="#40a040" opacity="0.85"/><rect x="70.3" y="10.6" width="3.6" height="3.8" fill="#d04040" opacity="0.85"/><rect x="76.6" y="10.6" width="3.6" height="3.8" fill="#c8a020" opacity="0.85"/><rect x="86.7" y="10.6" width="3.6" height="3.8" fill="#c8a020" opacity="0.85"/><rect x="93.0" y="10.6" width="3.6" height="3.8" fill="#3090a0" opacity="0.85"/><rect x="99.3" y="10.6" width="3.6" height="3.8" fill="#3090a0" opacity="0.85"/><rect x="105.6" y="10.6" width="3.6" height="3.8" fill="#40a040" opacity="0.85"/><rect x="111.9" y="10.6" width="3.6" height="3.8" fill="#806040" opacity="0.85"/><rect x="118.2" y="10.6" width="3.6" height="3.8" fill="#a040a0" opacity="0.85"/><rect x="124.5" y="10.6" width="3.6" height="3.8" fill="#40a040" opacity="0.85"/><rect x="130.8" y="10.6" width="3.6" height="3.8" fill="#e08020" opacity="0.85"/><rect x="137.1" y="10.6" width="3.6" height="3.8" fill="#3090a0" opacity="0.85"/><rect x="143.4" y="10.6" width="3.6" height="3.8" fill="#d04040" opacity="0.85"/><rect x="149.7" y="10.6" width="3.6" height="3.8" fill="#e08020" opacity="0.85"/><rect x="159.7" y="10.6" width="3.6" height="3.8" fill="#a040a0" opacity="0.85"/><rect x="166.0" y="10.6" width="3.6" height="3.8" fill="#3090a0" opacity="0.85"/><rect x="172.3" y="10.6" width="3.6" height="3.8" fill="#40a040" opacity="0.85"/><rect x="178.6" y="10.6" width="3.6" height="3.8" fill="#806040" opacity="0.85"/><rect x="184.9" y="10.6" width="3.6" height="3.8" fill="#3090a0" opacity="0.85"/><rect x="191.2" y="10.6" width="3.6" height="3.8" fill="#c8a020" opacity="0.85"/><rect x="197.5" y="10.6" width="3.6" height="3.8" fill="#3090a0" opacity="0.85"/><rect x="203.8" y="10.6" width="3.6" height="3.8" fill="#4060c0" opacity="0.85"/><rect x="210.1" y="10.6" width="3.6" height="3.8" fill="#a040a0" opacity="0.85"/><rect x="3.5" y="17.6" width="3.6" height="3.8" fill="#c8a020" opacity="0.85"/><rect x="13.6" y="17.6" width="3.6" height="3.8" fill="#a040a0" opacity="0.85"/><rect x="19.9" y="17.6" width="3.6" height="3.8" fill="#e08020" opacity="0.85"/><rect x="26.2" y="17.6" width="3.6" height="3.8" fill="#40a040" opacity="0.85"/><rect x="32.5" y="17.6" width="3.6" height="3.8" fill="#4060c0" opacity="0.85"/><rect x="38.8" y="17.6" width="3.6" height="3.8" fill="#3090a0" opacity="0.85"/><rect x="45.1" y="17.6" width="3.6" height="3.8" fill="#a040a0" opacity="0.85"/><rect x="51.4" y="17.6" width="3.6" height="3.8" fill="#806040" opacity="0.85"/><rect x="0.0" y="22.9" width="400.0" height="4.5" fill="#d6d2ca"/><rect x="0.0" y="26.9" width="400.0" height="0.5" fill="#777"/><rect x="1.2" y="24.4" width="27.0" height="1.5" fill="#444" opacity="0.6"/><rect x="29.7" y="23.2" width="0.4" height="3.6" fill="#666"/><rect x="31.2" y="24.4" width="43.0" height="1.5" fill="#444" opacity="0.6"/><rect x="75.7" y="23.2" width="0.4" height="3.6" fill="#666"/><rect x="77.2" y="24.4" width="21.0" height="1.5" fill="#444" opacity="0.6"/><rect x="99.7" y="23.2" width="0.4" height="3.6" fill="#666"/><rect x="101.2" y="24.4" width="21.0" height="1.5" fill="#444" opacity="0.6"/><rect x="123.7" y="23.2" width="0.4" height="3.6" fill="#666"/><rect x="125.2" y="24.4" width="19.0" height="1.5" fill="#444" opacity="0.6"/><rect x="145.7" y="23.2" width="0.4" height="3.6" fill="#666"/><rect x="147.2" y="24.4" width="19.0" height="1.5" fill="#444" opacity="0.6"/><rect x="167.7" y="23.2" width="0.4" height="3.6" fill="#666"/><rect x="169.2" y="24.4" width="11.0" height="1.5" fill="#444" opacity="0.6"/><rect x="181.7" y="23.2" width="0.4" height="3.6" fill="#666"/><rect x="183.2" y="24.4" width="21.0" height="1.5" fill="#444" opacity="0.6"/><rect x="205.7" y="23.2" width="0.4" height="3.6" fill="#666"/><rect x="207.2" y="24.4" width="43.0" height="1.5" fill="#444" opacity="0.6"/><rect x="251.7" y="23.2" width="0.4" height="3.6" fill="#666"/><rect x="253.2" y="24.4" width="27.0" height="1.5" fill="#444" opacity="0.6"/><rect x="281.7" y="23.2" width="0.4" height="3.6" fill="#666"/><rect x="283.2" y="24.4" width="43.0" height="1.5" fill="#444" opacity="0.6"/><rect x="327.7" y="23.2" width="0.4" height="3.6" fill="#666"/><rect x="329.2" y="24.4" width="11.0" height="1.5" fill="#444" opacity="0.6"/><rect x="341.7" y="23.2" width="0.4" height="3.6" fill="#666"/><rect x="343.2" y="24.4" width="21.0" height="1.5" fill="#444" opacity="0.6"/><rect x="365.7" y="23.2" width="0.4" height="3.6" fill="#666"/><rect x="367.2" y="24.4" width="43.0" height="1.5" fill="#444" opacity="0.6"/><rect x="411.7" y="23.2" width="0.4" height="3.6" fill="#666"/><rect x="133.0" y="22.9" width="23.2" height="4.3" fill="#0a246a"/><rect x="0.0" y="239.8" width="400.0" height="5.2" fill="#d6d2ca"/><rect x="1.5" y="240.8" width="6.0" height="3.0" fill="#c07020" opacity="0.7"/><rect x="26.0" y="241.6" width="80.0" height="1.5" fill="#444" opacity="0.6"/><rect x="330.0" y="239.8" width="0.8" height="5.2" fill="#f4f2ee"/><rect x="342.0" y="241.6" width="17.0" height="1.5" fill="#444" opacity="0.6"/><polyline points="85.6,28.7 132.7,72.7" fill="none" stroke="#4040d0" stroke-width="0.5" stroke-dasharray="4,6"/><polygon points="36.4,42.0 39.7,42.0 59.0,112.0 53.6,114.0" fill="#454545"/><polygon points="50.8,76.8 68.2,72.7 74.3,88.0 130.6,72.7 133.7,78.8 233.0,53.2 233.4,46.5 262.6,38.9 269.2,58.8 244.2,65.5 140.8,94.2 77.4,109.9 56.9,114.0" fill="#444444"/><polygon points="257.5,115.7 281.1,108.5 284.1,132.0 262.6,137.6" fill="#444444"/><polygon points="140.8,94.2 245.2,65.5 250.4,115.7 122.4,149.4 116.3,123.8 143.9,113.6" fill="#2f7a2f"/><polygon points="79.4,162.3 122.4,149.4 250.4,115.3 248.3,96.2 253.4,97.2 261.2,136.5 85.6,184.2" fill="#0f8282"/><polygon points="77.4,109.5 107.1,104.4 116.3,123.8 122.4,149.4 79.4,162.3 68.2,146.4" fill="#b9b9b9"/><polygon points="107.1,103.8 138.8,94.2 143.9,113.6 114.2,122.2" fill="#454043"/><polygon points="40.9,111.6 56.9,113.6 85.6,184.2 64.1,191.4" fill="#3a2b20"/><polygon points="40.9,111.6 44.2,111.0 67.1,190.4 64.1,191.4" fill="#6a4a2c"/><polygon points="56.9,113.6 74.3,108.5 84.5,118.7 71.2,121.8 82.5,142.3 65.1,146.4" fill="#4a4346"/><polygon points="71.2,121.8 79.8,119.3 84.7,140.2 77.0,144.3" fill="#3a2b20"/><polygon points="64.1,191.4 85.6,184.2 92.1,212.9 73.3,227.2" fill="#575757"/><polyline points="64.1,191.4 73.3,227.2" fill="none" stroke="#222" stroke-width="0.5" stroke-dasharray="1,0.8"/><circle cx="227.8" cy="86.0" r="23.7" fill="#1f5f1f" stroke="#0f2f0f" stroke-width="0.6"/><polyline points="227.8,86.0 250.3,90.5" fill="none" stroke="#0f2f0f" stroke-width="0.4"/><polyline points="227.8,86.0 245.0,101.2" fill="none" stroke="#0f2f0f" stroke-width="0.4"/><polyline points="227.8,86.0 235.1,107.7" fill="none" stroke="#0f2f0f" stroke-width="0.4"/><polyline points="227.8,86.0 223.3,108.4" fill="none" stroke="#0f2f0f" stroke-width="0.4"/><polyline points="227.8,86.0 212.7,103.2" fill="none" stroke="#0f2f0f" stroke-width="0.4"/><polyline points="227.8,86.0 206.1,93.3" fill="none" stroke="#0f2f0f" stroke-width="0.4"/><polyline points="227.8,86.0 205.4,81.4" fill="none" stroke="#0f2f0f" stroke-width="0.4"/><polyline points="227.8,86.0 210.7,70.8" fill="none" stroke="#0f2f0f" stroke-width="0.4"/><polyline points="227.8,86.0 220.5,64.2" fill="none" stroke="#0f2f0f" stroke-width="0.4"/><polyline points="227.8,86.0 232.4,63.5" fill="none" stroke="#0f2f0f" stroke-width="0.4"/><polyline points="227.8,86.0 243.0,68.8" fill="none" stroke="#0f2f0f" stroke-width="0.4"/><polyline points="227.8,86.0 249.6,78.7" fill="none" stroke="#0f2f0f" stroke-width="0.4"/><circle cx="142.5" cy="118.1" r="9.4" fill="#1f5f1f" stroke="#0f2f0f" stroke-width="0.5"/><polyline points="168.5,91.1 183.8,94.2 174.6,85.0 176.7,99.3 170.5,97.2 182.2,89.0" fill="none" stroke="#0f3f0f" stroke-width="0.7"/><polyline points="122.4,149.4 250.4,115.3" fill="none" stroke="#123a12" stroke-width="0.8"/><polyline points="77.4,109.9 140.8,94.2 245.2,65.5" fill="none" stroke="#888" stroke-width="0.8" stroke-dasharray="1.2,0.6"/><polyline points="244.2,65.5 273.9,57.9" fill="none" stroke="#ddd" stroke-width="1.2" stroke-dasharray="1.2,0.6"/><polyline points="85.6,184.2 261.2,136.5" fill="none" stroke="#1c1c1c" stroke-width="1.8" stroke-dasharray="1.4,0.5"/><polyline points="261.2,136.5 283.7,131.6" fill="none" stroke="#222" stroke-width="1.2" stroke-dasharray="1.2,0.6"/><polygon points="257.5,138.2 262.0,136.5 271.4,165.8 268.8,167.2" fill="#3a3f4a"/><polyline points="214.1,172.0 252.4,172.0" fill="none" stroke="#555" stroke-width="0.4"/><text x="149.0" y="201.2" font-size="9.4" fill="#111" textLength="57" lengthAdjust="spacingAndGlyphs">Frost pocket</text><rect x="284.1" y="28.0" width="48.6" height="46.0" fill="#d6d2ca" stroke="#888" stroke-width="0.4"/><rect x="284.1" y="28.0" width="48.6" height="2.0" fill="#9aa0a8"/><rect x="291.0" y="32.0" width="31.0" height="3.6" fill="#fff" stroke="#666" stroke-width="0.3"/><rect x="292.0" y="37.5" width="24.0" height="3.2" fill="#3a5a9a"/><rect x="294.0" y="38.6" width="18.0" height="1.2" fill="#e0b040"/><rect x="292.0" y="43.5" width="24.0" height="2.6" fill="#e8a040"/><rect x="296.0" y="44.2" width="14.0" height="1.2" fill="#d03020"/><rect x="318.0" y="37.5" width="11.0" height="3.0" fill="#fff" stroke="#666" stroke-width="0.3"/><rect x="318.0" y="43.5" width="11.0" height="3.0" fill="#fff" stroke="#666" stroke-width="0.3"/><rect x="292.0" y="51.6" width="24.0" height="1.0" fill="#777"/><rect x="292.0" y="57.4" width="24.0" height="1.0" fill="#777"/><rect x="286.0" y="64.0" width="24.0" height="1.4" fill="#555" opacity="0.6"/><rect x="286.0" y="70.0" width="44.0" height="1.4" fill="#555" opacity="0.5"/><rect x="284.1" y="76.5" width="49.2" height="79.0" fill="#d6d2ca" stroke="#888" stroke-width="0.4"/><rect x="284.1" y="76.5" width="49.2" height="2.0" fill="#9aa0a8"/><rect x="286.0" y="81.5" width="14.0" height="2.2" fill="#333" opacity="0.7"/><rect x="307.0" y="81.0" width="22.0" height="3.0" fill="#444" opacity="0.6"/><rect x="285.0" y="87.6" width="43.5" height="14.4" fill="#fff" stroke="#1a2a8a" stroke-width="0.6"/><rect x="285.6" y="88.2" width="12.6" height="13.2" fill="#9a9a9a"/><rect x="300.0" y="89.5" width="12.0" height="1.2" fill="#444" opacity="0.7"/><rect x="300.0" y="92.5" width="10.0" height="1.2" fill="#444" opacity="0.7"/><rect x="300.0" y="95.5" width="14.0" height="1.2" fill="#c08030" opacity="0.7"/><rect x="285.0" y="103.5" width="43.5" height="8.0" fill="#fff"/><rect x="285.6" y="104.0" width="12.6" height="2.6" fill="#888"/><rect x="285.6" y="106.6" width="12.6" height="4.6" fill="#050505"/><rect x="300.0" y="104.5" width="20.0" height="1.2" fill="#444" opacity="0.7"/><rect x="300.0" y="107.5" width="11.0" height="1.2" fill="#444" opacity="0.7"/><rect x="300.0" y="114.5" width="28.0" height="1.6" fill="#444" opacity="0.55"/><rect x="300.0" y="118.0" width="31.0" height="3.0" fill="#fff" stroke="#666" stroke-width="0.3"/><rect x="300.0" y="123.0" width="31.0" height="3.0" fill="#fff" stroke="#666" stroke-width="0.3"/><rect x="299.0" y="128.5" width="1.8" height="1.8" fill="#fff" stroke="#444" stroke-width="0.3"/><rect x="303.0" y="128.8" width="12.0" height="1.3" fill="#444" opacity="0.65"/><rect x="299.0" y="132.2" width="1.8" height="1.8" fill="#fff" stroke="#444" stroke-width="0.3"/><rect x="303.0" y="132.6" width="17.0" height="1.3" fill="#444" opacity="0.65"/><rect x="299.0" y="136.0" width="1.8" height="1.8" fill="#222" stroke="#444" stroke-width="0.3"/><rect x="303.0" y="136.3" width="13.0" height="1.3" fill="#444" opacity="0.65"/><rect x="299.0" y="139.8" width="1.8" height="1.8" fill="#222" stroke="#444" stroke-width="0.3"/><rect x="303.0" y="140.1" width="18.0" height="1.3" fill="#444" opacity="0.65"/><rect x="299.0" y="143.5" width="1.8" height="1.8" fill="#fff" stroke="#444" stroke-width="0.3"/><rect x="303.0" y="143.8" width="14.0" height="1.3" fill="#444" opacity="0.65"/><rect x="299.0" y="147.2" width="1.8" height="1.8" fill="#fff" stroke="#444" stroke-width="0.3"/><rect x="303.0" y="147.6" width="19.0" height="1.3" fill="#444" opacity="0.65"/><rect x="299.0" y="151.0" width="1.8" height="1.8" fill="#222" stroke="#444" stroke-width="0.3"/><rect x="303.0" y="151.3" width="15.0" height="1.3" fill="#444" opacity="0.65"/><rect x="333.9" y="28.0" width="64.9" height="195.5" fill="#fff" stroke="#555" stroke-width="0.5"/><rect x="333.9" y="28.0" width="64.9" height="13.2" fill="#d6d2ca"/><rect x="333.9" y="28.0" width="64.9" height="1.8" fill="#9aa0a8"/><rect x="335.4" y="42.1" width="10.0" height="1.3" fill="#444" opacity="0.75"/><rect x="383.8" y="41.8" width="1.8" height="1.8" fill="#333" opacity="0.7"/><rect x="392.6" y="41.4" width="3.0" height="3.2" fill="#0a6aa0"/><rect x="335.4" y="45.7" width="17.0" height="1.3" fill="#444" opacity="0.75"/><rect x="383.8" y="45.4" width="1.8" height="1.8" fill="#333" opacity="0.7"/><rect x="392.6" y="45.0" width="3.0" height="3.2" fill="#a01010"/><rect x="335.4" y="49.2" width="24.0" height="1.3" fill="#444" opacity="0.75"/><rect x="383.8" y="48.9" width="1.8" height="1.8" fill="#333" opacity="0.7"/><rect x="392.6" y="48.5" width="3.0" height="3.2" fill="#108080"/><rect x="335.4" y="52.8" width="12.0" height="1.3" fill="#444" opacity="0.75"/><rect x="383.8" y="52.5" width="1.8" height="1.8" fill="#333" opacity="0.7"/><rect x="392.6" y="52.1" width="3.0" height="3.2" fill="#1060a0"/><rect x="335.4" y="56.3" width="19.0" height="1.3" fill="#444" opacity="0.75"/><rect x="383.8" y="56.0" width="1.8" height="1.8" fill="#333" opacity="0.7"/><rect x="392.6" y="55.6" width="3.0" height="3.2" fill="#c04010"/><rect x="335.4" y="59.9" width="26.0" height="1.3" fill="#444" opacity="0.75"/><rect x="383.8" y="59.6" width="1.8" height="1.8" fill="#333" opacity="0.7"/><rect x="392.6" y="59.2" width="3.0" height="3.2" fill="#a05010"/><rect x="335.4" y="63.5" width="14.0" height="1.3" fill="#444" opacity="0.75"/><rect x="383.8" y="63.2" width="1.8" height="1.8" fill="#333" opacity="0.7"/><rect x="392.6" y="62.8" width="3.0" height="3.2" fill="#704010"/><rect x="335.4" y="67.0" width="21.0" height="1.3" fill="#444" opacity="0.75"/><rect x="383.8" y="66.7" width="1.8" height="1.8" fill="#333" opacity="0.7"/><rect x="392.6" y="66.3" width="3.0" height="3.2" fill="#7070a0"/><rect x="335.4" y="70.6" width="28.0" height="1.3" fill="#444" opacity="0.75"/><rect x="383.8" y="70.3" width="1.8" height="1.8" fill="#333" opacity="0.7"/><rect x="392.6" y="69.9" width="3.0" height="3.2" fill="#c05010"/><rect x="335.4" y="74.1" width="16.0" height="1.3" fill="#444" opacity="0.75"/><rect x="383.8" y="73.8" width="1.8" height="1.8" fill="#333" opacity="0.7"/><rect x="392.6" y="73.4" width="3.0" height="3.2" fill="#f0a060"/><rect x="335.4" y="77.7" width="23.0" height="1.3" fill="#444" opacity="0.75"/><rect x="383.8" y="77.4" width="1.8" height="1.8" fill="#333" opacity="0.7"/><rect x="392.6" y="77.0" width="3.0" height="3.2" fill="#00e0e0"/><rect x="335.4" y="81.3" width="11.0" height="1.3" fill="#444" opacity="0.75"/><rect x="383.8" y="81.0" width="1.8" height="1.8" fill="#333" opacity="0.7"/><rect x="392.6" y="80.6" width="3.0" height="3.2" fill="#20a080"/><rect x="335.4" y="84.8" width="18.0" height="1.3" fill="#444" opacity="0.75"/><rect x="383.8" y="84.5" width="1.8" height="1.8" fill="#333" opacity="0.7"/><rect x="392.6" y="84.1" width="3.0" height="3.2" fill="#7070a0"/><rect x="335.4" y="88.4" width="25.0" height="1.3" fill="#444" opacity="0.75"/><rect x="383.8" y="88.1" width="1.8" height="1.8" fill="#333" opacity="0.7"/><rect x="392.6" y="87.7" width="3.0" height="3.2" fill="#704010"/><rect x="335.4" y="91.9" width="13.0" height="1.3" fill="#444" opacity="0.75"/><rect x="383.8" y="91.6" width="1.8" height="1.8" fill="#333" opacity="0.7"/><rect x="392.6" y="91.2" width="3.0" height="3.2" fill="#20a080"/><rect x="335.4" y="95.5" width="20.0" height="1.3" fill="#444" opacity="0.75"/><rect x="383.8" y="95.2" width="1.8" height="1.8" fill="#333" opacity="0.7"/><rect x="392.6" y="94.8" width="3.0" height="3.2" fill="#9010e0"/><rect x="335.4" y="99.1" width="27.0" height="1.3" fill="#444" opacity="0.75"/><rect x="383.8" y="98.8" width="1.8" height="1.8" fill="#333" opacity="0.7"/><rect x="392.6" y="98.4" width="3.0" height="3.2" fill="#7070a0"/></svg></g>
<circle cx="2240.2" cy="366.0" r="4.7" fill="#d6e1f7" stroke="#b3c6ee" stroke-width="1"/><path d="M2237.7 366.1h5" stroke="#7693d2" stroke-width="0.9" fill="none"/>
<circle cx="2296.7" cy="78.3" r="4.7" fill="#d6e1f7" stroke="#b3c6ee" stroke-width="1"/><path d="M2294.2 78.4h5" stroke="#7693d2" stroke-width="0.9" fill="none"/>
<circle cx="2459.4" cy="78.3" r="4.7" fill="#d6e1f7" stroke="#b3c6ee" stroke-width="1"/><path d="M2456.9 78.4h5" stroke="#7693d2" stroke-width="0.9" fill="none"/>
<circle cx="2557.4" cy="30.3" r="4.7" fill="#d6e1f7" stroke="#b3c6ee" stroke-width="1"/><path d="M2554.9 30.4h5" stroke="#7693d2" stroke-width="0.9" fill="none"/>
<circle cx="2297.4" cy="254.3" r="4.7" fill="#d6e1f7" stroke="#b3c6ee" stroke-width="1"/><path d="M2294.9 254.4h5" stroke="#7693d2" stroke-width="0.9" fill="none"/>
<circle cx="2549.0" cy="206.3" r="4.7" fill="#d6e1f7" stroke="#b3c6ee" stroke-width="1"/><path d="M2546.5 206.4h5" stroke="#7693d2" stroke-width="0.9" fill="none"/>
<circle cx="2655.6" cy="158.3" r="4.7" fill="#d6e1f7" stroke="#b3c6ee" stroke-width="1"/><path d="M2653.1 158.4h5" stroke="#7693d2" stroke-width="0.9" fill="none"/>
<circle cx="2643.9" cy="206.3" r="4.7" fill="#d6e1f7" stroke="#b3c6ee" stroke-width="1"/><path d="M2641.4 206.4h5" stroke="#7693d2" stroke-width="0.9" fill="none"/>
<circle cx="2673.4" cy="254.3" r="4.7" fill="#d6e1f7" stroke="#b3c6ee" stroke-width="1"/><path d="M2670.9 254.4h5" stroke="#7693d2" stroke-width="0.9" fill="none"/>
<circle cx="2429.9" cy="286.3" r="4.7" fill="#d6e1f7" stroke="#b3c6ee" stroke-width="1"/><path d="M2427.4 286.4h5" stroke="#7693d2" stroke-width="0.9" fill="none"/>
<circle cx="2295.3" cy="542.3" r="4.7" fill="#d6e1f7" stroke="#b3c6ee" stroke-width="1"/><path d="M2292.8 542.4h5" stroke="#7693d2" stroke-width="0.9" fill="none"/>
<circle cx="2735.0" cy="430.3" r="4.7" fill="#d6e1f7" stroke="#b3c6ee" stroke-width="1"/><path d="M2732.5 430.4h5" stroke="#7693d2" stroke-width="0.9" fill="none"/>
<circle cx="2830.8" cy="430.3" r="4.7" fill="#d6e1f7" stroke="#b3c6ee" stroke-width="1"/><path d="M2828.3 430.4h5" stroke="#7693d2" stroke-width="0.9" fill="none"/>
<circle cx="2951.0" cy="494.3" r="4.7" fill="#d6e1f7" stroke="#b3c6ee" stroke-width="1"/><path d="M2948.5 494.4h5" stroke="#7693d2" stroke-width="0.9" fill="none"/>
<circle cx="3046.8" cy="494.3" r="4.7" fill="#d6e1f7" stroke="#b3c6ee" stroke-width="1"/><path d="M3044.3 494.4h5" stroke="#7693d2" stroke-width="0.9" fill="none"/>
<circle cx="2528.3" cy="590.3" r="4.7" fill="#d6e1f7" stroke="#b3c6ee" stroke-width="1"/><path d="M2525.8 590.4h5" stroke="#7693d2" stroke-width="0.9" fill="none"/>
<circle cx="2681.9" cy="686.3" r="4.7" fill="#d6e1f7" stroke="#b3c6ee" stroke-width="1"/><path d="M2679.4 686.4h5" stroke="#7693d2" stroke-width="0.9" fill="none"/>
<circle cx="2806.2" cy="702.3" r="4.7" fill="#d6e1f7" stroke="#b3c6ee" stroke-width="1"/><path d="M2803.7 702.4h5" stroke="#7693d2" stroke-width="0.9" fill="none"/>
<circle cx="2327.9" cy="1047.0" r="4.7" fill="#d6e1f7" stroke="#b3c6ee" stroke-width="1"/><path d="M2325.4 1047.1h5" stroke="#7693d2" stroke-width="0.9" fill="none"/>
<circle cx="2423.8" cy="1047.0" r="4.7" fill="#d6e1f7" stroke="#b3c6ee" stroke-width="1"/><path d="M2421.3 1047.1h5" stroke="#7693d2" stroke-width="0.9" fill="none"/>
<circle cx="2439.5" cy="1456.0" r="4.7" fill="#d6e1f7" stroke="#b3c6ee" stroke-width="1"/><path d="M2437.0 1456.1h5" stroke="#7693d2" stroke-width="0.9" fill="none"/>
<circle cx="2491.3" cy="1589.2" r="4.6" fill="#cfe2fb" stroke="#8da3cc" stroke-width="1"/><path d="M2489.0 1589.2h4.6M2491.3 1586.9v4.6" stroke="#2a3a66" stroke-width="1.0" fill="none"/>
<circle cx="2352.2" cy="2281.0" r="4.7" fill="#d6e1f7" stroke="#b3c6ee" stroke-width="1"/><path d="M2349.7 2281.1h5" stroke="#7693d2" stroke-width="0.9" fill="none"/>
<circle cx="2536.3" cy="1737.4" r="4.7" fill="#d6e1f7" stroke="#b3c6ee" stroke-width="1"/><path d="M2533.8 1737.5h5" stroke="#7693d2" stroke-width="0.9" fill="none"/>
<circle cx="2801.2" cy="1673.4" r="4.7" fill="#d6e1f7" stroke="#b3c6ee" stroke-width="1"/><path d="M2798.7 1673.5h5" stroke="#7693d2" stroke-width="0.9" fill="none"/>
<circle cx="2757.7" cy="1737.4" r="4.7" fill="#d6e1f7" stroke="#b3c6ee" stroke-width="1"/><path d="M2755.2 1737.5h5" stroke="#7693d2" stroke-width="0.9" fill="none"/>
<circle cx="3082.0" cy="1753.4" r="4.7" fill="#d6e1f7" stroke="#b3c6ee" stroke-width="1"/><path d="M3079.5 1753.5h5" stroke="#7693d2" stroke-width="0.9" fill="none"/>
<circle cx="3361.3" cy="1753.4" r="4.7" fill="#d6e1f7" stroke="#b3c6ee" stroke-width="1"/><path d="M3358.8 1753.5h5" stroke="#7693d2" stroke-width="0.9" fill="none"/>
<circle cx="2786.8" cy="1801.4" r="4.7" fill="#d6e1f7" stroke="#b3c6ee" stroke-width="1"/><path d="M2784.3 1801.5h5" stroke="#7693d2" stroke-width="0.9" fill="none"/>
<circle cx="3148.4" cy="1801.4" r="4.7" fill="#d6e1f7" stroke="#b3c6ee" stroke-width="1"/><path d="M3145.9 1801.5h5" stroke="#7693d2" stroke-width="0.9" fill="none"/>
<circle cx="3382.0" cy="1801.4" r="4.7" fill="#d6e1f7" stroke="#b3c6ee" stroke-width="1"/><path d="M3379.5 1801.5h5" stroke="#7693d2" stroke-width="0.9" fill="none"/>
<circle cx="2500.0" cy="1865.4" r="4.7" fill="#d6e1f7" stroke="#b3c6ee" stroke-width="1"/><path d="M2497.5 1865.5h5" stroke="#7693d2" stroke-width="0.9" fill="none"/>
<circle cx="2563.4" cy="1865.4" r="4.7" fill="#d6e1f7" stroke="#b3c6ee" stroke-width="1"/><path d="M2560.9 1865.5h5" stroke="#7693d2" stroke-width="0.9" fill="none"/>
<circle cx="2844.8" cy="1865.4" r="4.7" fill="#d6e1f7" stroke="#b3c6ee" stroke-width="1"/><path d="M2842.3 1865.5h5" stroke="#7693d2" stroke-width="0.9" fill="none"/>
<circle cx="3453.2" cy="1865.4" r="4.7" fill="#d6e1f7" stroke="#b3c6ee" stroke-width="1"/><path d="M3450.7 1865.5h5" stroke="#7693d2" stroke-width="0.9" fill="none"/>
<circle cx="2509.5" cy="1913.4" r="4.7" fill="#d6e1f7" stroke="#b3c6ee" stroke-width="1"/><path d="M2507.0 1913.5h5" stroke="#7693d2" stroke-width="0.9" fill="none"/>
<circle cx="2727.6" cy="1913.4" r="4.7" fill="#d6e1f7" stroke="#b3c6ee" stroke-width="1"/><path d="M2725.1 1913.5h5" stroke="#7693d2" stroke-width="0.9" fill="none"/>
<circle cx="3085.4" cy="1913.4" r="4.7" fill="#d6e1f7" stroke="#b3c6ee" stroke-width="1"/><path d="M3082.9 1913.5h5" stroke="#7693d2" stroke-width="0.9" fill="none"/>
<circle cx="3568.0" cy="1913.4" r="4.7" fill="#d6e1f7" stroke="#b3c6ee" stroke-width="1"/><path d="M3565.5 1913.5h5" stroke="#7693d2" stroke-width="0.9" fill="none"/>
<circle cx="2487.1" cy="1993.4" r="4.7" fill="#d6e1f7" stroke="#b3c6ee" stroke-width="1"/><path d="M2484.6 1993.5h5" stroke="#7693d2" stroke-width="0.9" fill="none"/>
<circle cx="2564.8" cy="1961.4" r="4.7" fill="#d6e1f7" stroke="#b3c6ee" stroke-width="1"/><path d="M2562.3 1961.5h5" stroke="#7693d2" stroke-width="0.9" fill="none"/>
<circle cx="2881.8" cy="1945.4" r="4.7" fill="#d6e1f7" stroke="#b3c6ee" stroke-width="1"/><path d="M2879.3 1945.5h5" stroke="#7693d2" stroke-width="0.9" fill="none"/>
<circle cx="3290.7" cy="1945.4" r="4.7" fill="#d6e1f7" stroke="#b3c6ee" stroke-width="1"/><path d="M3288.2 1945.5h5" stroke="#7693d2" stroke-width="0.9" fill="none"/>
<circle cx="2771.7" cy="1977.4" r="4.7" fill="#d6e1f7" stroke="#b3c6ee" stroke-width="1"/><path d="M2769.2 1977.5h5" stroke="#7693d2" stroke-width="0.9" fill="none"/>
<circle cx="2978.3" cy="1977.4" r="4.7" fill="#d6e1f7" stroke="#b3c6ee" stroke-width="1"/><path d="M2975.8 1977.5h5" stroke="#7693d2" stroke-width="0.9" fill="none"/>
<circle cx="2559.5" cy="2009.4" r="4.7" fill="#d6e1f7" stroke="#b3c6ee" stroke-width="1"/><path d="M2557.0 2009.5h5" stroke="#7693d2" stroke-width="0.9" fill="none"/>
<circle cx="2834.8" cy="2009.4" r="4.7" fill="#d6e1f7" stroke="#b3c6ee" stroke-width="1"/><path d="M2832.3 2009.5h5" stroke="#7693d2" stroke-width="0.9" fill="none"/>
<circle cx="3319.2" cy="2009.4" r="4.7" fill="#d6e1f7" stroke="#b3c6ee" stroke-width="1"/><path d="M3316.7 2009.5h5" stroke="#7693d2" stroke-width="0.9" fill="none"/>
<circle cx="2569.8" cy="2041.4" r="4.7" fill="#d6e1f7" stroke="#b3c6ee" stroke-width="1"/><path d="M2567.3 2041.5h5" stroke="#7693d2" stroke-width="0.9" fill="none"/>
<circle cx="2750.2" cy="2041.4" r="4.7" fill="#d6e1f7" stroke="#b3c6ee" stroke-width="1"/><path d="M2747.7 2041.5h5" stroke="#7693d2" stroke-width="0.9" fill="none"/>
<circle cx="2445.9" cy="2153.4" r="4.7" fill="#d6e1f7" stroke="#b3c6ee" stroke-width="1"/><path d="M2443.4 2153.5h5" stroke="#7693d2" stroke-width="0.9" fill="none"/>
<circle cx="2750.0" cy="2089.4" r="4.7" fill="#d6e1f7" stroke="#b3c6ee" stroke-width="1"/><path d="M2747.5 2089.5h5" stroke="#7693d2" stroke-width="0.9" fill="none"/>
<circle cx="3031.6" cy="2089.4" r="4.7" fill="#d6e1f7" stroke="#b3c6ee" stroke-width="1"/><path d="M3029.1 2089.5h5" stroke="#7693d2" stroke-width="0.9" fill="none"/>
<circle cx="3332.5" cy="2089.4" r="4.7" fill="#d6e1f7" stroke="#b3c6ee" stroke-width="1"/><path d="M3330.0 2089.5h5" stroke="#7693d2" stroke-width="0.9" fill="none"/>
<circle cx="3494.0" cy="2089.4" r="4.7" fill="#d6e1f7" stroke="#b3c6ee" stroke-width="1"/><path d="M3491.5 2089.5h5" stroke="#7693d2" stroke-width="0.9" fill="none"/>
<circle cx="2866.2" cy="2153.4" r="4.7" fill="#d6e1f7" stroke="#b3c6ee" stroke-width="1"/><path d="M2863.7 2153.5h5" stroke="#7693d2" stroke-width="0.9" fill="none"/>
<circle cx="2977.1" cy="2137.4" r="4.7" fill="#d6e1f7" stroke="#b3c6ee" stroke-width="1"/><path d="M2974.6 2137.5h5" stroke="#7693d2" stroke-width="0.9" fill="none"/>
<circle cx="2982.7" cy="2169.4" r="4.7" fill="#d6e1f7" stroke="#b3c6ee" stroke-width="1"/><path d="M2980.2 2169.5h5" stroke="#7693d2" stroke-width="0.9" fill="none"/>
<circle cx="2859.9" cy="2217.4" r="4.7" fill="#d6e1f7" stroke="#b3c6ee" stroke-width="1"/><path d="M2857.4 2217.5h5" stroke="#7693d2" stroke-width="0.9" fill="none"/>
<circle cx="3043.8" cy="2217.4" r="4.7" fill="#d6e1f7" stroke="#b3c6ee" stroke-width="1"/><path d="M3041.3 2217.5h5" stroke="#7693d2" stroke-width="0.9" fill="none"/>
<circle cx="3160.3" cy="2217.4" r="4.7" fill="#d6e1f7" stroke="#b3c6ee" stroke-width="1"/><path d="M3157.8 2217.5h5" stroke="#7693d2" stroke-width="0.9" fill="none"/>
<circle cx="2494.4" cy="2345.4" r="4.7" fill="#d6e1f7" stroke="#b3c6ee" stroke-width="1"/><path d="M2491.9 2345.5h5" stroke="#7693d2" stroke-width="0.9" fill="none"/>
<circle cx="2682.0" cy="2265.4" r="4.7" fill="#d6e1f7" stroke="#b3c6ee" stroke-width="1"/><path d="M2679.5 2265.5h5" stroke="#7693d2" stroke-width="0.9" fill="none"/>
<circle cx="2789.3" cy="2265.4" r="4.7" fill="#d6e1f7" stroke="#b3c6ee" stroke-width="1"/><path d="M2786.8 2265.5h5" stroke="#7693d2" stroke-width="0.9" fill="none"/>
<circle cx="3158.9" cy="2313.4" r="4.7" fill="#d6e1f7" stroke="#b3c6ee" stroke-width="1"/><path d="M3156.4 2313.5h5" stroke="#7693d2" stroke-width="0.9" fill="none"/>
<circle cx="2994.0" cy="2361.4" r="4.7" fill="#d6e1f7" stroke="#b3c6ee" stroke-width="1"/><path d="M2991.5 2361.5h5" stroke="#7693d2" stroke-width="0.9" fill="none"/>
<circle cx="3301.9" cy="2361.4" r="4.7" fill="#d6e1f7" stroke="#b3c6ee" stroke-width="1"/><path d="M3299.4 2361.5h5" stroke="#7693d2" stroke-width="0.9" fill="none"/>
<circle cx="2854.7" cy="2393.4" r="4.7" fill="#d6e1f7" stroke="#b3c6ee" stroke-width="1"/><path d="M2852.2 2393.5h5" stroke="#7693d2" stroke-width="0.9" fill="none"/>
<circle cx="3113.7" cy="2425.4" r="4.7" fill="#d6e1f7" stroke="#b3c6ee" stroke-width="1"/><path d="M3111.2 2425.5h5" stroke="#7693d2" stroke-width="0.9" fill="none"/>
<circle cx="2494.2" cy="2489.4" r="4.7" fill="#d6e1f7" stroke="#b3c6ee" stroke-width="1"/><path d="M2491.7 2489.5h5" stroke="#7693d2" stroke-width="0.9" fill="none"/>
<circle cx="2674.6" cy="2457.4" r="4.7" fill="#d6e1f7" stroke="#b3c6ee" stroke-width="1"/><path d="M2672.1 2457.5h5" stroke="#7693d2" stroke-width="0.9" fill="none"/>
<circle cx="3201.0" cy="2457.4" r="4.7" fill="#d6e1f7" stroke="#b3c6ee" stroke-width="1"/><path d="M3198.5 2457.5h5" stroke="#7693d2" stroke-width="0.9" fill="none"/>
<circle cx="2815.4" cy="2505.4" r="4.7" fill="#d6e1f7" stroke="#b3c6ee" stroke-width="1"/><path d="M2812.9 2505.5h5" stroke="#7693d2" stroke-width="0.9" fill="none"/>
<circle cx="2540.2" cy="2601.4" r="4.7" fill="#d6e1f7" stroke="#b3c6ee" stroke-width="1"/><path d="M2537.7 2601.5h5" stroke="#7693d2" stroke-width="0.9" fill="none"/>
<circle cx="2860.4" cy="2585.4" r="4.7" fill="#d6e1f7" stroke="#b3c6ee" stroke-width="1"/><path d="M2857.9 2585.5h5" stroke="#7693d2" stroke-width="0.9" fill="none"/>
<circle cx="3066.1" cy="2617.4" r="4.7" fill="#d6e1f7" stroke="#b3c6ee" stroke-width="1"/><path d="M3063.6 2617.5h5" stroke="#7693d2" stroke-width="0.9" fill="none"/>
<circle cx="2780.6" cy="2649.4" r="4.7" fill="#d6e1f7" stroke="#b3c6ee" stroke-width="1"/><path d="M2778.1 2649.5h5" stroke="#7693d2" stroke-width="0.9" fill="none"/>
<circle cx="2992.6" cy="2649.4" r="4.7" fill="#d6e1f7" stroke="#b3c6ee" stroke-width="1"/><path d="M2990.1 2649.5h5" stroke="#7693d2" stroke-width="0.9" fill="none"/>
<circle cx="2538.9" cy="2793.4" r="4.7" fill="#d6e1f7" stroke="#b3c6ee" stroke-width="1"/><path d="M2536.4 2793.5h5" stroke="#7693d2" stroke-width="0.9" fill="none"/>
<circle cx="2715.4" cy="2713.4" r="4.7" fill="#d6e1f7" stroke="#b3c6ee" stroke-width="1"/><path d="M2712.9 2713.5h5" stroke="#7693d2" stroke-width="0.9" fill="none"/>
<circle cx="2889.2" cy="2745.4" r="4.7" fill="#d6e1f7" stroke="#b3c6ee" stroke-width="1"/><path d="M2886.7 2745.5h5" stroke="#7693d2" stroke-width="0.9" fill="none"/>
<circle cx="2787.3" cy="2841.4" r="4.7" fill="#d6e1f7" stroke="#b3c6ee" stroke-width="1"/><path d="M2784.8 2841.5h5" stroke="#7693d2" stroke-width="0.9" fill="none"/>
<circle cx="3021.4" cy="2793.4" r="4.7" fill="#d6e1f7" stroke="#b3c6ee" stroke-width="1"/><path d="M3018.9 2793.5h5" stroke="#7693d2" stroke-width="0.9" fill="none"/>
<circle cx="2922.3" cy="2857.4" r="4.7" fill="#d6e1f7" stroke="#b3c6ee" stroke-width="1"/><path d="M2919.8 2857.5h5" stroke="#7693d2" stroke-width="0.9" fill="none"/>
<circle cx="3163.1" cy="2841.4" r="4.7" fill="#d6e1f7" stroke="#b3c6ee" stroke-width="1"/><path d="M3160.6 2841.5h5" stroke="#7693d2" stroke-width="0.9" fill="none"/>
<circle cx="2939.6" cy="2905.4" r="4.7" fill="#d6e1f7" stroke="#b3c6ee" stroke-width="1"/><path d="M2937.1 2905.5h5" stroke="#7693d2" stroke-width="0.9" fill="none"/>
<circle cx="3111.5" cy="2905.4" r="4.7" fill="#d6e1f7" stroke="#b3c6ee" stroke-width="1"/><path d="M3109.0 2905.5h5" stroke="#7693d2" stroke-width="0.9" fill="none"/>
<circle cx="3297.6" cy="2905.4" r="4.7" fill="#d6e1f7" stroke="#b3c6ee" stroke-width="1"/><path d="M3295.1 2905.5h5" stroke="#7693d2" stroke-width="0.9" fill="none"/>
<circle cx="1493.0" cy="804.0" r="4.6" fill="#cfe2fb" stroke="#8da3cc" stroke-width="1"/><path d="M1490.7 804.0h4.6M1493.0 801.7v4.6" stroke="#2a3a66" stroke-width="1.0" fill="none"/>
<circle cx="1483.8" cy="880.0" r="4.6" fill="#cfe2fb" stroke="#8da3cc" stroke-width="1"/><path d="M1481.5 880.0h4.6M1483.8 877.7v4.6" stroke="#2a3a66" stroke-width="1.0" fill="none"/>
<circle cx="1606.0" cy="1843.0" r="4.7" fill="#d6e1f7" stroke="#b3c6ee" stroke-width="1"/><path d="M1603.5 1843.1h5" stroke="#7693d2" stroke-width="0.9" fill="none"/>
<circle cx="1528.8" cy="1141.0" r="4.7" fill="#d6e1f7" stroke="#b3c6ee" stroke-width="1"/><path d="M1526.3 1141.1h5" stroke="#7693d2" stroke-width="0.9" fill="none"/>
<circle cx="1487.8" cy="1189.0" r="4.7" fill="#d6e1f7" stroke="#b3c6ee" stroke-width="1"/><path d="M1485.3 1189.1h5" stroke="#7693d2" stroke-width="0.9" fill="none"/>
<circle cx="1520.4" cy="2051.9" r="4.7" fill="#d6e1f7" stroke="#b3c6ee" stroke-width="1"/><path d="M1517.9 2052.0h5" stroke="#7693d2" stroke-width="0.9" fill="none"/>
<circle cx="1401.8" cy="2051.9" r="4.7" fill="#d6e1f7" stroke="#b3c6ee" stroke-width="1"/><path d="M1399.3 2052.0h5" stroke="#7693d2" stroke-width="0.9" fill="none"/>
<circle cx="1324.1" cy="1413.5" r="4.7" fill="#d6e1f7" stroke="#b3c6ee" stroke-width="1"/><path d="M1321.6 1413.6h5" stroke="#7693d2" stroke-width="0.9" fill="none"/>
<circle cx="1234.1" cy="1365.5" r="4.7" fill="#d6e1f7" stroke="#b3c6ee" stroke-width="1"/><path d="M1231.6 1365.6h5" stroke="#7693d2" stroke-width="0.9" fill="none"/>
<circle cx="1257.0" cy="1429.5" r="4.7" fill="#d6e1f7" stroke="#b3c6ee" stroke-width="1"/><path d="M1254.5 1429.6h5" stroke="#7693d2" stroke-width="0.9" fill="none"/>
<circle cx="1155.3" cy="1413.5" r="4.7" fill="#d6e1f7" stroke="#b3c6ee" stroke-width="1"/><path d="M1152.8 1413.6h5" stroke="#7693d2" stroke-width="0.9" fill="none"/>
<circle cx="1066.9" cy="1397.5" r="4.7" fill="#d6e1f7" stroke="#b3c6ee" stroke-width="1"/><path d="M1064.4 1397.6h5" stroke="#7693d2" stroke-width="0.9" fill="none"/>
<circle cx="417.8" cy="1397.5" r="4.7" fill="#d6e1f7" stroke="#b3c6ee" stroke-width="1"/><path d="M415.3 1397.6h5" stroke="#7693d2" stroke-width="0.9" fill="none"/>
<circle cx="1059.4" cy="1429.5" r="4.7" fill="#d6e1f7" stroke="#b3c6ee" stroke-width="1"/><path d="M1056.9 1429.6h5" stroke="#7693d2" stroke-width="0.9" fill="none"/>
<circle cx="959.5" cy="1429.5" r="4.7" fill="#d6e1f7" stroke="#b3c6ee" stroke-width="1"/><path d="M957.0 1429.6h5" stroke="#7693d2" stroke-width="0.9" fill="none"/>
<circle cx="786.1" cy="1429.5" r="4.7" fill="#d6e1f7" stroke="#b3c6ee" stroke-width="1"/><path d="M783.6 1429.6h5" stroke="#7693d2" stroke-width="0.9" fill="none"/>
<circle cx="1068.7" cy="1461.5" r="4.7" fill="#d6e1f7" stroke="#b3c6ee" stroke-width="1"/><path d="M1066.2 1461.6h5" stroke="#7693d2" stroke-width="0.9" fill="none"/>
<circle cx="995.2" cy="1461.5" r="4.7" fill="#d6e1f7" stroke="#b3c6ee" stroke-width="1"/><path d="M992.7 1461.6h5" stroke="#7693d2" stroke-width="0.9" fill="none"/>
<circle cx="548.7" cy="1461.5" r="4.7" fill="#d6e1f7" stroke="#b3c6ee" stroke-width="1"/><path d="M546.2 1461.6h5" stroke="#7693d2" stroke-width="0.9" fill="none"/>
<circle cx="1338.5" cy="1557.5" r="4.7" fill="#d6e1f7" stroke="#b3c6ee" stroke-width="1"/><path d="M1336.0 1557.6h5" stroke="#7693d2" stroke-width="0.9" fill="none"/>
<circle cx="1268.6" cy="1493.5" r="4.7" fill="#d6e1f7" stroke="#b3c6ee" stroke-width="1"/><path d="M1266.1 1493.6h5" stroke="#7693d2" stroke-width="0.9" fill="none"/>
<circle cx="656.8" cy="1493.5" r="4.7" fill="#d6e1f7" stroke="#b3c6ee" stroke-width="1"/><path d="M654.3 1493.6h5" stroke="#7693d2" stroke-width="0.9" fill="none"/>
<circle cx="1260.7" cy="1573.5" r="4.7" fill="#d6e1f7" stroke="#b3c6ee" stroke-width="1"/><path d="M1258.2 1573.6h5" stroke="#7693d2" stroke-width="0.9" fill="none"/>
<circle cx="1143.7" cy="1541.5" r="4.7" fill="#d6e1f7" stroke="#b3c6ee" stroke-width="1"/><path d="M1141.2 1541.6h5" stroke="#7693d2" stroke-width="0.9" fill="none"/>
<circle cx="731.8" cy="1541.5" r="4.7" fill="#d6e1f7" stroke="#b3c6ee" stroke-width="1"/><path d="M729.3 1541.6h5" stroke="#7693d2" stroke-width="0.9" fill="none"/>
<circle cx="1118.9" cy="1605.5" r="4.7" fill="#d6e1f7" stroke="#b3c6ee" stroke-width="1"/><path d="M1116.4 1605.6h5" stroke="#7693d2" stroke-width="0.9" fill="none"/>
<circle cx="1329.4" cy="1939.0" r="4.7" fill="#d6e1f7" stroke="#b3c6ee" stroke-width="1"/><path d="M1326.9 1939.1h5" stroke="#7693d2" stroke-width="0.9" fill="none"/>
<circle cx="1191.1" cy="1923.0" r="4.7" fill="#d6e1f7" stroke="#b3c6ee" stroke-width="1"/><path d="M1188.6 1923.1h5" stroke="#7693d2" stroke-width="0.9" fill="none"/>
<circle cx="754.1" cy="2069.1" r="4.7" fill="#d6e1f7" stroke="#b3c6ee" stroke-width="1"/><path d="M751.6 2069.2h5" stroke="#7693d2" stroke-width="0.9" fill="none"/>
<circle cx="482.1" cy="2069.1" r="4.7" fill="#d6e1f7" stroke="#b3c6ee" stroke-width="1"/><path d="M479.6 2069.2h5" stroke="#7693d2" stroke-width="0.9" fill="none"/>
<circle cx="1187.9" cy="2224.5" r="4.7" fill="#d6e1f7" stroke="#b3c6ee" stroke-width="1"/><path d="M1185.4 2224.6h5" stroke="#7693d2" stroke-width="0.9" fill="none"/>
<circle cx="1330.0" cy="2369.4" r="4.7" fill="#d6e1f7" stroke="#b3c6ee" stroke-width="1"/><path d="M1327.5 2369.5h5" stroke="#7693d2" stroke-width="0.9" fill="none"/>
<circle cx="893.0" cy="2369.4" r="4.7" fill="#d6e1f7" stroke="#b3c6ee" stroke-width="1"/><path d="M890.5 2369.5h5" stroke="#7693d2" stroke-width="0.9" fill="none"/>
<circle cx="521.6" cy="2369.4" r="4.7" fill="#d6e1f7" stroke="#b3c6ee" stroke-width="1"/><path d="M519.1 2369.5h5" stroke="#7693d2" stroke-width="0.9" fill="none"/>
<circle cx="1327.9" cy="2514.3" r="4.7" fill="#d6e1f7" stroke="#b3c6ee" stroke-width="1"/><path d="M1325.4 2514.4h5" stroke="#7693d2" stroke-width="0.9" fill="none"/>
<circle cx="1306.4" cy="2546.3" r="4.7" fill="#d6e1f7" stroke="#b3c6ee" stroke-width="1"/><path d="M1303.9 2546.4h5" stroke="#7693d2" stroke-width="0.9" fill="none"/>
<circle cx="1319.1" cy="2594.3" r="4.7" fill="#d6e1f7" stroke="#b3c6ee" stroke-width="1"/><path d="M1316.6 2594.4h5" stroke="#7693d2" stroke-width="0.9" fill="none"/>
<circle cx="1313.5" cy="2690.3" r="4.7" fill="#d6e1f7" stroke="#b3c6ee" stroke-width="1"/><path d="M1311.0 2690.4h5" stroke="#7693d2" stroke-width="0.9" fill="none"/>
<circle cx="1237.9" cy="2642.3" r="4.7" fill="#d6e1f7" stroke="#b3c6ee" stroke-width="1"/><path d="M1235.4 2642.4h5" stroke="#7693d2" stroke-width="0.9" fill="none"/>
<circle cx="1222.3" cy="2674.3" r="4.7" fill="#d6e1f7" stroke="#b3c6ee" stroke-width="1"/><path d="M1219.8 2674.4h5" stroke="#7693d2" stroke-width="0.9" fill="none"/>
<circle cx="1219.8" cy="2706.3" r="4.7" fill="#d6e1f7" stroke="#b3c6ee" stroke-width="1"/><path d="M1217.3 2706.4h5" stroke="#7693d2" stroke-width="0.9" fill="none"/>
<circle cx="1014.1" cy="2706.3" r="4.7" fill="#d6e1f7" stroke="#b3c6ee" stroke-width="1"/><path d="M1011.6 2706.4h5" stroke="#7693d2" stroke-width="0.9" fill="none"/>
<circle cx="1246.3" cy="2738.3" r="4.7" fill="#d6e1f7" stroke="#b3c6ee" stroke-width="1"/><path d="M1243.8 2738.4h5" stroke="#7693d2" stroke-width="0.9" fill="none"/>
<ellipse cx="1995.6" cy="1322.9" rx="161.1" ry="43" fill="url(#og)" stroke="#828282" stroke-width="4.7"/>
<text x="1870.4" y="1329.9" textLength="250.3" lengthAdjust="spacingAndGlyphs" font-size="20.5" font-weight="bold" fill="#4a4a4a">Evaluate the information</text>
<g opacity="0.999">
<text x="2171.8" y="371.6" textLength="49.4" lengthAdjust="spacingAndGlyphs" font-size="16.7" font-weight="bold" fill="#2b2b2b">Ethics</text>
<text x="2264.2" y="82.0" textLength="15.5" lengthAdjust="spacingAndGlyphs" font-size="12.8" font-weight="normal" fill="#a33b1f">EC</text>
<text x="2320.7" y="82.0" textLength="121.6" lengthAdjust="spacingAndGlyphs" font-size="12.8" font-weight="normal" fill="#a33b1f">Consider how to get</text>
<text x="2486.4" y="34.0" textLength="53.9" lengthAdjust="spacingAndGlyphs" font-size="12.8" font-weight="normal" fill="#a33b1f">Moisture</text>
<text x="2581.4" y="34.0" textLength="121.3" lengthAdjust="spacingAndGlyphs" font-size="12.8" font-weight="normal" fill="#a33b1f">Need a water source</text>
<text x="2483.4" y="66.0" textLength="57.0" lengthAdjust="spacingAndGlyphs" font-size="12.8" font-weight="normal" fill="#a33b1f">Nutrients</text>
<text x="2483.4" y="98.0" textLength="17.0" lengthAdjust="spacingAndGlyphs" font-size="12.8" font-weight="normal" fill="#a33b1f">Air</text>
<text x="2483.4" y="130.0" textLength="43.9" lengthAdjust="spacingAndGlyphs" font-size="12.8" font-weight="normal" fill="#a33b1f">Soil life</text>
<text x="2264.2" y="258.0" textLength="16.2" lengthAdjust="spacingAndGlyphs" font-size="12.8" font-weight="normal" fill="#a33b1f">PC</text>
<text x="2321.4" y="210.0" textLength="210.5" lengthAdjust="spacingAndGlyphs" font-size="12.8" font-weight="normal" fill="#a33b1f">Build in education for many people</text>
<text x="2573.0" y="162.0" textLength="65.6" lengthAdjust="spacingAndGlyphs" font-size="12.8" font-weight="normal" fill="#a33b1f">Volunteers</text>
<text x="2679.6" y="162.0" textLength="170.7" lengthAdjust="spacingAndGlyphs" font-size="12.8" font-weight="normal" fill="#a33b1f">Arrange practical experience</text>
<text x="2573.0" y="210.0" textLength="53.9" lengthAdjust="spacingAndGlyphs" font-size="12.8" font-weight="normal" fill="#a33b1f">Students</text>
<text x="2667.9" y="194.0" textLength="170.7" lengthAdjust="spacingAndGlyphs" font-size="12.8" font-weight="normal" fill="#a33b1f">Arrange practical experience</text>
<text x="2667.9" y="226.0" textLength="141.1" lengthAdjust="spacingAndGlyphs" font-size="12.8" font-weight="normal" fill="#a33b1f">Prepare documentation</text>
<text x="2573.0" y="258.0" textLength="83.4" lengthAdjust="spacingAndGlyphs" font-size="12.8" font-weight="normal" fill="#a33b1f">Family friends</text>
<text x="2697.4" y="258.0" textLength="141.1" lengthAdjust="spacingAndGlyphs" font-size="12.8" font-weight="normal" fill="#a33b1f">Prepare documentation</text>
<text x="2321.4" y="290.0" textLength="91.5" lengthAdjust="spacingAndGlyphs" font-size="12.8" font-weight="normal" fill="#a33b1f">Food for family</text>
<text x="2453.9" y="290.0" textLength="112.9" lengthAdjust="spacingAndGlyphs" font-size="12.8" font-weight="normal" fill="#a33b1f">Varied of nutrients</text>
<text x="2321.4" y="322.0" textLength="64.6" lengthAdjust="spacingAndGlyphs" font-size="12.8" font-weight="normal" fill="#a33b1f">Enjoyment</text>
<text x="2321.4" y="354.0" textLength="117.4" lengthAdjust="spacingAndGlyphs" font-size="12.8" font-weight="normal" fill="#a33b1f">Place for socialising</text>
<text x="2264.2" y="546.0" textLength="14.1" lengthAdjust="spacingAndGlyphs" font-size="12.8" font-weight="normal" fill="#a33b1f">FS</text>
<text x="2319.3" y="386.0" textLength="388.0" lengthAdjust="spacingAndGlyphs" font-size="12.8" font-weight="normal" fill="#a33b1f">Ensure there is enough plants that go to flower to attract insects</text>
<text x="2319.3" y="434.0" textLength="398.7" lengthAdjust="spacingAndGlyphs" font-size="12.8" font-weight="normal" fill="#a33b1f">Ensure there are enough green plants producing foliage for mulch</text>
<text x="2759.0" y="434.0" textLength="54.8" lengthAdjust="spacingAndGlyphs" font-size="12.8" font-weight="normal" fill="#a33b1f">including</text>
<text x="2854.8" y="418.0" textLength="90.1" lengthAdjust="spacingAndGlyphs" font-size="12.8" font-weight="normal" fill="#a33b1f">Nitrogen fixers</text>
<text x="2854.8" y="450.0" textLength="134.8" lengthAdjust="spacingAndGlyphs" font-size="12.8" font-weight="normal" fill="#a33b1f">Nutrient accumulators</text>
<text x="2319.3" y="498.0" textLength="614.7" lengthAdjust="spacingAndGlyphs" font-size="12.8" font-weight="normal" fill="#a33b1f">Ensure there are enough woody/carbon rich plants producing enough growth to chop and drop mulch</text>
<text x="2975.0" y="498.0" textLength="54.8" lengthAdjust="spacingAndGlyphs" font-size="12.8" font-weight="normal" fill="#a33b1f">including</text>
<text x="3070.8" y="482.0" textLength="90.1" lengthAdjust="spacingAndGlyphs" font-size="12.8" font-weight="normal" fill="#a33b1f">Nitrogen fixers</text>
<text x="3070.8" y="514.0" textLength="134.8" lengthAdjust="spacingAndGlyphs" font-size="12.8" font-weight="normal" fill="#a33b1f">Nutrient accumulators</text>
<text x="2319.3" y="594.0" textLength="192.0" lengthAdjust="spacingAndGlyphs" font-size="12.8" font-weight="normal" fill="#a33b1f">Allow many plants to go to seed</text>
<text x="2552.3" y="546.0" textLength="65.2" lengthAdjust="spacingAndGlyphs" font-size="12.8" font-weight="normal" fill="#a33b1f">Save seeds</text>
<text x="2552.3" y="578.0" textLength="68.7" lengthAdjust="spacingAndGlyphs" font-size="12.8" font-weight="normal" fill="#a33b1f">Plant seeds</text>
<text x="2552.3" y="610.0" textLength="141.2" lengthAdjust="spacingAndGlyphs" font-size="12.8" font-weight="normal" fill="#a33b1f">Share the surplus seeds</text>
<text x="2552.3" y="642.0" textLength="120.5" lengthAdjust="spacingAndGlyphs" font-size="12.8" font-weight="normal" fill="#a33b1f">Share surplus plants</text>
<text x="2319.3" y="690.0" textLength="342.5" lengthAdjust="spacingAndGlyphs" font-size="12.8" font-weight="normal" fill="#a33b1f">Have plenty of plants that can be propagated by cuttings</text>
<text x="2705.9" y="674.0" textLength="86.0" lengthAdjust="spacingAndGlyphs" font-size="12.8" font-weight="normal" fill="#a33b1f">Share cuttings</text>
<text x="2705.9" y="706.0" textLength="83.3" lengthAdjust="spacingAndGlyphs" font-size="12.8" font-weight="normal" fill="#a33b1f">Plant cuttings</text>
<text x="2830.2" y="706.0" textLength="126.0" lengthAdjust="spacingAndGlyphs" font-size="12.8" font-weight="normal" fill="#a33b1f">Share the new plants</text>
<text x="2227.5" y="1052.6" textLength="81.9" lengthAdjust="spacingAndGlyphs" font-size="16.7" font-weight="bold" fill="#2b2b2b">Basemaps</text>
<text x="2351.9" y="1050.7" textLength="54.9" lengthAdjust="spacingAndGlyphs" font-size="12.8" font-weight="normal" fill="#a33b1f">Basemap</text>
<text x="2605.6" y="1013.7" textLength="84.0" lengthAdjust="spacingAndGlyphs" font-size="12.8" font-weight="normal" fill="#a33b1f">Forest garden</text>
<text x="2528.8" y="1333.8" textLength="237.7" lengthAdjust="spacingAndGlyphs" font-size="12.8" font-weight="normal" fill="#a33b1f">Permaculture garden and forest garden</text>
<text x="2230.4" y="1461.6" textLength="190.3" lengthAdjust="spacingAndGlyphs" font-size="16.7" font-weight="bold" fill="#2b2b2b">Possible Tools (unused)</text>
<text x="2463.5" y="1395.9" textLength="130.0" lengthAdjust="spacingAndGlyphs" font-size="12.8" font-weight="normal" fill="#a33b1f">Input/Output analysis</text>
<text x="2463.5" y="1427.9" textLength="38.0" lengthAdjust="spacingAndGlyphs" font-size="12.8" font-weight="normal" fill="#a33b1f">SWOC</text>
<text x="2463.5" y="1459.9" textLength="85.2" lengthAdjust="spacingAndGlyphs" font-size="12.8" font-weight="normal" fill="#a33b1f">Element cards</text>
<text x="2463.5" y="1491.9" textLength="23.1" lengthAdjust="spacingAndGlyphs" font-size="12.8" font-weight="normal" fill="#a33b1f">PMI</text>
<text x="2463.5" y="1523.9" textLength="29.9" lengthAdjust="spacingAndGlyphs" font-size="12.8" font-weight="normal" fill="#a33b1f">4 Q's</text>
<text x="2230.2" y="1594.8" textLength="239.5" lengthAdjust="spacingAndGlyphs" font-size="16.7" font-weight="bold" fill="#2b2b2b">PASE or PASTE of what exists</text>
<text x="2172.1" y="2286.6" textLength="160.7" lengthAdjust="spacingAndGlyphs" font-size="16.7" font-weight="bold" fill="#2b2b2b">9 ways of observing</text>
<text x="2376.2" y="1741.1" textLength="143.1" lengthAdjust="spacingAndGlyphs" font-size="12.8" font-weight="normal" fill="#a33b1f">Observing Communities</text>
<text x="2560.3" y="1677.1" textLength="220.8" lengthAdjust="spacingAndGlyphs" font-size="12.8" font-weight="normal" fill="#a33b1f">The sweetpea likes the original fence</text>
<text x="2825.2" y="1661.1" textLength="681.6" lengthAdjust="spacingAndGlyphs" font-size="12.8" font-weight="normal" fill="#a33b1f">Our original fence was a wire fence. Neighbours built a 2 meter solid wooden fence on their side and left our fence</text>
<text x="2825.2" y="1693.1" textLength="344.1" lengthAdjust="spacingAndGlyphs" font-size="12.8" font-weight="normal" fill="#a33b1f">Consider keeping the original fence for things to climb on</text>
<text x="2560.3" y="1741.1" textLength="180.3" lengthAdjust="spacingAndGlyphs" font-size="12.8" font-weight="normal" fill="#a33b1f">Goosegrass loves the bare soil</text>
<text x="2781.7" y="1725.1" textLength="214.9" lengthAdjust="spacingAndGlyphs" font-size="12.8" font-weight="normal" fill="#a33b1f">If you want goosegrass bare the soil</text>
<text x="2781.7" y="1757.1" textLength="283.3" lengthAdjust="spacingAndGlyphs" font-size="12.8" font-weight="normal" fill="#a33b1f">If you dont want goosegrass, dont bare the soil</text>
<text x="3106.0" y="1757.1" textLength="238.3" lengthAdjust="spacingAndGlyphs" font-size="12.8" font-weight="normal" fill="#a33b1f">This also goes for other so called weeds</text>
<text x="3385.3" y="1757.1" textLength="556.6" lengthAdjust="spacingAndGlyphs" font-size="12.8" font-weight="normal" fill="#a33b1f">Consider having an area where you bare the soil just to see what interesting plants do appear</text>
<text x="2560.3" y="1805.1" textLength="209.5" lengthAdjust="spacingAndGlyphs" font-size="12.8" font-weight="normal" fill="#a33b1f">Bramble loves to grow everywhere</text>
<text x="2810.8" y="1805.1" textLength="320.5" lengthAdjust="spacingAndGlyphs" font-size="12.8" font-weight="normal" fill="#a33b1f">Bramble grows in the long grass which is a trip hazard</text>
<text x="3172.4" y="1805.1" textLength="192.7" lengthAdjust="spacingAndGlyphs" font-size="12.8" font-weight="normal" fill="#a33b1f">Need a strategy for the bramble</text>
<text x="3406.0" y="1789.1" textLength="136.8" lengthAdjust="spacingAndGlyphs" font-size="12.8" font-weight="normal" fill="#a33b1f">Dig up what is possible</text>
<text x="3406.0" y="1821.1" textLength="330.7" lengthAdjust="spacingAndGlyphs" font-size="12.8" font-weight="normal" fill="#a33b1f">Train rest upwards to avoid it running along the ground</text>
<text x="2376.2" y="1869.1" textLength="106.8" lengthAdjust="spacingAndGlyphs" font-size="12.8" font-weight="normal" fill="#a33b1f">Observing Energy</text>
<text x="2524.0" y="1869.1" textLength="22.3" lengthAdjust="spacingAndGlyphs" font-size="12.8" font-weight="normal" fill="#a33b1f">Sun</text>
<text x="2590.4" y="1869.1" textLength="237.3" lengthAdjust="spacingAndGlyphs" font-size="12.8" font-weight="normal" fill="#a33b1f">Fence has created shade in some places</text>
<text x="2868.8" y="1869.1" textLength="567.5" lengthAdjust="spacingAndGlyphs" font-size="12.8" font-weight="normal" fill="#a33b1f">Consider how to make the fence smaller or ask the neighbours to allow light through the fence</text>
<text x="3477.2" y="1853.1" textLength="190.5" lengthAdjust="spacingAndGlyphs" font-size="12.8" font-weight="normal" fill="#a33b1f">Unlikely as they are not friendly</text>
<text x="3477.2" y="1885.1" textLength="167.4" lengthAdjust="spacingAndGlyphs" font-size="12.8" font-weight="normal" fill="#a33b1f">So work with what you have</text>
<text x="2376.2" y="1917.1" textLength="116.3" lengthAdjust="spacingAndGlyphs" font-size="12.8" font-weight="normal" fill="#a33b1f">Observing Patterns</text>
<text x="2533.5" y="1917.1" textLength="177.1" lengthAdjust="spacingAndGlyphs" font-size="12.8" font-weight="normal" fill="#a33b1f">Lots of bluebells in the spring</text>
<text x="2751.6" y="1917.1" textLength="316.8" lengthAdjust="spacingAndGlyphs" font-size="12.8" font-weight="normal" fill="#a33b1f">Replaced by cinqufoils, dandilions, etc later in season</text>
<text x="3109.4" y="1917.1" textLength="438.6" lengthAdjust="spacingAndGlyphs" font-size="12.8" font-weight="normal" fill="#a33b1f">Bluebells add colour and early season interest. Can also be used for glue.</text>
<text x="3592.0" y="1917.1" textLength="107.3" lengthAdjust="spacingAndGlyphs" font-size="12.8" font-weight="normal" fill="#a33b1f">So let them thrive</text>
<text x="2376.2" y="1997.1" textLength="93.9" lengthAdjust="spacingAndGlyphs" font-size="12.8" font-weight="normal" fill="#a33b1f">Observing Flow</text>
<text x="2511.1" y="1965.1" textLength="36.7" lengthAdjust="spacingAndGlyphs" font-size="12.8" font-weight="normal" fill="#a33b1f">Water</text>
<text x="2588.8" y="1949.1" textLength="276.0" lengthAdjust="spacingAndGlyphs" font-size="12.8" font-weight="normal" fill="#a33b1f">Collected via the roof and comes down a pipe.</text>
<text x="2905.8" y="1949.1" textLength="367.8" lengthAdjust="spacingAndGlyphs" font-size="12.8" font-weight="normal" fill="#a33b1f">This is currently being diverted to next doors water collection</text>
<text x="3314.7" y="1949.1" textLength="261.1" lengthAdjust="spacingAndGlyphs" font-size="12.8" font-weight="normal" fill="#a33b1f">Can divert some of the water to this garden</text>
<text x="2588.8" y="1981.1" textLength="165.9" lengthAdjust="spacingAndGlyphs" font-size="12.8" font-weight="normal" fill="#a33b1f">No natural collection points</text>
<text x="2795.7" y="1981.1" textLength="165.6" lengthAdjust="spacingAndGlyphs" font-size="12.8" font-weight="normal" fill="#a33b1f">No natural place for a pond</text>
<text x="3002.3" y="1981.1" textLength="198.0" lengthAdjust="spacingAndGlyphs" font-size="12.8" font-weight="normal" fill="#a33b1f">Be creative in where a pond goes</text>
<text x="2511.1" y="2013.1" textLength="31.4" lengthAdjust="spacingAndGlyphs" font-size="12.8" font-weight="normal" fill="#a33b1f">Wind</text>
<text x="2583.5" y="2013.1" textLength="234.3" lengthAdjust="spacingAndGlyphs" font-size="12.8" font-weight="normal" fill="#a33b1f">Most of the year wind flows from WSW</text>
<text x="2858.8" y="2013.1" textLength="443.5" lengthAdjust="spacingAndGlyphs" font-size="12.8" font-weight="normal" fill="#a33b1f">House blocks wind and creates a little turbulence at the end of the garden</text>
<text x="3343.2" y="2013.1" textLength="454.2" lengthAdjust="spacingAndGlyphs" font-size="12.8" font-weight="normal" fill="#a33b1f">Wind is not so much of a problem in this garden, so no need for a windbreak</text>
<text x="2511.1" y="2045.1" textLength="41.7" lengthAdjust="spacingAndGlyphs" font-size="12.8" font-weight="normal" fill="#a33b1f">People</text>
<text x="2593.8" y="2045.1" textLength="139.4" lengthAdjust="spacingAndGlyphs" font-size="12.8" font-weight="normal" fill="#a33b1f">Garden is not well used</text>
<text x="2774.2" y="2045.1" textLength="313.8" lengthAdjust="spacingAndGlyphs" font-size="12.8" font-weight="normal" fill="#a33b1f">Design in some flow (a reason for people to be here)</text>
<text x="2376.2" y="2157.1" textLength="52.7" lengthAdjust="spacingAndGlyphs" font-size="12.8" font-weight="normal" fill="#a33b1f">I wonder</text>
<text x="2469.9" y="2093.1" textLength="263.1" lengthAdjust="spacingAndGlyphs" font-size="12.8" font-weight="normal" fill="#a33b1f">If the cherry tree is a sucker or is self seeded</text>
<text x="2774.0" y="2093.1" textLength="240.6" lengthAdjust="spacingAndGlyphs" font-size="12.8" font-weight="normal" fill="#a33b1f">Wasn't planning to have another cherry.</text>
<text x="3055.6" y="2093.1" textLength="259.9" lengthAdjust="spacingAndGlyphs" font-size="12.8" font-weight="normal" fill="#a33b1f">Tree is in the shade, so may not fruit so well</text>
<text x="3356.5" y="2093.1" textLength="120.5" lengthAdjust="spacingAndGlyphs" font-size="12.8" font-weight="normal" fill="#a33b1f">Seedling has 2 forks</text>
<text x="3518.0" y="2077.1" textLength="311.0" lengthAdjust="spacingAndGlyphs" font-size="12.8" font-weight="normal" fill="#a33b1f">Maybe layer one of the forks to  get roots and move</text>
<text x="3518.0" y="2109.1" textLength="348.5" lengthAdjust="spacingAndGlyphs" font-size="12.8" font-weight="normal" fill="#a33b1f">Espalier the tree to get a better shape and keep size down</text>
<text x="2469.9" y="2157.1" textLength="379.3" lengthAdjust="spacingAndGlyphs" font-size="12.8" font-weight="normal" fill="#a33b1f">Why the apple tree has been so unproductive for so many years</text>
<text x="2890.2" y="2141.1" textLength="69.9" lengthAdjust="spacingAndGlyphs" font-size="12.8" font-weight="normal" fill="#a33b1f">No pruning</text>
<text x="3001.1" y="2141.1" textLength="225.7" lengthAdjust="spacingAndGlyphs" font-size="12.8" font-weight="normal" fill="#a33b1f">Prune only branches that are clashing</text>
<text x="2890.2" y="2173.1" textLength="75.5" lengthAdjust="spacingAndGlyphs" font-size="12.8" font-weight="normal" fill="#a33b1f">No nutrients</text>
<text x="3006.7" y="2173.1" textLength="554.3" lengthAdjust="spacingAndGlyphs" font-size="12.8" font-weight="normal" fill="#a33b1f">Clear weeds from under tree and plant a diversity of plants to allow more air and nutrients in</text>
<text x="2469.9" y="2221.1" textLength="373.0" lengthAdjust="spacingAndGlyphs" font-size="12.8" font-weight="normal" fill="#a33b1f">Why the pear tree has been so unproductive for so many years</text>
<text x="2883.9" y="2221.1" textLength="142.9" lengthAdjust="spacingAndGlyphs" font-size="12.8" font-weight="normal" fill="#a33b1f">I wonder if it is still alive</text>
<text x="3067.8" y="2221.1" textLength="75.5" lengthAdjust="spacingAndGlyphs" font-size="12.8" font-weight="normal" fill="#a33b1f">No nutrients</text>
<text x="3184.3" y="2205.1" textLength="554.3" lengthAdjust="spacingAndGlyphs" font-size="12.8" font-weight="normal" fill="#a33b1f">Clear weeds from under tree and plant a diversity of plants to allow more air and nutrients in</text>
<text x="3184.3" y="2237.1" textLength="143.0" lengthAdjust="spacingAndGlyphs" font-size="12.8" font-weight="normal" fill="#a33b1f">Consider making a guild</text>
<text x="2376.2" y="2349.1" textLength="101.2" lengthAdjust="spacingAndGlyphs" font-size="12.8" font-weight="normal" fill="#a33b1f">Observing Edges</text>
<text x="2518.4" y="2269.1" textLength="146.6" lengthAdjust="spacingAndGlyphs" font-size="12.8" font-weight="normal" fill="#a33b1f">Old flower beds to grass</text>
<text x="2706.0" y="2269.1" textLength="66.3" lengthAdjust="spacingAndGlyphs" font-size="12.8" font-weight="normal" fill="#a33b1f">Very blurry</text>
<text x="2813.3" y="2269.1" textLength="261.4" lengthAdjust="spacingAndGlyphs" font-size="12.8" font-weight="normal" fill="#a33b1f">More weeds in flowerbeds than in the grass</text>
<text x="2518.4" y="2317.1" textLength="623.4" lengthAdjust="spacingAndGlyphs" font-size="12.8" font-weight="normal" fill="#a33b1f">The edge between our garden and this garden has a small fence which blocks some sun from our garden</text>
<text x="3182.9" y="2301.1" textLength="173.4" lengthAdjust="spacingAndGlyphs" font-size="12.8" font-weight="normal" fill="#a33b1f">Consider removing the fence</text>
<text x="3182.9" y="2333.1" textLength="241.7" lengthAdjust="spacingAndGlyphs" font-size="12.8" font-weight="normal" fill="#a33b1f">Could put up some wire to help climbers</text>
<text x="2518.4" y="2365.1" textLength="458.6" lengthAdjust="spacingAndGlyphs" font-size="12.8" font-weight="normal" fill="#a33b1f">The edge at the back of the garden is a tall fence, which casts morning shade</text>
<text x="3018.0" y="2365.1" textLength="266.9" lengthAdjust="spacingAndGlyphs" font-size="12.8" font-weight="normal" fill="#a33b1f">Potentially use this for shade loving climbers</text>
<text x="3325.9" y="2365.1" textLength="823.6" lengthAdjust="spacingAndGlyphs" font-size="12.8" font-weight="normal" fill="#a33b1f">There is a rampant bramble near the fence, which I cannot dig out without removing the shed, so consider allowing this to climb the fence</text>
<text x="2518.4" y="2397.1" textLength="319.3" lengthAdjust="spacingAndGlyphs" font-size="12.8" font-weight="normal" fill="#a33b1f">The neighbours elder tree overhangs into this garden</text>
<text x="2878.7" y="2397.1" textLength="58.2" lengthAdjust="spacingAndGlyphs" font-size="12.8" font-weight="normal" fill="#a33b1f">Harvest it</text>
<text x="2518.4" y="2429.1" textLength="578.3" lengthAdjust="spacingAndGlyphs" font-size="12.8" font-weight="normal" fill="#a33b1f">No clear defined edge between the garden and the paved area, which we will give to the tenants</text>
<text x="3137.7" y="2429.1" textLength="252.7" lengthAdjust="spacingAndGlyphs" font-size="12.8" font-weight="normal" fill="#a33b1f">Create a clear border and make more edge</text>
<text x="2376.2" y="2493.1" textLength="101.0" lengthAdjust="spacingAndGlyphs" font-size="12.8" font-weight="normal" fill="#a33b1f">Observing Limits</text>
<text x="2518.2" y="2461.1" textLength="139.4" lengthAdjust="spacingAndGlyphs" font-size="12.8" font-weight="normal" fill="#a33b1f">The patio is a boundary</text>
<text x="2698.6" y="2461.1" textLength="485.4" lengthAdjust="spacingAndGlyphs" font-size="12.8" font-weight="normal" fill="#a33b1f">We have given the patio area to the tenants, so we can only use the garden space</text>
<text x="3225.0" y="2461.1" textLength="185.3" lengthAdjust="spacingAndGlyphs" font-size="12.8" font-weight="normal" fill="#a33b1f">Make a natural border or fence</text>
<text x="2518.2" y="2509.1" textLength="280.2" lengthAdjust="spacingAndGlyphs" font-size="12.8" font-weight="normal" fill="#a33b1f">The shed door is only accessible from the patio</text>
<text x="2839.4" y="2493.1" textLength="403.7" lengthAdjust="spacingAndGlyphs" font-size="12.8" font-weight="normal" fill="#a33b1f">Make a new shed or other structure, with an entrance in the garden</text>
<text x="2839.4" y="2525.1" textLength="277.2" lengthAdjust="spacingAndGlyphs" font-size="12.8" font-weight="normal" fill="#a33b1f">Keep an entrance from the garden to the patio</text>
<text x="2376.2" y="2605.1" textLength="147.0" lengthAdjust="spacingAndGlyphs" font-size="12.8" font-weight="normal" fill="#a33b1f">Observing from Stillness</text>
<text x="2564.2" y="2589.1" textLength="279.2" lengthAdjust="spacingAndGlyphs" font-size="12.8" font-weight="normal" fill="#a33b1f">Fairly quiet place given its proximity to London</text>
<text x="2884.4" y="2557.1" textLength="320.8" lengthAdjust="spacingAndGlyphs" font-size="12.8" font-weight="normal" fill="#a33b1f">In the background I hear cars and the occasional train</text>
<text x="2884.4" y="2589.1" textLength="112.5" lengthAdjust="spacingAndGlyphs" font-size="12.8" font-weight="normal" fill="#a33b1f">I hear birds singing</text>
<text x="2884.4" y="2621.1" textLength="164.7" lengthAdjust="spacingAndGlyphs" font-size="12.8" font-weight="normal" fill="#a33b1f">I dont hear frogs or crickets</text>
<text x="3090.1" y="2621.1" textLength="98.5" lengthAdjust="spacingAndGlyphs" font-size="12.8" font-weight="normal" fill="#a33b1f">Encourage frogs</text>
<text x="2564.2" y="2653.1" textLength="199.5" lengthAdjust="spacingAndGlyphs" font-size="12.8" font-weight="normal" fill="#a33b1f">I see a relative start of succession</text>
<text x="2804.6" y="2653.1" textLength="170.9" lengthAdjust="spacingAndGlyphs" font-size="12.8" font-weight="normal" fill="#a33b1f">There is a degree of richness</text>
<text x="3016.6" y="2653.1" textLength="337.3" lengthAdjust="spacingAndGlyphs" font-size="12.8" font-weight="normal" fill="#a33b1f">New trees and bushes are trying to establish themselves</text>
<text x="2376.2" y="2797.1" textLength="145.7" lengthAdjust="spacingAndGlyphs" font-size="12.8" font-weight="normal" fill="#a33b1f">Observing Past &amp; Future</text>
<text x="2562.9" y="2717.1" textLength="135.5" lengthAdjust="spacingAndGlyphs" font-size="12.8" font-weight="normal" fill="#a33b1f">In the memorable past</text>
<text x="2739.4" y="2685.1" textLength="205.1" lengthAdjust="spacingAndGlyphs" font-size="12.8" font-weight="normal" fill="#a33b1f">This was a well kept garden in 70's</text>
<text x="2739.4" y="2717.1" textLength="328.7" lengthAdjust="spacingAndGlyphs" font-size="12.8" font-weight="normal" fill="#a33b1f">By 80's we were working, so no one had time to keep it</text>
<text x="2739.4" y="2749.1" textLength="132.8" lengthAdjust="spacingAndGlyphs" font-size="12.8" font-weight="normal" fill="#a33b1f">90's it was abandoned</text>
<text x="2913.2" y="2749.1" textLength="378.1" lengthAdjust="spacingAndGlyphs" font-size="12.8" font-weight="normal" fill="#a33b1f">Would pay someone to keep coming in and clearing the growth</text>
<text x="2562.9" y="2845.1" textLength="207.4" lengthAdjust="spacingAndGlyphs" font-size="12.8" font-weight="normal" fill="#a33b1f">Historical data shows this area was</text>
<text x="2811.3" y="2797.1" textLength="193.0" lengthAdjust="spacingAndGlyphs" font-size="12.8" font-weight="normal" fill="#a33b1f">Relatively untouched until 1898</text>
<text x="3045.4" y="2781.1" textLength="156.8" lengthAdjust="spacingAndGlyphs" font-size="12.8" font-weight="normal" fill="#a33b1f">1901 the station was built</text>
<text x="3045.4" y="2813.1" textLength="247.0" lengthAdjust="spacingAndGlyphs" font-size="12.8" font-weight="normal" fill="#a33b1f">Houses were built between 1898 to 1910</text>
<text x="2811.3" y="2861.1" textLength="90.9" lengthAdjust="spacingAndGlyphs" font-size="12.8" font-weight="normal" fill="#a33b1f">Talbot Gardens</text>
<text x="2946.3" y="2845.1" textLength="199.8" lengthAdjust="spacingAndGlyphs" font-size="12.8" font-weight="normal" fill="#a33b1f">Was a garden nursery up to 1945</text>
<text x="3187.1" y="2845.1" textLength="191.9" lengthAdjust="spacingAndGlyphs" font-size="12.8" font-weight="normal" fill="#a33b1f">Hence the name Talbot Gardens</text>
<text x="2946.3" y="2877.1" textLength="185.7" lengthAdjust="spacingAndGlyphs" font-size="12.8" font-weight="normal" fill="#a33b1f">Houses were built here in 1945</text>
<text x="2811.3" y="2909.1" textLength="111.3" lengthAdjust="spacingAndGlyphs" font-size="12.8" font-weight="normal" fill="#a33b1f">Prior to that it was</text>
<text x="2963.6" y="2909.1" textLength="130.8" lengthAdjust="spacingAndGlyphs" font-size="12.8" font-weight="normal" fill="#a33b1f">woodland or meadow</text>
<text x="3135.5" y="2909.1" textLength="145.1" lengthAdjust="spacingAndGlyphs" font-size="12.8" font-weight="normal" fill="#a33b1f">It wants to be woodland</text>
<text x="3321.6" y="2909.1" textLength="139.2" lengthAdjust="spacingAndGlyphs" font-size="12.8" font-weight="normal" fill="#a33b1f">Make it a forest garden</text>
<text x="1514.6" y="809.6" textLength="256.8" lengthAdjust="spacingAndGlyphs" font-size="16.7" font-weight="bold" fill="#2b2b2b">Copy of collect site information</text>
<text x="1506.7" y="885.6" textLength="259.4" lengthAdjust="spacingAndGlyphs" font-size="16.7" font-weight="bold" fill="#2b2b2b">PASE or PASTE of what we want</text>
<text x="1626.2" y="1848.6" textLength="146.7" lengthAdjust="spacingAndGlyphs" font-size="16.7" font-weight="bold" fill="#2b2b2b">Zones and sectors</text>
<text x="1545.3" y="1144.8" textLength="36.2" lengthAdjust="spacingAndGlyphs" font-size="12.8" font-weight="normal" fill="#a33b1f">Zones</text>
<text x="1050.6" y="952.3" textLength="453.7" lengthAdjust="spacingAndGlyphs" font-size="12.8" font-weight="normal" fill="#a33b1f">Because this garden is next door to where we live, we do not go there often</text>
<text x="1314.9" y="984.3" textLength="189.4" lengthAdjust="spacingAndGlyphs" font-size="12.8" font-weight="normal" fill="#a33b1f">I therefore class this as a zone 3</text>
<text x="1241.5" y="1016.3" textLength="262.9" lengthAdjust="spacingAndGlyphs" font-size="12.8" font-weight="normal" fill="#a33b1f">With the roof of the shed a potential zone 4</text>
<text x="1233.5" y="1336.5" textLength="63.6" lengthAdjust="spacingAndGlyphs" font-size="12.8" font-weight="normal" fill="#a33b1f">Subtopic 1</text>
<text x="1536.9" y="2055.6" textLength="44.6" lengthAdjust="spacingAndGlyphs" font-size="12.8" font-weight="normal" fill="#a33b1f">Sectors</text>
<text x="1418.3" y="2055.6" textLength="77.5" lengthAdjust="spacingAndGlyphs" font-size="12.8" font-weight="normal" fill="#a33b1f">Energy flows</text>
<text x="1340.6" y="1417.2" textLength="36.7" lengthAdjust="spacingAndGlyphs" font-size="12.8" font-weight="normal" fill="#a33b1f">Water</text>
<text x="1250.6" y="1369.2" textLength="49.0" lengthAdjust="spacingAndGlyphs" font-size="12.8" font-weight="normal" fill="#a33b1f">Streams</text>
<text x="1177.1" y="1369.2" textLength="32.5" lengthAdjust="spacingAndGlyphs" font-size="12.8" font-weight="normal" fill="#a33b1f">None</text>
<text x="1273.5" y="1433.2" textLength="26.1" lengthAdjust="spacingAndGlyphs" font-size="12.8" font-weight="normal" fill="#a33b1f">Rain</text>
<text x="1171.8" y="1417.2" textLength="60.7" lengthAdjust="spacingAndGlyphs" font-size="12.8" font-weight="normal" fill="#a33b1f">Collection</text>
<text x="1083.4" y="1401.2" textLength="47.4" lengthAdjust="spacingAndGlyphs" font-size="12.8" font-weight="normal" fill="#a33b1f">Existing</text>
<text x="434.3" y="1401.2" textLength="608.1" lengthAdjust="spacingAndGlyphs" font-size="12.8" font-weight="normal" fill="#a33b1f">Currently water is being collected form the roof,but being used next door in the permaculture garden</text>
<text x="38.6" y="1401.2" textLength="354.7" lengthAdjust="spacingAndGlyphs" font-size="12.8" font-weight="normal" fill="#a33b1f">Look at ways of splitting water load or diverting it manually</text>
<text x="1075.9" y="1433.2" textLength="54.9" lengthAdjust="spacingAndGlyphs" font-size="12.8" font-weight="normal" fill="#a33b1f">Potential</text>
<text x="976.0" y="1433.2" textLength="58.9" lengthAdjust="spacingAndGlyphs" font-size="12.8" font-weight="normal" fill="#a33b1f">Shed roof</text>
<text x="802.6" y="1433.2" textLength="132.4" lengthAdjust="spacingAndGlyphs" font-size="12.8" font-weight="normal" fill="#a33b1f">Would need guttering</text>
<text x="536.8" y="1433.2" textLength="224.7" lengthAdjust="spacingAndGlyphs" font-size="12.8" font-weight="normal" fill="#a33b1f">And some way of capturing the water</text>
<text x="1085.2" y="1465.2" textLength="147.3" lengthAdjust="spacingAndGlyphs" font-size="12.8" font-weight="normal" fill="#a33b1f">Natural collection points</text>
<text x="1011.7" y="1465.2" textLength="32.5" lengthAdjust="spacingAndGlyphs" font-size="12.8" font-weight="normal" fill="#a33b1f">None</text>
<text x="565.2" y="1465.2" textLength="405.5" lengthAdjust="spacingAndGlyphs" font-size="12.8" font-weight="normal" fill="#a33b1f">Water soaks into the ground and does not sit for long at the surface</text>
<text x="167.2" y="1465.2" textLength="357.0" lengthAdjust="spacingAndGlyphs" font-size="12.8" font-weight="normal" fill="#a33b1f">Need to get more organic matter into the soil to hold water</text>
<text x="1355.0" y="1561.2" textLength="22.3" lengthAdjust="spacingAndGlyphs" font-size="12.8" font-weight="normal" fill="#a33b1f">Sun</text>
<text x="1285.1" y="1497.2" textLength="28.9" lengthAdjust="spacingAndGlyphs" font-size="12.8" font-weight="normal" fill="#a33b1f">Heat</text>
<text x="673.3" y="1497.2" textLength="570.8" lengthAdjust="spacingAndGlyphs" font-size="12.8" font-weight="normal" fill="#a33b1f">Almost east to west facing, so middle of the garden gets most sun, but nowhere is sunny all day</text>
<text x="407.0" y="1497.2" textLength="225.3" lengthAdjust="spacingAndGlyphs" font-size="12.8" font-weight="normal" fill="#a33b1f">Plant the right plant in the right place</text>
<text x="1277.2" y="1577.2" textLength="36.8" lengthAdjust="spacingAndGlyphs" font-size="12.8" font-weight="normal" fill="#a33b1f">Shade</text>
<text x="1160.2" y="1545.2" textLength="57.0" lengthAdjust="spacingAndGlyphs" font-size="12.8" font-weight="normal" fill="#a33b1f">See maps</text>
<text x="748.3" y="1545.2" textLength="370.8" lengthAdjust="spacingAndGlyphs" font-size="12.8" font-weight="normal" fill="#a33b1f">The animated maps clearly show which areas get the most sun</text>
<text x="482.0" y="1529.2" textLength="225.3" lengthAdjust="spacingAndGlyphs" font-size="12.8" font-weight="normal" fill="#a33b1f">Plant the right plant in the right place</text>
<text x="534.5" y="1561.2" textLength="172.8" lengthAdjust="spacingAndGlyphs" font-size="12.8" font-weight="normal" fill="#a33b1f">Make the best use of the sun</text>
<text x="1135.4" y="1609.2" textLength="100.8" lengthAdjust="spacingAndGlyphs" font-size="12.8" font-weight="normal" fill="#a33b1f">See animated gif</text>
<text x="1044.0" y="1593.2" textLength="32.5" lengthAdjust="spacingAndGlyphs" font-size="12.8" font-weight="normal" fill="#a33b1f">Small</text>
<text x="1042.6" y="1625.2" textLength="33.9" lengthAdjust="spacingAndGlyphs" font-size="12.8" font-weight="normal" fill="#a33b1f">Large</text>
<text x="1345.9" y="1942.7" textLength="31.4" lengthAdjust="spacingAndGlyphs" font-size="12.8" font-weight="normal" fill="#a33b1f">Wind</text>
<text x="1207.6" y="1926.7" textLength="97.3" lengthAdjust="spacingAndGlyphs" font-size="12.8" font-weight="normal" fill="#a33b1f">Prevailing winds</text>
<text x="936.8" y="2196.3" textLength="63.6" lengthAdjust="spacingAndGlyphs" font-size="12.8" font-weight="normal" fill="#a33b1f">Subtopic 2</text>
<text x="498.6" y="2072.8" textLength="231.0" lengthAdjust="spacingAndGlyphs" font-size="12.8" font-weight="normal" fill="#a33b1f">Given the turbulent zone is at the back</text>
<text x="24.4" y="2072.8" textLength="433.3" lengthAdjust="spacingAndGlyphs" font-size="12.8" font-weight="normal" fill="#a33b1f">Planting a big tree in the middle of the garden will help temper the wind</text>
<text x="1204.4" y="2228.2" textLength="100.6" lengthAdjust="spacingAndGlyphs" font-size="12.8" font-weight="normal" fill="#a33b1f">Wind generators</text>
<text x="1005.6" y="2228.2" textLength="157.7" lengthAdjust="spacingAndGlyphs" font-size="12.8" font-weight="normal" fill="#a33b1f">Potential at end of garden</text>
<text x="1346.5" y="2373.1" textLength="30.8" lengthAdjust="spacingAndGlyphs" font-size="12.8" font-weight="normal" fill="#a33b1f">Frost</text>
<text x="538.1" y="2373.1" textLength="330.4" lengthAdjust="spacingAndGlyphs" font-size="12.8" font-weight="normal" fill="#a33b1f">Avoid planting frost sensitive plants in the frost pocket</text>
<text x="271.8" y="2373.1" textLength="225.3" lengthAdjust="spacingAndGlyphs" font-size="12.8" font-weight="normal" fill="#a33b1f">Plant the right plant in the right place</text>
<text x="1344.4" y="2518.0" textLength="32.9" lengthAdjust="spacingAndGlyphs" font-size="12.8" font-weight="normal" fill="#a33b1f">Snow</text>
<text x="1153.1" y="2518.0" textLength="150.4" lengthAdjust="spacingAndGlyphs" font-size="12.8" font-weight="normal" fill="#a33b1f">Rare and never lasts long</text>
<text x="1322.9" y="2550.0" textLength="54.4" lengthAdjust="spacingAndGlyphs" font-size="12.8" font-weight="normal" fill="#a33b1f">Pollution</text>
<text x="1117.2" y="2550.0" textLength="164.8" lengthAdjust="spacingAndGlyphs" font-size="12.8" font-weight="normal" fill="#a33b1f">None that are worth noting</text>
<text x="1335.6" y="2598.0" textLength="41.7" lengthAdjust="spacingAndGlyphs" font-size="12.8" font-weight="normal" fill="#a33b1f">People</text>
<text x="1242.1" y="2582.0" textLength="52.5" lengthAdjust="spacingAndGlyphs" font-size="12.8" font-weight="normal" fill="#a33b1f">Tenants?</text>
<text x="1279.6" y="2614.0" textLength="15.0" lengthAdjust="spacingAndGlyphs" font-size="12.8" font-weight="normal" fill="#a33b1f">Us</text>
<text x="1330.0" y="2694.0" textLength="47.4" lengthAdjust="spacingAndGlyphs" font-size="12.8" font-weight="normal" fill="#a33b1f">Animals</text>
<text x="1254.4" y="2646.0" textLength="34.6" lengthAdjust="spacingAndGlyphs" font-size="12.8" font-weight="normal" fill="#a33b1f">Foxes</text>
<text x="1048.6" y="2646.0" textLength="164.7" lengthAdjust="spacingAndGlyphs" font-size="12.8" font-weight="normal" fill="#a33b1f">Never caused any problems</text>
<text x="1238.8" y="2678.0" textLength="50.1" lengthAdjust="spacingAndGlyphs" font-size="12.8" font-weight="normal" fill="#a33b1f">Rodents</text>
<text x="950.1" y="2678.0" textLength="247.7" lengthAdjust="spacingAndGlyphs" font-size="12.8" font-weight="normal" fill="#a33b1f">Never caused any problems in the garden</text>
<text x="1236.3" y="2710.0" textLength="52.6" lengthAdjust="spacingAndGlyphs" font-size="12.8" font-weight="normal" fill="#a33b1f">Squirrels</text>
<text x="1030.6" y="2710.0" textLength="164.7" lengthAdjust="spacingAndGlyphs" font-size="12.8" font-weight="normal" fill="#a33b1f">Never caused any problems</text>
<text x="789.8" y="2710.0" textLength="199.8" lengthAdjust="spacingAndGlyphs" font-size="12.8" font-weight="normal" fill="#a33b1f">Only once the dug up some bulbs</text>
<text x="1262.8" y="2742.0" textLength="26.2" lengthAdjust="spacingAndGlyphs" font-size="12.8" font-weight="normal" fill="#a33b1f">Cats</text>
<text x="1057.0" y="2742.0" textLength="164.7" lengthAdjust="spacingAndGlyphs" font-size="12.8" font-weight="normal" fill="#a33b1f">Never caused any problems</text>
</g>
</svg>
</body></html>
